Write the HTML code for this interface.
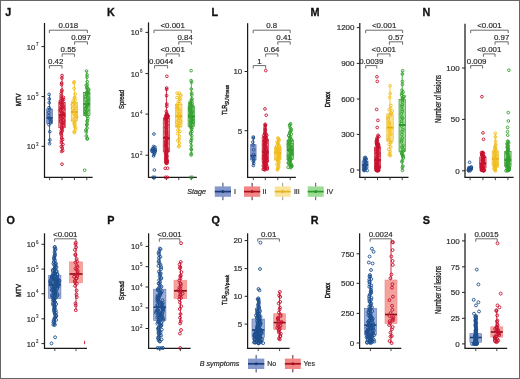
<!DOCTYPE html>
<html><head><meta charset="utf-8"><title>Figure</title>
<style>html,body{margin:0;padding:0;background:#fff;width:520px;height:379px;overflow:hidden}text{font-family:"Liberation Sans", sans-serif}</style>
</head><body><svg width="520" height="379" viewBox="0 0 520 379" style="display:block;font-family:'Liberation Sans', sans-serif"><defs><filter id="gs" x="0" y="0" width="1" height="1"><feColorMatrix type="saturate" values="1"/></filter></defs><g filter="url(#gs)"><rect x="0" y="0" width="520" height="379" fill="#fff"/>
<text x="5.30" y="15.90" font-size="10.8" text-anchor="start" font-weight="bold" fill="#111" stroke="#111" stroke-width="0.3" style="">J</text>
<text x="107.00" y="15.90" font-size="10.8" text-anchor="start" font-weight="bold" fill="#111" stroke="#111" stroke-width="0.3" style="">K</text>
<text x="211.60" y="15.90" font-size="10.8" text-anchor="start" font-weight="bold" fill="#111" stroke="#111" stroke-width="0.3" style="">L</text>
<text x="310.60" y="15.90" font-size="10.8" text-anchor="start" font-weight="bold" fill="#111" stroke="#111" stroke-width="0.3" style="">M</text>
<text x="422.60" y="15.90" font-size="10.8" text-anchor="start" font-weight="bold" fill="#111" stroke="#111" stroke-width="0.3" style="">N</text>
<text x="6.40" y="224.20" font-size="10.8" text-anchor="start" font-weight="bold" fill="#111" stroke="#111" stroke-width="0.3" style="">O</text>
<text x="107.20" y="224.20" font-size="10.8" text-anchor="start" font-weight="bold" fill="#111" stroke="#111" stroke-width="0.3" style="">P</text>
<text x="211.60" y="224.20" font-size="10.8" text-anchor="start" font-weight="bold" fill="#111" stroke="#111" stroke-width="0.3" style="">Q</text>
<text x="310.80" y="224.20" font-size="10.8" text-anchor="start" font-weight="bold" fill="#111" stroke="#111" stroke-width="0.3" style="">R</text>
<text x="422.80" y="224.20" font-size="10.8" text-anchor="start" font-weight="bold" fill="#111" stroke="#111" stroke-width="0.3" style="">S</text>
<line x1="44.50" y1="23.00" x2="44.50" y2="177.35" stroke="#1a1a1a" stroke-width="1.25" />
<line x1="41.50" y1="46.60" x2="44.50" y2="46.60" stroke="#222" stroke-width="1.0" />
<text x="35.30" y="49.50" font-size="7.6" text-anchor="end" font-weight="normal" fill="#2a2a2a" stroke="#2a2a2a" stroke-width="0.18" style="">10</text>
<text x="35.90" y="46.10" font-size="4.5" text-anchor="start" font-weight="normal" fill="#2a2a2a" stroke="#2a2a2a" stroke-width="0.1" style="">7</text>
<line x1="41.50" y1="96.60" x2="44.50" y2="96.60" stroke="#222" stroke-width="1.0" />
<text x="35.30" y="99.50" font-size="7.6" text-anchor="end" font-weight="normal" fill="#2a2a2a" stroke="#2a2a2a" stroke-width="0.18" style="">10</text>
<text x="35.90" y="96.10" font-size="4.5" text-anchor="start" font-weight="normal" fill="#2a2a2a" stroke="#2a2a2a" stroke-width="0.1" style="">5</text>
<line x1="41.50" y1="146.30" x2="44.50" y2="146.30" stroke="#222" stroke-width="1.0" />
<text x="35.30" y="149.20" font-size="7.6" text-anchor="end" font-weight="normal" fill="#2a2a2a" stroke="#2a2a2a" stroke-width="0.18" style="">10</text>
<text x="35.90" y="145.80" font-size="4.5" text-anchor="start" font-weight="normal" fill="#2a2a2a" stroke="#2a2a2a" stroke-width="0.1" style="">3</text>
<line x1="43.90" y1="177.35" x2="92.60" y2="177.35" stroke="#1a1a1a" stroke-width="1.15" />
<line x1="49.60" y1="177.35" x2="49.60" y2="180.15" stroke="#333" stroke-width="0.9" />
<line x1="62.00" y1="177.35" x2="62.00" y2="180.15" stroke="#333" stroke-width="0.9" />
<line x1="74.40" y1="177.35" x2="74.40" y2="180.15" stroke="#333" stroke-width="0.9" />
<line x1="86.80" y1="177.35" x2="86.80" y2="180.15" stroke="#333" stroke-width="0.9" />
<g transform="translate(18.30,99.70) rotate(-90) scale(0.73,1)"><text x="0" y="2.92" font-size="8.1" font-weight="normal" text-anchor="middle" fill="#222" stroke="#222" stroke-width="0.45">MTV</text></g>
<path d="M49.40,33.10V30.20H87.40V33.10" fill="none" stroke="#5a5a5a" stroke-width="0.9"/>
<text x="68.40" y="28.10" font-size="7.9" text-anchor="middle" font-weight="normal" fill="#2a2a2a" stroke="#2a2a2a" stroke-width="0.18" style="">0.018</text>
<path d="M74.60,44.70V41.80H87.40V44.70" fill="none" stroke="#5a5a5a" stroke-width="0.9"/>
<text x="81.00" y="39.70" font-size="7.9" text-anchor="middle" font-weight="normal" fill="#2a2a2a" stroke="#2a2a2a" stroke-width="0.18" style="">0.097</text>
<path d="M62.20,56.80V53.90H74.40V56.80" fill="none" stroke="#5a5a5a" stroke-width="0.9"/>
<text x="68.30" y="51.80" font-size="7.9" text-anchor="middle" font-weight="normal" fill="#2a2a2a" stroke="#2a2a2a" stroke-width="0.18" style="">0.55</text>
<path d="M49.40,68.50V65.60H62.00V68.50" fill="none" stroke="#5a5a5a" stroke-width="0.9"/>
<text x="55.70" y="63.50" font-size="7.9" text-anchor="middle" font-weight="normal" fill="#2a2a2a" stroke="#2a2a2a" stroke-width="0.18" style="">0.42</text>
<line x1="49.60" y1="94.40" x2="49.60" y2="143.70" stroke="#1d4f8f" stroke-width="0.9" />
<rect x="46.60" y="109.00" width="6.00" height="14.50" fill="#8598cc" stroke="#5a6fb0" stroke-width="0.6" />
<line x1="46.60" y1="118.00" x2="52.60" y2="118.00" stroke="#163f78" stroke-width="1.6" />
<circle cx="49.91" cy="139.90" r="1.35" fill="none" stroke="#1d4f8f" stroke-width="0.9"/>
<circle cx="49.79" cy="131.71" r="1.35" fill="none" stroke="#1d4f8f" stroke-width="0.9"/>
<circle cx="48.96" cy="124.68" r="1.35" fill="none" stroke="#1d4f8f" stroke-width="0.9"/>
<circle cx="50.56" cy="122.95" r="1.35" fill="none" stroke="#1d4f8f" stroke-width="0.9"/>
<circle cx="50.96" cy="121.04" r="1.35" fill="none" stroke="#1d4f8f" stroke-width="0.9"/>
<circle cx="50.06" cy="119.57" r="1.35" fill="none" stroke="#1d4f8f" stroke-width="0.9"/>
<circle cx="49.88" cy="118.55" r="1.35" fill="none" stroke="#1d4f8f" stroke-width="0.9"/>
<circle cx="48.95" cy="115.66" r="1.35" fill="none" stroke="#1d4f8f" stroke-width="0.9"/>
<circle cx="48.79" cy="112.63" r="1.35" fill="none" stroke="#1d4f8f" stroke-width="0.9"/>
<circle cx="49.64" cy="108.95" r="1.35" fill="none" stroke="#1d4f8f" stroke-width="0.9"/>
<circle cx="48.99" cy="107.63" r="1.35" fill="none" stroke="#1d4f8f" stroke-width="0.9"/>
<circle cx="49.23" cy="102.72" r="1.35" fill="none" stroke="#1d4f8f" stroke-width="0.9"/>
<circle cx="49.32" cy="98.88" r="1.35" fill="none" stroke="#1d4f8f" stroke-width="0.9"/>
<circle cx="49.13" cy="94.40" r="1.35" fill="none" stroke="#1d4f8f" stroke-width="0.9"/>
<circle cx="49.56" cy="143.70" r="1.35" fill="none" stroke="#1d4f8f" stroke-width="0.9"/>
<line x1="62.00" y1="75.50" x2="62.00" y2="151.50" stroke="#c8102e" stroke-width="0.9" />
<rect x="58.80" y="102.30" width="6.40" height="25.50" fill="#f08a8e" stroke="#b81830" stroke-width="0.6" />
<line x1="58.80" y1="115.00" x2="65.20" y2="115.00" stroke="#8a0a1c" stroke-width="1.6" />
<circle cx="62.67" cy="150.61" r="1.35" fill="none" stroke="#c8102e" stroke-width="0.9"/>
<circle cx="62.27" cy="147.93" r="1.35" fill="none" stroke="#c8102e" stroke-width="0.9"/>
<circle cx="61.22" cy="146.56" r="1.35" fill="none" stroke="#c8102e" stroke-width="0.9"/>
<circle cx="62.98" cy="144.47" r="1.35" fill="none" stroke="#c8102e" stroke-width="0.9"/>
<circle cx="61.42" cy="142.87" r="1.35" fill="none" stroke="#c8102e" stroke-width="0.9"/>
<circle cx="61.49" cy="140.82" r="1.35" fill="none" stroke="#c8102e" stroke-width="0.9"/>
<circle cx="62.58" cy="139.41" r="1.35" fill="none" stroke="#c8102e" stroke-width="0.9"/>
<circle cx="61.63" cy="138.00" r="1.35" fill="none" stroke="#c8102e" stroke-width="0.9"/>
<circle cx="61.53" cy="135.35" r="1.35" fill="none" stroke="#c8102e" stroke-width="0.9"/>
<circle cx="60.98" cy="133.83" r="1.35" fill="none" stroke="#c8102e" stroke-width="0.9"/>
<circle cx="60.99" cy="132.57" r="1.35" fill="none" stroke="#c8102e" stroke-width="0.9"/>
<circle cx="62.21" cy="131.34" r="1.35" fill="none" stroke="#c8102e" stroke-width="0.9"/>
<circle cx="61.32" cy="130.47" r="1.35" fill="none" stroke="#c8102e" stroke-width="0.9"/>
<circle cx="62.28" cy="129.29" r="1.35" fill="none" stroke="#c8102e" stroke-width="0.9"/>
<circle cx="61.63" cy="128.02" r="1.35" fill="none" stroke="#c8102e" stroke-width="0.9"/>
<circle cx="61.86" cy="127.11" r="1.35" fill="none" stroke="#c8102e" stroke-width="0.9"/>
<circle cx="63.50" cy="125.40" r="1.35" fill="none" stroke="#c8102e" stroke-width="0.9"/>
<circle cx="61.95" cy="124.74" r="1.35" fill="none" stroke="#c8102e" stroke-width="0.9"/>
<circle cx="62.26" cy="123.43" r="1.35" fill="none" stroke="#c8102e" stroke-width="0.9"/>
<circle cx="63.33" cy="122.91" r="1.35" fill="none" stroke="#c8102e" stroke-width="0.9"/>
<circle cx="60.80" cy="121.61" r="1.35" fill="none" stroke="#c8102e" stroke-width="0.9"/>
<circle cx="60.67" cy="120.86" r="1.35" fill="none" stroke="#c8102e" stroke-width="0.9"/>
<circle cx="63.58" cy="120.67" r="1.35" fill="none" stroke="#c8102e" stroke-width="0.9"/>
<circle cx="63.25" cy="119.71" r="1.35" fill="none" stroke="#c8102e" stroke-width="0.9"/>
<circle cx="61.02" cy="118.42" r="1.35" fill="none" stroke="#c8102e" stroke-width="0.9"/>
<circle cx="60.79" cy="117.94" r="1.35" fill="none" stroke="#c8102e" stroke-width="0.9"/>
<circle cx="62.92" cy="116.75" r="1.35" fill="none" stroke="#c8102e" stroke-width="0.9"/>
<circle cx="63.67" cy="116.36" r="1.35" fill="none" stroke="#c8102e" stroke-width="0.9"/>
<circle cx="60.87" cy="115.76" r="1.35" fill="none" stroke="#c8102e" stroke-width="0.9"/>
<circle cx="63.63" cy="114.46" r="1.35" fill="none" stroke="#c8102e" stroke-width="0.9"/>
<circle cx="63.39" cy="113.46" r="1.35" fill="none" stroke="#c8102e" stroke-width="0.9"/>
<circle cx="62.38" cy="112.98" r="1.35" fill="none" stroke="#c8102e" stroke-width="0.9"/>
<circle cx="61.72" cy="112.24" r="1.35" fill="none" stroke="#c8102e" stroke-width="0.9"/>
<circle cx="60.57" cy="111.16" r="1.35" fill="none" stroke="#c8102e" stroke-width="0.9"/>
<circle cx="60.33" cy="109.78" r="1.35" fill="none" stroke="#c8102e" stroke-width="0.9"/>
<circle cx="63.68" cy="109.06" r="1.35" fill="none" stroke="#c8102e" stroke-width="0.9"/>
<circle cx="61.05" cy="108.69" r="1.35" fill="none" stroke="#c8102e" stroke-width="0.9"/>
<circle cx="62.74" cy="107.71" r="1.35" fill="none" stroke="#c8102e" stroke-width="0.9"/>
<circle cx="61.11" cy="106.95" r="1.35" fill="none" stroke="#c8102e" stroke-width="0.9"/>
<circle cx="63.18" cy="106.10" r="1.35" fill="none" stroke="#c8102e" stroke-width="0.9"/>
<circle cx="62.35" cy="104.66" r="1.35" fill="none" stroke="#c8102e" stroke-width="0.9"/>
<circle cx="61.24" cy="104.27" r="1.35" fill="none" stroke="#c8102e" stroke-width="0.9"/>
<circle cx="60.80" cy="103.11" r="1.35" fill="none" stroke="#c8102e" stroke-width="0.9"/>
<circle cx="62.82" cy="102.34" r="1.35" fill="none" stroke="#c8102e" stroke-width="0.9"/>
<circle cx="60.26" cy="101.72" r="1.35" fill="none" stroke="#c8102e" stroke-width="0.9"/>
<circle cx="60.77" cy="100.66" r="1.35" fill="none" stroke="#c8102e" stroke-width="0.9"/>
<circle cx="62.27" cy="100.36" r="1.35" fill="none" stroke="#c8102e" stroke-width="0.9"/>
<circle cx="63.57" cy="99.39" r="1.35" fill="none" stroke="#c8102e" stroke-width="0.9"/>
<circle cx="62.49" cy="99.03" r="1.35" fill="none" stroke="#c8102e" stroke-width="0.9"/>
<circle cx="61.18" cy="98.04" r="1.35" fill="none" stroke="#c8102e" stroke-width="0.9"/>
<circle cx="63.40" cy="97.30" r="1.35" fill="none" stroke="#c8102e" stroke-width="0.9"/>
<circle cx="61.15" cy="96.17" r="1.35" fill="none" stroke="#c8102e" stroke-width="0.9"/>
<circle cx="61.12" cy="93.73" r="1.35" fill="none" stroke="#c8102e" stroke-width="0.9"/>
<circle cx="61.67" cy="91.67" r="1.35" fill="none" stroke="#c8102e" stroke-width="0.9"/>
<circle cx="61.93" cy="90.03" r="1.35" fill="none" stroke="#c8102e" stroke-width="0.9"/>
<circle cx="61.52" cy="84.59" r="1.35" fill="none" stroke="#c8102e" stroke-width="0.9"/>
<circle cx="61.66" cy="83.01" r="1.35" fill="none" stroke="#c8102e" stroke-width="0.9"/>
<circle cx="61.87" cy="78.09" r="1.35" fill="none" stroke="#c8102e" stroke-width="0.9"/>
<circle cx="62.07" cy="75.50" r="1.35" fill="none" stroke="#c8102e" stroke-width="0.9"/>
<circle cx="61.63" cy="151.50" r="1.35" fill="none" stroke="#c8102e" stroke-width="0.9"/>
<circle cx="62.00" cy="164.20" r="1.35" fill="none" stroke="#c8102e" stroke-width="0.9"/>
<line x1="74.40" y1="81.80" x2="74.40" y2="132.60" stroke="#f2bf1e" stroke-width="0.9" />
<rect x="71.20" y="102.50" width="6.40" height="18.50" fill="#fbe296" stroke="#e8b420" stroke-width="0.6" />
<line x1="71.20" y1="112.00" x2="77.60" y2="112.00" stroke="#d89c0a" stroke-width="1.6" />
<circle cx="74.12" cy="131.96" r="1.35" fill="none" stroke="#f2bd1a" stroke-width="0.9"/>
<circle cx="75.40" cy="129.49" r="1.35" fill="none" stroke="#f2bd1a" stroke-width="0.9"/>
<circle cx="75.69" cy="127.74" r="1.35" fill="none" stroke="#f2bd1a" stroke-width="0.9"/>
<circle cx="74.66" cy="126.62" r="1.35" fill="none" stroke="#f2bd1a" stroke-width="0.9"/>
<circle cx="74.86" cy="125.04" r="1.35" fill="none" stroke="#f2bd1a" stroke-width="0.9"/>
<circle cx="73.95" cy="123.70" r="1.35" fill="none" stroke="#f2bd1a" stroke-width="0.9"/>
<circle cx="74.72" cy="122.84" r="1.35" fill="none" stroke="#f2bd1a" stroke-width="0.9"/>
<circle cx="74.83" cy="121.57" r="1.35" fill="none" stroke="#f2bd1a" stroke-width="0.9"/>
<circle cx="72.66" cy="120.25" r="1.35" fill="none" stroke="#f2bd1a" stroke-width="0.9"/>
<circle cx="75.02" cy="118.01" r="1.35" fill="none" stroke="#f2bd1a" stroke-width="0.9"/>
<circle cx="76.64" cy="117.05" r="1.35" fill="none" stroke="#f2bd1a" stroke-width="0.9"/>
<circle cx="76.15" cy="115.62" r="1.35" fill="none" stroke="#f2bd1a" stroke-width="0.9"/>
<circle cx="75.45" cy="115.45" r="1.35" fill="none" stroke="#f2bd1a" stroke-width="0.9"/>
<circle cx="73.90" cy="113.65" r="1.35" fill="none" stroke="#f2bd1a" stroke-width="0.9"/>
<circle cx="75.44" cy="112.63" r="1.35" fill="none" stroke="#f2bd1a" stroke-width="0.9"/>
<circle cx="74.75" cy="111.13" r="1.35" fill="none" stroke="#f2bd1a" stroke-width="0.9"/>
<circle cx="74.14" cy="110.36" r="1.35" fill="none" stroke="#f2bd1a" stroke-width="0.9"/>
<circle cx="75.86" cy="108.36" r="1.35" fill="none" stroke="#f2bd1a" stroke-width="0.9"/>
<circle cx="72.60" cy="108.16" r="1.35" fill="none" stroke="#f2bd1a" stroke-width="0.9"/>
<circle cx="75.46" cy="106.37" r="1.35" fill="none" stroke="#f2bd1a" stroke-width="0.9"/>
<circle cx="72.44" cy="104.87" r="1.35" fill="none" stroke="#f2bd1a" stroke-width="0.9"/>
<circle cx="74.81" cy="103.36" r="1.35" fill="none" stroke="#f2bd1a" stroke-width="0.9"/>
<circle cx="74.32" cy="102.22" r="1.35" fill="none" stroke="#f2bd1a" stroke-width="0.9"/>
<circle cx="73.17" cy="101.04" r="1.35" fill="none" stroke="#f2bd1a" stroke-width="0.9"/>
<circle cx="75.25" cy="99.76" r="1.35" fill="none" stroke="#f2bd1a" stroke-width="0.9"/>
<circle cx="74.39" cy="98.18" r="1.35" fill="none" stroke="#f2bd1a" stroke-width="0.9"/>
<circle cx="74.75" cy="97.32" r="1.35" fill="none" stroke="#f2bd1a" stroke-width="0.9"/>
<circle cx="75.16" cy="93.98" r="1.35" fill="none" stroke="#f2bd1a" stroke-width="0.9"/>
<circle cx="74.08" cy="88.42" r="1.35" fill="none" stroke="#f2bd1a" stroke-width="0.9"/>
<circle cx="73.80" cy="82.80" r="1.35" fill="none" stroke="#f2bd1a" stroke-width="0.9"/>
<circle cx="74.20" cy="81.80" r="1.35" fill="none" stroke="#f2bd1a" stroke-width="0.9"/>
<circle cx="74.58" cy="132.60" r="1.35" fill="none" stroke="#f2bd1a" stroke-width="0.9"/>
<line x1="86.80" y1="71.00" x2="86.80" y2="139.00" stroke="#35a631" stroke-width="0.9" />
<rect x="83.60" y="92.50" width="6.40" height="22.80" fill="#9ddb96" stroke="#2a8a2a" stroke-width="0.6" />
<line x1="83.60" y1="104.00" x2="90.00" y2="104.00" stroke="#1f7a24" stroke-width="1.6" />
<circle cx="87.36" cy="138.40" r="1.35" fill="none" stroke="#32a02e" stroke-width="0.9"/>
<circle cx="86.34" cy="135.92" r="1.35" fill="none" stroke="#32a02e" stroke-width="0.9"/>
<circle cx="86.15" cy="131.83" r="1.35" fill="none" stroke="#32a02e" stroke-width="0.9"/>
<circle cx="85.96" cy="130.00" r="1.35" fill="none" stroke="#32a02e" stroke-width="0.9"/>
<circle cx="87.05" cy="128.16" r="1.35" fill="none" stroke="#32a02e" stroke-width="0.9"/>
<circle cx="86.69" cy="125.11" r="1.35" fill="none" stroke="#32a02e" stroke-width="0.9"/>
<circle cx="87.07" cy="124.09" r="1.35" fill="none" stroke="#32a02e" stroke-width="0.9"/>
<circle cx="87.14" cy="121.53" r="1.35" fill="none" stroke="#32a02e" stroke-width="0.9"/>
<circle cx="87.50" cy="120.46" r="1.35" fill="none" stroke="#32a02e" stroke-width="0.9"/>
<circle cx="87.93" cy="118.37" r="1.35" fill="none" stroke="#32a02e" stroke-width="0.9"/>
<circle cx="87.30" cy="116.31" r="1.35" fill="none" stroke="#32a02e" stroke-width="0.9"/>
<circle cx="85.90" cy="114.81" r="1.35" fill="none" stroke="#32a02e" stroke-width="0.9"/>
<circle cx="86.72" cy="113.62" r="1.35" fill="none" stroke="#32a02e" stroke-width="0.9"/>
<circle cx="85.73" cy="112.98" r="1.35" fill="none" stroke="#32a02e" stroke-width="0.9"/>
<circle cx="85.05" cy="111.71" r="1.35" fill="none" stroke="#32a02e" stroke-width="0.9"/>
<circle cx="86.70" cy="110.95" r="1.35" fill="none" stroke="#32a02e" stroke-width="0.9"/>
<circle cx="87.63" cy="110.15" r="1.35" fill="none" stroke="#32a02e" stroke-width="0.9"/>
<circle cx="85.51" cy="108.94" r="1.35" fill="none" stroke="#32a02e" stroke-width="0.9"/>
<circle cx="85.87" cy="107.80" r="1.35" fill="none" stroke="#32a02e" stroke-width="0.9"/>
<circle cx="86.17" cy="106.92" r="1.35" fill="none" stroke="#32a02e" stroke-width="0.9"/>
<circle cx="87.59" cy="106.15" r="1.35" fill="none" stroke="#32a02e" stroke-width="0.9"/>
<circle cx="86.88" cy="105.05" r="1.35" fill="none" stroke="#32a02e" stroke-width="0.9"/>
<circle cx="87.24" cy="104.68" r="1.35" fill="none" stroke="#32a02e" stroke-width="0.9"/>
<circle cx="87.74" cy="103.80" r="1.35" fill="none" stroke="#32a02e" stroke-width="0.9"/>
<circle cx="86.41" cy="102.55" r="1.35" fill="none" stroke="#32a02e" stroke-width="0.9"/>
<circle cx="87.86" cy="101.70" r="1.35" fill="none" stroke="#32a02e" stroke-width="0.9"/>
<circle cx="88.27" cy="100.75" r="1.35" fill="none" stroke="#32a02e" stroke-width="0.9"/>
<circle cx="85.31" cy="99.56" r="1.35" fill="none" stroke="#32a02e" stroke-width="0.9"/>
<circle cx="88.37" cy="98.35" r="1.35" fill="none" stroke="#32a02e" stroke-width="0.9"/>
<circle cx="87.61" cy="97.46" r="1.35" fill="none" stroke="#32a02e" stroke-width="0.9"/>
<circle cx="85.45" cy="96.62" r="1.35" fill="none" stroke="#32a02e" stroke-width="0.9"/>
<circle cx="86.63" cy="95.15" r="1.35" fill="none" stroke="#32a02e" stroke-width="0.9"/>
<circle cx="87.26" cy="94.03" r="1.35" fill="none" stroke="#32a02e" stroke-width="0.9"/>
<circle cx="88.32" cy="93.52" r="1.35" fill="none" stroke="#32a02e" stroke-width="0.9"/>
<circle cx="86.34" cy="92.87" r="1.35" fill="none" stroke="#32a02e" stroke-width="0.9"/>
<circle cx="87.08" cy="91.97" r="1.35" fill="none" stroke="#32a02e" stroke-width="0.9"/>
<circle cx="88.54" cy="90.57" r="1.35" fill="none" stroke="#32a02e" stroke-width="0.9"/>
<circle cx="88.16" cy="90.39" r="1.35" fill="none" stroke="#32a02e" stroke-width="0.9"/>
<circle cx="88.61" cy="89.11" r="1.35" fill="none" stroke="#32a02e" stroke-width="0.9"/>
<circle cx="86.67" cy="88.29" r="1.35" fill="none" stroke="#32a02e" stroke-width="0.9"/>
<circle cx="87.28" cy="87.45" r="1.35" fill="none" stroke="#32a02e" stroke-width="0.9"/>
<circle cx="86.16" cy="85.38" r="1.35" fill="none" stroke="#32a02e" stroke-width="0.9"/>
<circle cx="87.23" cy="84.75" r="1.35" fill="none" stroke="#32a02e" stroke-width="0.9"/>
<circle cx="87.27" cy="81.78" r="1.35" fill="none" stroke="#32a02e" stroke-width="0.9"/>
<circle cx="86.98" cy="77.25" r="1.35" fill="none" stroke="#32a02e" stroke-width="0.9"/>
<circle cx="87.06" cy="74.83" r="1.35" fill="none" stroke="#32a02e" stroke-width="0.9"/>
<circle cx="86.51" cy="71.00" r="1.35" fill="none" stroke="#32a02e" stroke-width="0.9"/>
<circle cx="87.20" cy="139.00" r="1.35" fill="none" stroke="#32a02e" stroke-width="0.9"/>
<circle cx="84.60" cy="170.20" r="1.35" fill="none" stroke="#32a02e" stroke-width="0.9"/>
<line x1="148.50" y1="22.40" x2="148.50" y2="177.35" stroke="#1a1a1a" stroke-width="1.25" />
<line x1="145.50" y1="32.40" x2="148.50" y2="32.40" stroke="#222" stroke-width="1.0" />
<text x="139.30" y="35.30" font-size="7.6" text-anchor="end" font-weight="normal" fill="#2a2a2a" stroke="#2a2a2a" stroke-width="0.18" style="">10</text>
<text x="139.90" y="31.90" font-size="4.5" text-anchor="start" font-weight="normal" fill="#2a2a2a" stroke="#2a2a2a" stroke-width="0.1" style="">8</text>
<line x1="145.50" y1="73.60" x2="148.50" y2="73.60" stroke="#222" stroke-width="1.0" />
<text x="139.30" y="76.50" font-size="7.6" text-anchor="end" font-weight="normal" fill="#2a2a2a" stroke="#2a2a2a" stroke-width="0.18" style="">10</text>
<text x="139.90" y="73.10" font-size="4.5" text-anchor="start" font-weight="normal" fill="#2a2a2a" stroke="#2a2a2a" stroke-width="0.1" style="">6</text>
<line x1="145.50" y1="114.10" x2="148.50" y2="114.10" stroke="#222" stroke-width="1.0" />
<text x="139.30" y="117.00" font-size="7.6" text-anchor="end" font-weight="normal" fill="#2a2a2a" stroke="#2a2a2a" stroke-width="0.18" style="">10</text>
<text x="139.90" y="113.60" font-size="4.5" text-anchor="start" font-weight="normal" fill="#2a2a2a" stroke="#2a2a2a" stroke-width="0.1" style="">4</text>
<line x1="145.50" y1="155.20" x2="148.50" y2="155.20" stroke="#222" stroke-width="1.0" />
<text x="139.30" y="158.10" font-size="7.6" text-anchor="end" font-weight="normal" fill="#2a2a2a" stroke="#2a2a2a" stroke-width="0.18" style="">10</text>
<text x="139.90" y="154.70" font-size="4.5" text-anchor="start" font-weight="normal" fill="#2a2a2a" stroke="#2a2a2a" stroke-width="0.1" style="">2</text>
<line x1="147.90" y1="177.35" x2="196.80" y2="177.35" stroke="#1a1a1a" stroke-width="1.15" />
<line x1="153.90" y1="177.35" x2="153.90" y2="180.15" stroke="#333" stroke-width="0.9" />
<line x1="166.40" y1="177.35" x2="166.40" y2="180.15" stroke="#333" stroke-width="0.9" />
<line x1="178.80" y1="177.35" x2="178.80" y2="180.15" stroke="#333" stroke-width="0.9" />
<line x1="191.30" y1="177.35" x2="191.30" y2="180.15" stroke="#333" stroke-width="0.9" />
<g transform="translate(121.40,99.50) rotate(-90) scale(0.73,1)"><text x="0" y="2.92" font-size="8.1" font-weight="normal" text-anchor="middle" fill="#222" stroke="#222" stroke-width="0.35">Spread</text></g>
<path d="M154.00,33.10V30.20H191.40V33.10" fill="none" stroke="#5a5a5a" stroke-width="0.9"/>
<text x="172.70" y="28.10" font-size="7.9" text-anchor="middle" font-weight="normal" fill="#2a2a2a" stroke="#2a2a2a" stroke-width="0.18" style="">&lt;0.001</text>
<path d="M178.80,44.70V41.80H191.40V44.70" fill="none" stroke="#5a5a5a" stroke-width="0.9"/>
<text x="185.10" y="39.70" font-size="7.9" text-anchor="middle" font-weight="normal" fill="#2a2a2a" stroke="#2a2a2a" stroke-width="0.18" style="">0.84</text>
<path d="M166.20,56.80V53.90H179.20V56.80" fill="none" stroke="#5a5a5a" stroke-width="0.9"/>
<text x="172.70" y="51.80" font-size="7.9" text-anchor="middle" font-weight="normal" fill="#2a2a2a" stroke="#2a2a2a" stroke-width="0.18" style="">&lt;0.001</text>
<path d="M154.60,68.50V65.60H167.60V68.50" fill="none" stroke="#5a5a5a" stroke-width="0.9"/>
<text x="161.10" y="63.50" font-size="7.9" text-anchor="middle" font-weight="normal" fill="#2a2a2a" stroke="#2a2a2a" stroke-width="0.18" style="">0.0044</text>
<line x1="153.90" y1="146.50" x2="153.90" y2="156.00" stroke="#1d4f8f" stroke-width="0.9" />
<rect x="151.50" y="148.80" width="4.80" height="3.70" fill="#8598cc" stroke="#5a6fb0" stroke-width="0.6" />
<line x1="151.50" y1="150.50" x2="156.30" y2="150.50" stroke="#163f78" stroke-width="1.6" />
<circle cx="154.02" cy="154.50" r="1.35" fill="none" stroke="#1d4f8f" stroke-width="0.9"/>
<circle cx="154.64" cy="153.14" r="1.35" fill="none" stroke="#1d4f8f" stroke-width="0.9"/>
<circle cx="153.86" cy="152.47" r="1.35" fill="none" stroke="#1d4f8f" stroke-width="0.9"/>
<circle cx="152.00" cy="151.40" r="1.35" fill="none" stroke="#1d4f8f" stroke-width="0.9"/>
<circle cx="155.20" cy="150.98" r="1.35" fill="none" stroke="#1d4f8f" stroke-width="0.9"/>
<circle cx="151.89" cy="149.91" r="1.35" fill="none" stroke="#1d4f8f" stroke-width="0.9"/>
<circle cx="155.23" cy="149.29" r="1.35" fill="none" stroke="#1d4f8f" stroke-width="0.9"/>
<circle cx="152.57" cy="148.90" r="1.35" fill="none" stroke="#1d4f8f" stroke-width="0.9"/>
<circle cx="153.30" cy="148.29" r="1.35" fill="none" stroke="#1d4f8f" stroke-width="0.9"/>
<circle cx="154.84" cy="147.06" r="1.35" fill="none" stroke="#1d4f8f" stroke-width="0.9"/>
<circle cx="153.54" cy="146.50" r="1.35" fill="none" stroke="#1d4f8f" stroke-width="0.9"/>
<circle cx="153.55" cy="156.00" r="1.35" fill="none" stroke="#1d4f8f" stroke-width="0.9"/>
<circle cx="153.93" cy="134.00" r="1.35" fill="none" stroke="#1d4f8f" stroke-width="0.9"/>
<circle cx="154.35" cy="170.00" r="1.35" fill="none" stroke="#1d4f8f" stroke-width="0.9"/>
<circle cx="153.00" cy="177.30" r="1.35" fill="none" stroke="#1d4f8f" stroke-width="0.9"/>
<circle cx="154.80" cy="177.30" r="1.35" fill="none" stroke="#1d4f8f" stroke-width="0.9"/>
<line x1="166.40" y1="88.00" x2="166.40" y2="163.50" stroke="#c8102e" stroke-width="0.9" />
<rect x="163.20" y="118.00" width="6.40" height="34.00" fill="#f08a8e" stroke="#b81830" stroke-width="0.6" />
<line x1="163.20" y1="138.00" x2="169.60" y2="138.00" stroke="#8a0a1c" stroke-width="1.6" />
<circle cx="167.11" cy="163.09" r="1.35" fill="none" stroke="#c8102e" stroke-width="0.9"/>
<circle cx="166.08" cy="162.66" r="1.35" fill="none" stroke="#c8102e" stroke-width="0.9"/>
<circle cx="166.08" cy="162.02" r="1.35" fill="none" stroke="#c8102e" stroke-width="0.9"/>
<circle cx="167.13" cy="161.71" r="1.35" fill="none" stroke="#c8102e" stroke-width="0.9"/>
<circle cx="165.92" cy="160.97" r="1.35" fill="none" stroke="#c8102e" stroke-width="0.9"/>
<circle cx="167.24" cy="160.85" r="1.35" fill="none" stroke="#c8102e" stroke-width="0.9"/>
<circle cx="167.05" cy="160.25" r="1.35" fill="none" stroke="#c8102e" stroke-width="0.9"/>
<circle cx="165.79" cy="159.56" r="1.35" fill="none" stroke="#c8102e" stroke-width="0.9"/>
<circle cx="165.97" cy="159.13" r="1.35" fill="none" stroke="#c8102e" stroke-width="0.9"/>
<circle cx="166.77" cy="158.35" r="1.35" fill="none" stroke="#c8102e" stroke-width="0.9"/>
<circle cx="166.01" cy="157.84" r="1.35" fill="none" stroke="#c8102e" stroke-width="0.9"/>
<circle cx="165.75" cy="157.33" r="1.35" fill="none" stroke="#c8102e" stroke-width="0.9"/>
<circle cx="166.93" cy="156.59" r="1.35" fill="none" stroke="#c8102e" stroke-width="0.9"/>
<circle cx="166.28" cy="156.16" r="1.35" fill="none" stroke="#c8102e" stroke-width="0.9"/>
<circle cx="166.85" cy="155.71" r="1.35" fill="none" stroke="#c8102e" stroke-width="0.9"/>
<circle cx="165.82" cy="155.08" r="1.35" fill="none" stroke="#c8102e" stroke-width="0.9"/>
<circle cx="166.25" cy="154.24" r="1.35" fill="none" stroke="#c8102e" stroke-width="0.9"/>
<circle cx="166.68" cy="153.61" r="1.35" fill="none" stroke="#c8102e" stroke-width="0.9"/>
<circle cx="165.66" cy="153.38" r="1.35" fill="none" stroke="#c8102e" stroke-width="0.9"/>
<circle cx="165.95" cy="152.42" r="1.35" fill="none" stroke="#c8102e" stroke-width="0.9"/>
<circle cx="166.67" cy="151.74" r="1.35" fill="none" stroke="#c8102e" stroke-width="0.9"/>
<circle cx="167.02" cy="151.37" r="1.35" fill="none" stroke="#c8102e" stroke-width="0.9"/>
<circle cx="167.10" cy="150.72" r="1.35" fill="none" stroke="#c8102e" stroke-width="0.9"/>
<circle cx="165.83" cy="150.31" r="1.35" fill="none" stroke="#c8102e" stroke-width="0.9"/>
<circle cx="166.41" cy="149.50" r="1.35" fill="none" stroke="#c8102e" stroke-width="0.9"/>
<circle cx="166.78" cy="148.89" r="1.35" fill="none" stroke="#c8102e" stroke-width="0.9"/>
<circle cx="166.40" cy="148.19" r="1.35" fill="none" stroke="#c8102e" stroke-width="0.9"/>
<circle cx="166.67" cy="147.89" r="1.35" fill="none" stroke="#c8102e" stroke-width="0.9"/>
<circle cx="165.95" cy="146.69" r="1.35" fill="none" stroke="#c8102e" stroke-width="0.9"/>
<circle cx="165.79" cy="146.30" r="1.35" fill="none" stroke="#c8102e" stroke-width="0.9"/>
<circle cx="165.84" cy="145.71" r="1.35" fill="none" stroke="#c8102e" stroke-width="0.9"/>
<circle cx="165.76" cy="144.79" r="1.35" fill="none" stroke="#c8102e" stroke-width="0.9"/>
<circle cx="166.47" cy="144.26" r="1.35" fill="none" stroke="#c8102e" stroke-width="0.9"/>
<circle cx="166.42" cy="143.61" r="1.35" fill="none" stroke="#c8102e" stroke-width="0.9"/>
<circle cx="166.49" cy="142.78" r="1.35" fill="none" stroke="#c8102e" stroke-width="0.9"/>
<circle cx="165.93" cy="142.46" r="1.35" fill="none" stroke="#c8102e" stroke-width="0.9"/>
<circle cx="165.99" cy="141.43" r="1.35" fill="none" stroke="#c8102e" stroke-width="0.9"/>
<circle cx="166.02" cy="140.77" r="1.35" fill="none" stroke="#c8102e" stroke-width="0.9"/>
<circle cx="166.83" cy="139.64" r="1.35" fill="none" stroke="#c8102e" stroke-width="0.9"/>
<circle cx="167.01" cy="138.89" r="1.35" fill="none" stroke="#c8102e" stroke-width="0.9"/>
<circle cx="166.93" cy="138.56" r="1.35" fill="none" stroke="#c8102e" stroke-width="0.9"/>
<circle cx="165.93" cy="137.61" r="1.35" fill="none" stroke="#c8102e" stroke-width="0.9"/>
<circle cx="165.91" cy="137.01" r="1.35" fill="none" stroke="#c8102e" stroke-width="0.9"/>
<circle cx="166.87" cy="135.80" r="1.35" fill="none" stroke="#c8102e" stroke-width="0.9"/>
<circle cx="166.36" cy="134.42" r="1.35" fill="none" stroke="#c8102e" stroke-width="0.9"/>
<circle cx="166.66" cy="133.25" r="1.35" fill="none" stroke="#c8102e" stroke-width="0.9"/>
<circle cx="166.23" cy="132.56" r="1.35" fill="none" stroke="#c8102e" stroke-width="0.9"/>
<circle cx="166.37" cy="131.58" r="1.35" fill="none" stroke="#c8102e" stroke-width="0.9"/>
<circle cx="166.42" cy="130.55" r="1.35" fill="none" stroke="#c8102e" stroke-width="0.9"/>
<circle cx="166.33" cy="128.92" r="1.35" fill="none" stroke="#c8102e" stroke-width="0.9"/>
<circle cx="166.50" cy="127.42" r="1.35" fill="none" stroke="#c8102e" stroke-width="0.9"/>
<circle cx="165.91" cy="127.09" r="1.35" fill="none" stroke="#c8102e" stroke-width="0.9"/>
<circle cx="166.60" cy="125.28" r="1.35" fill="none" stroke="#c8102e" stroke-width="0.9"/>
<circle cx="166.74" cy="124.93" r="1.35" fill="none" stroke="#c8102e" stroke-width="0.9"/>
<circle cx="166.08" cy="123.68" r="1.35" fill="none" stroke="#c8102e" stroke-width="0.9"/>
<circle cx="166.35" cy="122.62" r="1.35" fill="none" stroke="#c8102e" stroke-width="0.9"/>
<circle cx="166.67" cy="121.27" r="1.35" fill="none" stroke="#c8102e" stroke-width="0.9"/>
<circle cx="166.29" cy="120.68" r="1.35" fill="none" stroke="#c8102e" stroke-width="0.9"/>
<circle cx="166.01" cy="119.86" r="1.35" fill="none" stroke="#c8102e" stroke-width="0.9"/>
<circle cx="165.91" cy="118.99" r="1.35" fill="none" stroke="#c8102e" stroke-width="0.9"/>
<circle cx="166.42" cy="118.67" r="1.35" fill="none" stroke="#c8102e" stroke-width="0.9"/>
<circle cx="165.36" cy="117.92" r="1.35" fill="none" stroke="#c8102e" stroke-width="0.9"/>
<circle cx="167.31" cy="117.75" r="1.35" fill="none" stroke="#c8102e" stroke-width="0.9"/>
<circle cx="167.27" cy="117.32" r="1.35" fill="none" stroke="#c8102e" stroke-width="0.9"/>
<circle cx="167.07" cy="117.12" r="1.35" fill="none" stroke="#c8102e" stroke-width="0.9"/>
<circle cx="167.75" cy="116.92" r="1.35" fill="none" stroke="#c8102e" stroke-width="0.9"/>
<circle cx="166.96" cy="116.69" r="1.35" fill="none" stroke="#c8102e" stroke-width="0.9"/>
<circle cx="165.96" cy="116.54" r="1.35" fill="none" stroke="#c8102e" stroke-width="0.9"/>
<circle cx="166.86" cy="116.40" r="1.35" fill="none" stroke="#c8102e" stroke-width="0.9"/>
<circle cx="166.42" cy="116.24" r="1.35" fill="none" stroke="#c8102e" stroke-width="0.9"/>
<circle cx="168.23" cy="116.04" r="1.35" fill="none" stroke="#c8102e" stroke-width="0.9"/>
<circle cx="167.45" cy="115.90" r="1.35" fill="none" stroke="#c8102e" stroke-width="0.9"/>
<circle cx="165.69" cy="115.65" r="1.35" fill="none" stroke="#c8102e" stroke-width="0.9"/>
<circle cx="167.36" cy="115.23" r="1.35" fill="none" stroke="#c8102e" stroke-width="0.9"/>
<circle cx="166.89" cy="114.83" r="1.35" fill="none" stroke="#c8102e" stroke-width="0.9"/>
<circle cx="166.88" cy="114.40" r="1.35" fill="none" stroke="#c8102e" stroke-width="0.9"/>
<circle cx="166.71" cy="113.33" r="1.35" fill="none" stroke="#c8102e" stroke-width="0.9"/>
<circle cx="166.31" cy="111.32" r="1.35" fill="none" stroke="#c8102e" stroke-width="0.9"/>
<circle cx="166.80" cy="106.25" r="1.35" fill="none" stroke="#c8102e" stroke-width="0.9"/>
<circle cx="166.78" cy="104.00" r="1.35" fill="none" stroke="#c8102e" stroke-width="0.9"/>
<circle cx="166.59" cy="95.61" r="1.35" fill="none" stroke="#c8102e" stroke-width="0.9"/>
<circle cx="166.67" cy="89.27" r="1.35" fill="none" stroke="#c8102e" stroke-width="0.9"/>
<circle cx="166.67" cy="88.00" r="1.35" fill="none" stroke="#c8102e" stroke-width="0.9"/>
<circle cx="166.31" cy="163.50" r="1.35" fill="none" stroke="#c8102e" stroke-width="0.9"/>
<circle cx="166.85" cy="76.30" r="1.35" fill="none" stroke="#c8102e" stroke-width="0.9"/>
<circle cx="165.20" cy="168.30" r="1.35" fill="none" stroke="#c8102e" stroke-width="0.9"/>
<circle cx="167.60" cy="168.30" r="1.35" fill="none" stroke="#c8102e" stroke-width="0.9"/>
<circle cx="165.40" cy="177.30" r="1.35" fill="none" stroke="#c8102e" stroke-width="0.9"/>
<circle cx="167.40" cy="177.30" r="1.35" fill="none" stroke="#c8102e" stroke-width="0.9"/>
<line x1="178.80" y1="93.20" x2="178.80" y2="146.50" stroke="#f2bf1e" stroke-width="0.9" />
<rect x="175.60" y="104.50" width="6.40" height="22.50" fill="#fbe296" stroke="#e8b420" stroke-width="0.6" />
<line x1="175.60" y1="116.30" x2="182.00" y2="116.30" stroke="#d89c0a" stroke-width="1.6" />
<circle cx="179.12" cy="146.22" r="1.35" fill="none" stroke="#f2bd1a" stroke-width="0.9"/>
<circle cx="179.55" cy="143.17" r="1.35" fill="none" stroke="#f2bd1a" stroke-width="0.9"/>
<circle cx="177.75" cy="140.55" r="1.35" fill="none" stroke="#f2bd1a" stroke-width="0.9"/>
<circle cx="179.05" cy="139.20" r="1.35" fill="none" stroke="#f2bd1a" stroke-width="0.9"/>
<circle cx="179.46" cy="136.29" r="1.35" fill="none" stroke="#f2bd1a" stroke-width="0.9"/>
<circle cx="177.62" cy="133.51" r="1.35" fill="none" stroke="#f2bd1a" stroke-width="0.9"/>
<circle cx="179.96" cy="131.40" r="1.35" fill="none" stroke="#f2bd1a" stroke-width="0.9"/>
<circle cx="177.84" cy="130.08" r="1.35" fill="none" stroke="#f2bd1a" stroke-width="0.9"/>
<circle cx="178.70" cy="127.15" r="1.35" fill="none" stroke="#f2bd1a" stroke-width="0.9"/>
<circle cx="177.59" cy="126.04" r="1.35" fill="none" stroke="#f2bd1a" stroke-width="0.9"/>
<circle cx="178.78" cy="125.06" r="1.35" fill="none" stroke="#f2bd1a" stroke-width="0.9"/>
<circle cx="179.27" cy="123.43" r="1.35" fill="none" stroke="#f2bd1a" stroke-width="0.9"/>
<circle cx="176.86" cy="122.36" r="1.35" fill="none" stroke="#f2bd1a" stroke-width="0.9"/>
<circle cx="180.82" cy="121.29" r="1.35" fill="none" stroke="#f2bd1a" stroke-width="0.9"/>
<circle cx="178.44" cy="120.36" r="1.35" fill="none" stroke="#f2bd1a" stroke-width="0.9"/>
<circle cx="178.92" cy="118.68" r="1.35" fill="none" stroke="#f2bd1a" stroke-width="0.9"/>
<circle cx="179.23" cy="117.93" r="1.35" fill="none" stroke="#f2bd1a" stroke-width="0.9"/>
<circle cx="178.24" cy="116.69" r="1.35" fill="none" stroke="#f2bd1a" stroke-width="0.9"/>
<circle cx="177.94" cy="115.37" r="1.35" fill="none" stroke="#f2bd1a" stroke-width="0.9"/>
<circle cx="179.41" cy="113.83" r="1.35" fill="none" stroke="#f2bd1a" stroke-width="0.9"/>
<circle cx="179.04" cy="113.65" r="1.35" fill="none" stroke="#f2bd1a" stroke-width="0.9"/>
<circle cx="177.96" cy="111.63" r="1.35" fill="none" stroke="#f2bd1a" stroke-width="0.9"/>
<circle cx="179.64" cy="110.15" r="1.35" fill="none" stroke="#f2bd1a" stroke-width="0.9"/>
<circle cx="178.01" cy="109.40" r="1.35" fill="none" stroke="#f2bd1a" stroke-width="0.9"/>
<circle cx="176.92" cy="107.89" r="1.35" fill="none" stroke="#f2bd1a" stroke-width="0.9"/>
<circle cx="177.81" cy="106.98" r="1.35" fill="none" stroke="#f2bd1a" stroke-width="0.9"/>
<circle cx="177.00" cy="105.50" r="1.35" fill="none" stroke="#f2bd1a" stroke-width="0.9"/>
<circle cx="177.43" cy="104.00" r="1.35" fill="none" stroke="#f2bd1a" stroke-width="0.9"/>
<circle cx="179.82" cy="103.04" r="1.35" fill="none" stroke="#f2bd1a" stroke-width="0.9"/>
<circle cx="178.36" cy="101.60" r="1.35" fill="none" stroke="#f2bd1a" stroke-width="0.9"/>
<circle cx="180.41" cy="99.59" r="1.35" fill="none" stroke="#f2bd1a" stroke-width="0.9"/>
<circle cx="179.81" cy="98.73" r="1.35" fill="none" stroke="#f2bd1a" stroke-width="0.9"/>
<circle cx="176.97" cy="97.53" r="1.35" fill="none" stroke="#f2bd1a" stroke-width="0.9"/>
<circle cx="180.80" cy="95.77" r="1.35" fill="none" stroke="#f2bd1a" stroke-width="0.9"/>
<circle cx="180.62" cy="94.97" r="1.35" fill="none" stroke="#f2bd1a" stroke-width="0.9"/>
<circle cx="177.04" cy="93.27" r="1.35" fill="none" stroke="#f2bd1a" stroke-width="0.9"/>
<circle cx="179.21" cy="93.20" r="1.35" fill="none" stroke="#f2bd1a" stroke-width="0.9"/>
<circle cx="178.73" cy="146.50" r="1.35" fill="none" stroke="#f2bd1a" stroke-width="0.9"/>
<line x1="191.30" y1="80.60" x2="191.30" y2="155.00" stroke="#35a631" stroke-width="0.9" />
<rect x="188.10" y="106.00" width="6.40" height="20.50" fill="#9ddb96" stroke="#2a8a2a" stroke-width="0.6" />
<line x1="188.10" y1="116.30" x2="194.50" y2="116.30" stroke="#1f7a24" stroke-width="1.6" />
<circle cx="191.36" cy="153.69" r="1.35" fill="none" stroke="#32a02e" stroke-width="0.9"/>
<circle cx="191.47" cy="149.83" r="1.35" fill="none" stroke="#32a02e" stroke-width="0.9"/>
<circle cx="191.13" cy="148.94" r="1.35" fill="none" stroke="#32a02e" stroke-width="0.9"/>
<circle cx="191.27" cy="145.75" r="1.35" fill="none" stroke="#32a02e" stroke-width="0.9"/>
<circle cx="190.89" cy="142.41" r="1.35" fill="none" stroke="#32a02e" stroke-width="0.9"/>
<circle cx="191.07" cy="140.53" r="1.35" fill="none" stroke="#32a02e" stroke-width="0.9"/>
<circle cx="191.67" cy="138.80" r="1.35" fill="none" stroke="#32a02e" stroke-width="0.9"/>
<circle cx="191.85" cy="135.72" r="1.35" fill="none" stroke="#32a02e" stroke-width="0.9"/>
<circle cx="190.58" cy="134.04" r="1.35" fill="none" stroke="#32a02e" stroke-width="0.9"/>
<circle cx="190.62" cy="132.55" r="1.35" fill="none" stroke="#32a02e" stroke-width="0.9"/>
<circle cx="191.88" cy="131.57" r="1.35" fill="none" stroke="#32a02e" stroke-width="0.9"/>
<circle cx="191.56" cy="129.25" r="1.35" fill="none" stroke="#32a02e" stroke-width="0.9"/>
<circle cx="191.91" cy="128.06" r="1.35" fill="none" stroke="#32a02e" stroke-width="0.9"/>
<circle cx="190.59" cy="127.09" r="1.35" fill="none" stroke="#32a02e" stroke-width="0.9"/>
<circle cx="191.09" cy="126.13" r="1.35" fill="none" stroke="#32a02e" stroke-width="0.9"/>
<circle cx="190.57" cy="124.71" r="1.35" fill="none" stroke="#32a02e" stroke-width="0.9"/>
<circle cx="192.28" cy="124.14" r="1.35" fill="none" stroke="#32a02e" stroke-width="0.9"/>
<circle cx="190.85" cy="123.07" r="1.35" fill="none" stroke="#32a02e" stroke-width="0.9"/>
<circle cx="191.87" cy="122.16" r="1.35" fill="none" stroke="#32a02e" stroke-width="0.9"/>
<circle cx="193.18" cy="121.58" r="1.35" fill="none" stroke="#32a02e" stroke-width="0.9"/>
<circle cx="190.61" cy="121.03" r="1.35" fill="none" stroke="#32a02e" stroke-width="0.9"/>
<circle cx="191.50" cy="120.19" r="1.35" fill="none" stroke="#32a02e" stroke-width="0.9"/>
<circle cx="192.32" cy="119.66" r="1.35" fill="none" stroke="#32a02e" stroke-width="0.9"/>
<circle cx="193.04" cy="118.83" r="1.35" fill="none" stroke="#32a02e" stroke-width="0.9"/>
<circle cx="191.01" cy="118.33" r="1.35" fill="none" stroke="#32a02e" stroke-width="0.9"/>
<circle cx="190.79" cy="117.40" r="1.35" fill="none" stroke="#32a02e" stroke-width="0.9"/>
<circle cx="189.80" cy="116.73" r="1.35" fill="none" stroke="#32a02e" stroke-width="0.9"/>
<circle cx="192.65" cy="116.14" r="1.35" fill="none" stroke="#32a02e" stroke-width="0.9"/>
<circle cx="189.78" cy="115.73" r="1.35" fill="none" stroke="#32a02e" stroke-width="0.9"/>
<circle cx="189.80" cy="115.06" r="1.35" fill="none" stroke="#32a02e" stroke-width="0.9"/>
<circle cx="191.53" cy="113.79" r="1.35" fill="none" stroke="#32a02e" stroke-width="0.9"/>
<circle cx="191.25" cy="113.11" r="1.35" fill="none" stroke="#32a02e" stroke-width="0.9"/>
<circle cx="191.96" cy="112.46" r="1.35" fill="none" stroke="#32a02e" stroke-width="0.9"/>
<circle cx="190.58" cy="111.89" r="1.35" fill="none" stroke="#32a02e" stroke-width="0.9"/>
<circle cx="192.29" cy="111.20" r="1.35" fill="none" stroke="#32a02e" stroke-width="0.9"/>
<circle cx="189.78" cy="110.16" r="1.35" fill="none" stroke="#32a02e" stroke-width="0.9"/>
<circle cx="190.27" cy="109.49" r="1.35" fill="none" stroke="#32a02e" stroke-width="0.9"/>
<circle cx="191.88" cy="108.73" r="1.35" fill="none" stroke="#32a02e" stroke-width="0.9"/>
<circle cx="189.79" cy="107.95" r="1.35" fill="none" stroke="#32a02e" stroke-width="0.9"/>
<circle cx="190.59" cy="107.13" r="1.35" fill="none" stroke="#32a02e" stroke-width="0.9"/>
<circle cx="192.12" cy="106.76" r="1.35" fill="none" stroke="#32a02e" stroke-width="0.9"/>
<circle cx="192.01" cy="105.98" r="1.35" fill="none" stroke="#32a02e" stroke-width="0.9"/>
<circle cx="190.34" cy="104.91" r="1.35" fill="none" stroke="#32a02e" stroke-width="0.9"/>
<circle cx="189.66" cy="104.38" r="1.35" fill="none" stroke="#32a02e" stroke-width="0.9"/>
<circle cx="190.66" cy="103.85" r="1.35" fill="none" stroke="#32a02e" stroke-width="0.9"/>
<circle cx="192.30" cy="103.71" r="1.35" fill="none" stroke="#32a02e" stroke-width="0.9"/>
<circle cx="190.76" cy="103.09" r="1.35" fill="none" stroke="#32a02e" stroke-width="0.9"/>
<circle cx="190.00" cy="102.23" r="1.35" fill="none" stroke="#32a02e" stroke-width="0.9"/>
<circle cx="191.89" cy="101.21" r="1.35" fill="none" stroke="#32a02e" stroke-width="0.9"/>
<circle cx="191.45" cy="99.85" r="1.35" fill="none" stroke="#32a02e" stroke-width="0.9"/>
<circle cx="191.98" cy="98.94" r="1.35" fill="none" stroke="#32a02e" stroke-width="0.9"/>
<circle cx="191.78" cy="95.18" r="1.35" fill="none" stroke="#32a02e" stroke-width="0.9"/>
<circle cx="191.71" cy="93.14" r="1.35" fill="none" stroke="#32a02e" stroke-width="0.9"/>
<circle cx="191.24" cy="89.07" r="1.35" fill="none" stroke="#32a02e" stroke-width="0.9"/>
<circle cx="191.60" cy="82.19" r="1.35" fill="none" stroke="#32a02e" stroke-width="0.9"/>
<circle cx="191.10" cy="80.60" r="1.35" fill="none" stroke="#32a02e" stroke-width="0.9"/>
<circle cx="191.12" cy="155.00" r="1.35" fill="none" stroke="#32a02e" stroke-width="0.9"/>
<circle cx="191.10" cy="70.60" r="1.35" fill="none" stroke="#32a02e" stroke-width="0.9"/>
<circle cx="190.60" cy="177.30" r="1.35" fill="none" stroke="#32a02e" stroke-width="0.9"/>
<circle cx="192.20" cy="177.30" r="1.35" fill="none" stroke="#32a02e" stroke-width="0.9"/>
<line x1="247.60" y1="23.20" x2="247.60" y2="177.35" stroke="#1a1a1a" stroke-width="1.25" />
<line x1="244.60" y1="71.50" x2="247.60" y2="71.50" stroke="#222" stroke-width="1.0" />
<text x="242.30" y="74.30" font-size="8.0" text-anchor="end" font-weight="normal" fill="#2a2a2a" stroke="#2a2a2a" stroke-width="0.18" style="">10</text>
<line x1="244.60" y1="130.70" x2="247.60" y2="130.70" stroke="#222" stroke-width="1.0" />
<text x="242.30" y="133.50" font-size="8.0" text-anchor="end" font-weight="normal" fill="#2a2a2a" stroke="#2a2a2a" stroke-width="0.18" style="">5</text>
<line x1="247.00" y1="177.35" x2="295.90" y2="177.35" stroke="#1a1a1a" stroke-width="1.15" />
<line x1="253.30" y1="177.35" x2="253.30" y2="180.15" stroke="#333" stroke-width="0.9" />
<line x1="265.30" y1="177.35" x2="265.30" y2="180.15" stroke="#333" stroke-width="0.9" />
<line x1="277.80" y1="177.35" x2="277.80" y2="180.15" stroke="#333" stroke-width="0.9" />
<line x1="290.20" y1="177.35" x2="290.20" y2="180.15" stroke="#333" stroke-width="0.9" />
<g transform="translate(224.20,99.90) rotate(-90)"><text transform="scale(0.68,1)" x="-22.29" y="2.92" font-size="8.1" font-weight="normal" fill="#222" stroke="#222" stroke-width="0.45">TLR</text><text transform="scale(0.78,1)" x="-6.09" y="4.82" font-size="5.6" font-weight="normal" fill="#222" stroke="#222" stroke-width="0.32">SUVmean</text></g>
<path d="M253.20,33.10V30.20H290.20V33.10" fill="none" stroke="#5a5a5a" stroke-width="0.9"/>
<text x="271.70" y="28.10" font-size="7.9" text-anchor="middle" font-weight="normal" fill="#2a2a2a" stroke="#2a2a2a" stroke-width="0.18" style="">0.8</text>
<path d="M277.80,44.70V41.80H290.20V44.70" fill="none" stroke="#5a5a5a" stroke-width="0.9"/>
<text x="284.00" y="39.70" font-size="7.9" text-anchor="middle" font-weight="normal" fill="#2a2a2a" stroke="#2a2a2a" stroke-width="0.18" style="">0.41</text>
<path d="M265.70,56.80V53.90H277.80V56.80" fill="none" stroke="#5a5a5a" stroke-width="0.9"/>
<text x="271.75" y="51.80" font-size="7.9" text-anchor="middle" font-weight="normal" fill="#2a2a2a" stroke="#2a2a2a" stroke-width="0.18" style="">0.64</text>
<path d="M253.20,68.50V65.60H265.70V68.50" fill="none" stroke="#5a5a5a" stroke-width="0.9"/>
<text x="259.45" y="63.50" font-size="7.9" text-anchor="middle" font-weight="normal" fill="#2a2a2a" stroke="#2a2a2a" stroke-width="0.18" style="">1</text>
<line x1="253.30" y1="137.00" x2="253.30" y2="165.50" stroke="#1d4f8f" stroke-width="0.9" />
<rect x="250.50" y="144.70" width="5.60" height="15.20" fill="#8598cc" stroke="#5a6fb0" stroke-width="0.6" />
<line x1="250.50" y1="155.60" x2="256.10" y2="155.60" stroke="#163f78" stroke-width="1.6" />
<circle cx="253.71" cy="163.35" r="1.35" fill="none" stroke="#1d4f8f" stroke-width="0.9"/>
<circle cx="253.36" cy="161.21" r="1.35" fill="none" stroke="#1d4f8f" stroke-width="0.9"/>
<circle cx="253.82" cy="160.35" r="1.35" fill="none" stroke="#1d4f8f" stroke-width="0.9"/>
<circle cx="253.43" cy="158.46" r="1.35" fill="none" stroke="#1d4f8f" stroke-width="0.9"/>
<circle cx="252.75" cy="156.90" r="1.35" fill="none" stroke="#1d4f8f" stroke-width="0.9"/>
<circle cx="253.56" cy="154.43" r="1.35" fill="none" stroke="#1d4f8f" stroke-width="0.9"/>
<circle cx="253.68" cy="149.72" r="1.35" fill="none" stroke="#1d4f8f" stroke-width="0.9"/>
<circle cx="253.08" cy="145.08" r="1.35" fill="none" stroke="#1d4f8f" stroke-width="0.9"/>
<circle cx="252.81" cy="142.18" r="1.35" fill="none" stroke="#1d4f8f" stroke-width="0.9"/>
<circle cx="253.32" cy="138.14" r="1.35" fill="none" stroke="#1d4f8f" stroke-width="0.9"/>
<circle cx="253.34" cy="137.00" r="1.35" fill="none" stroke="#1d4f8f" stroke-width="0.9"/>
<circle cx="253.37" cy="165.50" r="1.35" fill="none" stroke="#1d4f8f" stroke-width="0.9"/>
<line x1="265.30" y1="124.30" x2="265.30" y2="169.80" stroke="#c8102e" stroke-width="0.9" />
<rect x="262.10" y="140.00" width="6.40" height="22.00" fill="#f08a8e" stroke="#b81830" stroke-width="0.6" />
<line x1="262.10" y1="152.00" x2="268.50" y2="152.00" stroke="#8a0a1c" stroke-width="1.6" />
<circle cx="264.02" cy="169.51" r="1.35" fill="none" stroke="#c8102e" stroke-width="0.9"/>
<circle cx="263.25" cy="169.28" r="1.35" fill="none" stroke="#c8102e" stroke-width="0.9"/>
<circle cx="267.31" cy="168.90" r="1.35" fill="none" stroke="#c8102e" stroke-width="0.9"/>
<circle cx="266.65" cy="168.79" r="1.35" fill="none" stroke="#c8102e" stroke-width="0.9"/>
<circle cx="264.79" cy="168.31" r="1.35" fill="none" stroke="#c8102e" stroke-width="0.9"/>
<circle cx="265.42" cy="167.90" r="1.35" fill="none" stroke="#c8102e" stroke-width="0.9"/>
<circle cx="265.37" cy="167.77" r="1.35" fill="none" stroke="#c8102e" stroke-width="0.9"/>
<circle cx="264.34" cy="167.42" r="1.35" fill="none" stroke="#c8102e" stroke-width="0.9"/>
<circle cx="267.35" cy="166.85" r="1.35" fill="none" stroke="#c8102e" stroke-width="0.9"/>
<circle cx="265.95" cy="166.44" r="1.35" fill="none" stroke="#c8102e" stroke-width="0.9"/>
<circle cx="264.22" cy="166.34" r="1.35" fill="none" stroke="#c8102e" stroke-width="0.9"/>
<circle cx="263.31" cy="165.79" r="1.35" fill="none" stroke="#c8102e" stroke-width="0.9"/>
<circle cx="265.19" cy="165.58" r="1.35" fill="none" stroke="#c8102e" stroke-width="0.9"/>
<circle cx="264.79" cy="165.00" r="1.35" fill="none" stroke="#c8102e" stroke-width="0.9"/>
<circle cx="266.48" cy="164.64" r="1.35" fill="none" stroke="#c8102e" stroke-width="0.9"/>
<circle cx="266.14" cy="164.40" r="1.35" fill="none" stroke="#c8102e" stroke-width="0.9"/>
<circle cx="265.71" cy="164.02" r="1.35" fill="none" stroke="#c8102e" stroke-width="0.9"/>
<circle cx="263.98" cy="163.42" r="1.35" fill="none" stroke="#c8102e" stroke-width="0.9"/>
<circle cx="263.98" cy="163.11" r="1.35" fill="none" stroke="#c8102e" stroke-width="0.9"/>
<circle cx="264.62" cy="162.62" r="1.35" fill="none" stroke="#c8102e" stroke-width="0.9"/>
<circle cx="264.39" cy="162.35" r="1.35" fill="none" stroke="#c8102e" stroke-width="0.9"/>
<circle cx="266.69" cy="161.96" r="1.35" fill="none" stroke="#c8102e" stroke-width="0.9"/>
<circle cx="265.36" cy="161.30" r="1.35" fill="none" stroke="#c8102e" stroke-width="0.9"/>
<circle cx="265.80" cy="160.99" r="1.35" fill="none" stroke="#c8102e" stroke-width="0.9"/>
<circle cx="267.08" cy="160.63" r="1.35" fill="none" stroke="#c8102e" stroke-width="0.9"/>
<circle cx="264.47" cy="160.17" r="1.35" fill="none" stroke="#c8102e" stroke-width="0.9"/>
<circle cx="265.42" cy="159.66" r="1.35" fill="none" stroke="#c8102e" stroke-width="0.9"/>
<circle cx="264.08" cy="159.21" r="1.35" fill="none" stroke="#c8102e" stroke-width="0.9"/>
<circle cx="266.23" cy="158.67" r="1.35" fill="none" stroke="#c8102e" stroke-width="0.9"/>
<circle cx="263.59" cy="158.42" r="1.35" fill="none" stroke="#c8102e" stroke-width="0.9"/>
<circle cx="266.39" cy="157.78" r="1.35" fill="none" stroke="#c8102e" stroke-width="0.9"/>
<circle cx="266.47" cy="157.37" r="1.35" fill="none" stroke="#c8102e" stroke-width="0.9"/>
<circle cx="266.37" cy="156.82" r="1.35" fill="none" stroke="#c8102e" stroke-width="0.9"/>
<circle cx="263.92" cy="156.36" r="1.35" fill="none" stroke="#c8102e" stroke-width="0.9"/>
<circle cx="264.54" cy="155.86" r="1.35" fill="none" stroke="#c8102e" stroke-width="0.9"/>
<circle cx="266.01" cy="155.35" r="1.35" fill="none" stroke="#c8102e" stroke-width="0.9"/>
<circle cx="263.99" cy="154.82" r="1.35" fill="none" stroke="#c8102e" stroke-width="0.9"/>
<circle cx="265.24" cy="154.47" r="1.35" fill="none" stroke="#c8102e" stroke-width="0.9"/>
<circle cx="265.20" cy="154.02" r="1.35" fill="none" stroke="#c8102e" stroke-width="0.9"/>
<circle cx="266.75" cy="153.43" r="1.35" fill="none" stroke="#c8102e" stroke-width="0.9"/>
<circle cx="265.58" cy="152.88" r="1.35" fill="none" stroke="#c8102e" stroke-width="0.9"/>
<circle cx="266.43" cy="152.55" r="1.35" fill="none" stroke="#c8102e" stroke-width="0.9"/>
<circle cx="264.68" cy="152.04" r="1.35" fill="none" stroke="#c8102e" stroke-width="0.9"/>
<circle cx="266.20" cy="151.65" r="1.35" fill="none" stroke="#c8102e" stroke-width="0.9"/>
<circle cx="265.05" cy="150.83" r="1.35" fill="none" stroke="#c8102e" stroke-width="0.9"/>
<circle cx="266.53" cy="150.15" r="1.35" fill="none" stroke="#c8102e" stroke-width="0.9"/>
<circle cx="264.10" cy="149.91" r="1.35" fill="none" stroke="#c8102e" stroke-width="0.9"/>
<circle cx="266.25" cy="149.45" r="1.35" fill="none" stroke="#c8102e" stroke-width="0.9"/>
<circle cx="264.46" cy="148.86" r="1.35" fill="none" stroke="#c8102e" stroke-width="0.9"/>
<circle cx="265.42" cy="148.16" r="1.35" fill="none" stroke="#c8102e" stroke-width="0.9"/>
<circle cx="265.37" cy="147.65" r="1.35" fill="none" stroke="#c8102e" stroke-width="0.9"/>
<circle cx="264.33" cy="146.70" r="1.35" fill="none" stroke="#c8102e" stroke-width="0.9"/>
<circle cx="266.24" cy="146.59" r="1.35" fill="none" stroke="#c8102e" stroke-width="0.9"/>
<circle cx="264.77" cy="145.87" r="1.35" fill="none" stroke="#c8102e" stroke-width="0.9"/>
<circle cx="264.77" cy="145.38" r="1.35" fill="none" stroke="#c8102e" stroke-width="0.9"/>
<circle cx="264.10" cy="144.51" r="1.35" fill="none" stroke="#c8102e" stroke-width="0.9"/>
<circle cx="264.75" cy="143.86" r="1.35" fill="none" stroke="#c8102e" stroke-width="0.9"/>
<circle cx="265.21" cy="143.59" r="1.35" fill="none" stroke="#c8102e" stroke-width="0.9"/>
<circle cx="265.92" cy="143.08" r="1.35" fill="none" stroke="#c8102e" stroke-width="0.9"/>
<circle cx="264.89" cy="142.31" r="1.35" fill="none" stroke="#c8102e" stroke-width="0.9"/>
<circle cx="265.86" cy="141.69" r="1.35" fill="none" stroke="#c8102e" stroke-width="0.9"/>
<circle cx="264.10" cy="140.98" r="1.35" fill="none" stroke="#c8102e" stroke-width="0.9"/>
<circle cx="264.98" cy="140.87" r="1.35" fill="none" stroke="#c8102e" stroke-width="0.9"/>
<circle cx="265.18" cy="140.31" r="1.35" fill="none" stroke="#c8102e" stroke-width="0.9"/>
<circle cx="266.83" cy="139.77" r="1.35" fill="none" stroke="#c8102e" stroke-width="0.9"/>
<circle cx="266.45" cy="139.28" r="1.35" fill="none" stroke="#c8102e" stroke-width="0.9"/>
<circle cx="265.87" cy="138.84" r="1.35" fill="none" stroke="#c8102e" stroke-width="0.9"/>
<circle cx="263.43" cy="138.25" r="1.35" fill="none" stroke="#c8102e" stroke-width="0.9"/>
<circle cx="264.82" cy="137.90" r="1.35" fill="none" stroke="#c8102e" stroke-width="0.9"/>
<circle cx="266.11" cy="137.63" r="1.35" fill="none" stroke="#c8102e" stroke-width="0.9"/>
<circle cx="264.31" cy="137.24" r="1.35" fill="none" stroke="#c8102e" stroke-width="0.9"/>
<circle cx="265.53" cy="136.79" r="1.35" fill="none" stroke="#c8102e" stroke-width="0.9"/>
<circle cx="265.15" cy="136.39" r="1.35" fill="none" stroke="#c8102e" stroke-width="0.9"/>
<circle cx="263.77" cy="135.65" r="1.35" fill="none" stroke="#c8102e" stroke-width="0.9"/>
<circle cx="266.77" cy="135.33" r="1.35" fill="none" stroke="#c8102e" stroke-width="0.9"/>
<circle cx="266.11" cy="134.62" r="1.35" fill="none" stroke="#c8102e" stroke-width="0.9"/>
<circle cx="264.60" cy="133.80" r="1.35" fill="none" stroke="#c8102e" stroke-width="0.9"/>
<circle cx="265.55" cy="133.26" r="1.35" fill="none" stroke="#c8102e" stroke-width="0.9"/>
<circle cx="264.89" cy="132.55" r="1.35" fill="none" stroke="#c8102e" stroke-width="0.9"/>
<circle cx="265.09" cy="130.95" r="1.35" fill="none" stroke="#c8102e" stroke-width="0.9"/>
<circle cx="265.36" cy="129.77" r="1.35" fill="none" stroke="#c8102e" stroke-width="0.9"/>
<circle cx="264.99" cy="129.18" r="1.35" fill="none" stroke="#c8102e" stroke-width="0.9"/>
<circle cx="265.06" cy="127.67" r="1.35" fill="none" stroke="#c8102e" stroke-width="0.9"/>
<circle cx="265.15" cy="125.82" r="1.35" fill="none" stroke="#c8102e" stroke-width="0.9"/>
<circle cx="265.54" cy="125.02" r="1.35" fill="none" stroke="#c8102e" stroke-width="0.9"/>
<circle cx="265.06" cy="124.30" r="1.35" fill="none" stroke="#c8102e" stroke-width="0.9"/>
<circle cx="265.00" cy="169.80" r="1.35" fill="none" stroke="#c8102e" stroke-width="0.9"/>
<circle cx="265.76" cy="70.60" r="1.35" fill="none" stroke="#c8102e" stroke-width="0.9"/>
<circle cx="264.96" cy="108.90" r="1.35" fill="none" stroke="#c8102e" stroke-width="0.9"/>
<circle cx="266.19" cy="115.20" r="1.35" fill="none" stroke="#c8102e" stroke-width="0.9"/>
<line x1="277.80" y1="138.00" x2="277.80" y2="169.80" stroke="#f2bf1e" stroke-width="0.9" />
<rect x="274.60" y="147.50" width="6.40" height="12.50" fill="#fbe296" stroke="#e8b420" stroke-width="0.6" />
<line x1="274.60" y1="153.00" x2="281.00" y2="153.00" stroke="#d89c0a" stroke-width="1.6" />
<circle cx="277.50" cy="169.18" r="1.35" fill="none" stroke="#f2bd1a" stroke-width="0.9"/>
<circle cx="277.82" cy="167.93" r="1.35" fill="none" stroke="#f2bd1a" stroke-width="0.9"/>
<circle cx="278.52" cy="167.24" r="1.35" fill="none" stroke="#f2bd1a" stroke-width="0.9"/>
<circle cx="278.64" cy="165.73" r="1.35" fill="none" stroke="#f2bd1a" stroke-width="0.9"/>
<circle cx="278.09" cy="165.39" r="1.35" fill="none" stroke="#f2bd1a" stroke-width="0.9"/>
<circle cx="276.89" cy="164.35" r="1.35" fill="none" stroke="#f2bd1a" stroke-width="0.9"/>
<circle cx="278.53" cy="163.42" r="1.35" fill="none" stroke="#f2bd1a" stroke-width="0.9"/>
<circle cx="278.95" cy="162.01" r="1.35" fill="none" stroke="#f2bd1a" stroke-width="0.9"/>
<circle cx="277.94" cy="161.10" r="1.35" fill="none" stroke="#f2bd1a" stroke-width="0.9"/>
<circle cx="277.36" cy="160.66" r="1.35" fill="none" stroke="#f2bd1a" stroke-width="0.9"/>
<circle cx="277.80" cy="159.67" r="1.35" fill="none" stroke="#f2bd1a" stroke-width="0.9"/>
<circle cx="276.64" cy="158.57" r="1.35" fill="none" stroke="#f2bd1a" stroke-width="0.9"/>
<circle cx="278.51" cy="157.98" r="1.35" fill="none" stroke="#f2bd1a" stroke-width="0.9"/>
<circle cx="279.44" cy="157.58" r="1.35" fill="none" stroke="#f2bd1a" stroke-width="0.9"/>
<circle cx="277.86" cy="156.77" r="1.35" fill="none" stroke="#f2bd1a" stroke-width="0.9"/>
<circle cx="278.56" cy="156.12" r="1.35" fill="none" stroke="#f2bd1a" stroke-width="0.9"/>
<circle cx="279.01" cy="155.46" r="1.35" fill="none" stroke="#f2bd1a" stroke-width="0.9"/>
<circle cx="276.68" cy="154.63" r="1.35" fill="none" stroke="#f2bd1a" stroke-width="0.9"/>
<circle cx="279.47" cy="154.18" r="1.35" fill="none" stroke="#f2bd1a" stroke-width="0.9"/>
<circle cx="278.29" cy="153.07" r="1.35" fill="none" stroke="#f2bd1a" stroke-width="0.9"/>
<circle cx="276.60" cy="152.74" r="1.35" fill="none" stroke="#f2bd1a" stroke-width="0.9"/>
<circle cx="276.03" cy="152.13" r="1.35" fill="none" stroke="#f2bd1a" stroke-width="0.9"/>
<circle cx="276.66" cy="151.53" r="1.35" fill="none" stroke="#f2bd1a" stroke-width="0.9"/>
<circle cx="278.15" cy="150.97" r="1.35" fill="none" stroke="#f2bd1a" stroke-width="0.9"/>
<circle cx="278.71" cy="150.46" r="1.35" fill="none" stroke="#f2bd1a" stroke-width="0.9"/>
<circle cx="277.02" cy="150.15" r="1.35" fill="none" stroke="#f2bd1a" stroke-width="0.9"/>
<circle cx="279.70" cy="149.67" r="1.35" fill="none" stroke="#f2bd1a" stroke-width="0.9"/>
<circle cx="277.22" cy="149.09" r="1.35" fill="none" stroke="#f2bd1a" stroke-width="0.9"/>
<circle cx="277.65" cy="148.73" r="1.35" fill="none" stroke="#f2bd1a" stroke-width="0.9"/>
<circle cx="276.42" cy="147.90" r="1.35" fill="none" stroke="#f2bd1a" stroke-width="0.9"/>
<circle cx="279.38" cy="147.01" r="1.35" fill="none" stroke="#f2bd1a" stroke-width="0.9"/>
<circle cx="276.67" cy="146.04" r="1.35" fill="none" stroke="#f2bd1a" stroke-width="0.9"/>
<circle cx="279.00" cy="145.35" r="1.35" fill="none" stroke="#f2bd1a" stroke-width="0.9"/>
<circle cx="277.92" cy="144.58" r="1.35" fill="none" stroke="#f2bd1a" stroke-width="0.9"/>
<circle cx="277.97" cy="143.70" r="1.35" fill="none" stroke="#f2bd1a" stroke-width="0.9"/>
<circle cx="277.96" cy="143.25" r="1.35" fill="none" stroke="#f2bd1a" stroke-width="0.9"/>
<circle cx="277.19" cy="141.98" r="1.35" fill="none" stroke="#f2bd1a" stroke-width="0.9"/>
<circle cx="278.82" cy="140.93" r="1.35" fill="none" stroke="#f2bd1a" stroke-width="0.9"/>
<circle cx="278.99" cy="139.54" r="1.35" fill="none" stroke="#f2bd1a" stroke-width="0.9"/>
<circle cx="278.56" cy="138.97" r="1.35" fill="none" stroke="#f2bd1a" stroke-width="0.9"/>
<circle cx="277.90" cy="138.00" r="1.35" fill="none" stroke="#f2bd1a" stroke-width="0.9"/>
<circle cx="277.42" cy="169.80" r="1.35" fill="none" stroke="#f2bd1a" stroke-width="0.9"/>
<line x1="290.20" y1="123.70" x2="290.20" y2="167.70" stroke="#35a631" stroke-width="0.9" />
<rect x="287.00" y="140.00" width="6.40" height="19.50" fill="#9ddb96" stroke="#2a8a2a" stroke-width="0.6" />
<line x1="287.00" y1="150.00" x2="293.40" y2="150.00" stroke="#1f7a24" stroke-width="1.6" />
<circle cx="288.15" cy="167.27" r="1.35" fill="none" stroke="#32a02e" stroke-width="0.9"/>
<circle cx="291.23" cy="166.99" r="1.35" fill="none" stroke="#32a02e" stroke-width="0.9"/>
<circle cx="292.00" cy="166.13" r="1.35" fill="none" stroke="#32a02e" stroke-width="0.9"/>
<circle cx="291.24" cy="165.90" r="1.35" fill="none" stroke="#32a02e" stroke-width="0.9"/>
<circle cx="290.63" cy="165.16" r="1.35" fill="none" stroke="#32a02e" stroke-width="0.9"/>
<circle cx="291.30" cy="164.46" r="1.35" fill="none" stroke="#32a02e" stroke-width="0.9"/>
<circle cx="289.35" cy="164.21" r="1.35" fill="none" stroke="#32a02e" stroke-width="0.9"/>
<circle cx="290.60" cy="163.44" r="1.35" fill="none" stroke="#32a02e" stroke-width="0.9"/>
<circle cx="288.35" cy="163.10" r="1.35" fill="none" stroke="#32a02e" stroke-width="0.9"/>
<circle cx="288.60" cy="162.52" r="1.35" fill="none" stroke="#32a02e" stroke-width="0.9"/>
<circle cx="289.98" cy="161.84" r="1.35" fill="none" stroke="#32a02e" stroke-width="0.9"/>
<circle cx="290.21" cy="160.78" r="1.35" fill="none" stroke="#32a02e" stroke-width="0.9"/>
<circle cx="289.77" cy="160.19" r="1.35" fill="none" stroke="#32a02e" stroke-width="0.9"/>
<circle cx="288.36" cy="159.72" r="1.35" fill="none" stroke="#32a02e" stroke-width="0.9"/>
<circle cx="291.00" cy="159.29" r="1.35" fill="none" stroke="#32a02e" stroke-width="0.9"/>
<circle cx="290.31" cy="158.44" r="1.35" fill="none" stroke="#32a02e" stroke-width="0.9"/>
<circle cx="289.17" cy="157.75" r="1.35" fill="none" stroke="#32a02e" stroke-width="0.9"/>
<circle cx="289.44" cy="157.31" r="1.35" fill="none" stroke="#32a02e" stroke-width="0.9"/>
<circle cx="289.79" cy="156.51" r="1.35" fill="none" stroke="#32a02e" stroke-width="0.9"/>
<circle cx="289.18" cy="155.71" r="1.35" fill="none" stroke="#32a02e" stroke-width="0.9"/>
<circle cx="288.54" cy="155.51" r="1.35" fill="none" stroke="#32a02e" stroke-width="0.9"/>
<circle cx="291.77" cy="154.71" r="1.35" fill="none" stroke="#32a02e" stroke-width="0.9"/>
<circle cx="291.97" cy="153.85" r="1.35" fill="none" stroke="#32a02e" stroke-width="0.9"/>
<circle cx="290.83" cy="153.36" r="1.35" fill="none" stroke="#32a02e" stroke-width="0.9"/>
<circle cx="291.58" cy="152.51" r="1.35" fill="none" stroke="#32a02e" stroke-width="0.9"/>
<circle cx="289.90" cy="151.70" r="1.35" fill="none" stroke="#32a02e" stroke-width="0.9"/>
<circle cx="291.35" cy="151.25" r="1.35" fill="none" stroke="#32a02e" stroke-width="0.9"/>
<circle cx="289.15" cy="150.34" r="1.35" fill="none" stroke="#32a02e" stroke-width="0.9"/>
<circle cx="291.14" cy="149.80" r="1.35" fill="none" stroke="#32a02e" stroke-width="0.9"/>
<circle cx="290.46" cy="148.92" r="1.35" fill="none" stroke="#32a02e" stroke-width="0.9"/>
<circle cx="291.76" cy="148.39" r="1.35" fill="none" stroke="#32a02e" stroke-width="0.9"/>
<circle cx="288.65" cy="147.52" r="1.35" fill="none" stroke="#32a02e" stroke-width="0.9"/>
<circle cx="291.33" cy="147.21" r="1.35" fill="none" stroke="#32a02e" stroke-width="0.9"/>
<circle cx="288.75" cy="146.15" r="1.35" fill="none" stroke="#32a02e" stroke-width="0.9"/>
<circle cx="290.34" cy="145.79" r="1.35" fill="none" stroke="#32a02e" stroke-width="0.9"/>
<circle cx="291.90" cy="144.59" r="1.35" fill="none" stroke="#32a02e" stroke-width="0.9"/>
<circle cx="288.34" cy="144.12" r="1.35" fill="none" stroke="#32a02e" stroke-width="0.9"/>
<circle cx="289.26" cy="143.48" r="1.35" fill="none" stroke="#32a02e" stroke-width="0.9"/>
<circle cx="289.48" cy="142.79" r="1.35" fill="none" stroke="#32a02e" stroke-width="0.9"/>
<circle cx="289.59" cy="141.90" r="1.35" fill="none" stroke="#32a02e" stroke-width="0.9"/>
<circle cx="288.70" cy="141.07" r="1.35" fill="none" stroke="#32a02e" stroke-width="0.9"/>
<circle cx="291.51" cy="140.22" r="1.35" fill="none" stroke="#32a02e" stroke-width="0.9"/>
<circle cx="291.23" cy="139.40" r="1.35" fill="none" stroke="#32a02e" stroke-width="0.9"/>
<circle cx="289.87" cy="138.76" r="1.35" fill="none" stroke="#32a02e" stroke-width="0.9"/>
<circle cx="289.75" cy="137.50" r="1.35" fill="none" stroke="#32a02e" stroke-width="0.9"/>
<circle cx="290.46" cy="136.73" r="1.35" fill="none" stroke="#32a02e" stroke-width="0.9"/>
<circle cx="288.87" cy="135.78" r="1.35" fill="none" stroke="#32a02e" stroke-width="0.9"/>
<circle cx="288.86" cy="135.20" r="1.35" fill="none" stroke="#32a02e" stroke-width="0.9"/>
<circle cx="291.29" cy="134.17" r="1.35" fill="none" stroke="#32a02e" stroke-width="0.9"/>
<circle cx="289.70" cy="132.96" r="1.35" fill="none" stroke="#32a02e" stroke-width="0.9"/>
<circle cx="290.20" cy="131.44" r="1.35" fill="none" stroke="#32a02e" stroke-width="0.9"/>
<circle cx="291.18" cy="130.59" r="1.35" fill="none" stroke="#32a02e" stroke-width="0.9"/>
<circle cx="291.21" cy="129.21" r="1.35" fill="none" stroke="#32a02e" stroke-width="0.9"/>
<circle cx="290.14" cy="127.85" r="1.35" fill="none" stroke="#32a02e" stroke-width="0.9"/>
<circle cx="289.64" cy="125.59" r="1.35" fill="none" stroke="#32a02e" stroke-width="0.9"/>
<circle cx="289.81" cy="124.81" r="1.35" fill="none" stroke="#32a02e" stroke-width="0.9"/>
<circle cx="290.62" cy="123.70" r="1.35" fill="none" stroke="#32a02e" stroke-width="0.9"/>
<circle cx="290.60" cy="167.70" r="1.35" fill="none" stroke="#32a02e" stroke-width="0.9"/>
<line x1="359.80" y1="22.90" x2="359.80" y2="177.35" stroke="#1a1a1a" stroke-width="1.25" />
<line x1="356.80" y1="27.60" x2="359.80" y2="27.60" stroke="#222" stroke-width="1.0" />
<text x="354.50" y="30.40" font-size="8.0" text-anchor="end" font-weight="normal" fill="#2a2a2a" stroke="#2a2a2a" stroke-width="0.18" style="">1200</text>
<line x1="356.80" y1="63.40" x2="359.80" y2="63.40" stroke="#222" stroke-width="1.0" />
<text x="354.50" y="66.20" font-size="8.0" text-anchor="end" font-weight="normal" fill="#2a2a2a" stroke="#2a2a2a" stroke-width="0.18" style="">900</text>
<line x1="356.80" y1="99.00" x2="359.80" y2="99.00" stroke="#222" stroke-width="1.0" />
<text x="354.50" y="101.80" font-size="8.0" text-anchor="end" font-weight="normal" fill="#2a2a2a" stroke="#2a2a2a" stroke-width="0.18" style="">600</text>
<line x1="356.80" y1="134.40" x2="359.80" y2="134.40" stroke="#222" stroke-width="1.0" />
<text x="354.50" y="137.20" font-size="8.0" text-anchor="end" font-weight="normal" fill="#2a2a2a" stroke="#2a2a2a" stroke-width="0.18" style="">300</text>
<line x1="356.80" y1="170.00" x2="359.80" y2="170.00" stroke="#222" stroke-width="1.0" />
<text x="354.50" y="172.80" font-size="8.0" text-anchor="end" font-weight="normal" fill="#2a2a2a" stroke="#2a2a2a" stroke-width="0.18" style="">0</text>
<line x1="359.20" y1="177.35" x2="408.50" y2="177.35" stroke="#1a1a1a" stroke-width="1.15" />
<line x1="365.10" y1="177.35" x2="365.10" y2="180.15" stroke="#333" stroke-width="0.9" />
<line x1="377.50" y1="177.35" x2="377.50" y2="180.15" stroke="#333" stroke-width="0.9" />
<line x1="390.00" y1="177.35" x2="390.00" y2="180.15" stroke="#333" stroke-width="0.9" />
<line x1="402.20" y1="177.35" x2="402.20" y2="180.15" stroke="#333" stroke-width="0.9" />
<g transform="translate(327.00,99.60) rotate(-90) scale(0.73,1)"><text x="0" y="2.92" font-size="8.1" font-weight="normal" text-anchor="middle" fill="#222" stroke="#222" stroke-width="0.45">Dmax</text></g>
<path d="M365.70,33.10V30.20H402.60V33.10" fill="none" stroke="#5a5a5a" stroke-width="0.9"/>
<text x="384.15" y="28.10" font-size="7.9" text-anchor="middle" font-weight="normal" fill="#2a2a2a" stroke="#2a2a2a" stroke-width="0.18" style="">&lt;0.001</text>
<path d="M389.40,44.70V41.80H402.60V44.70" fill="none" stroke="#5a5a5a" stroke-width="0.9"/>
<text x="396.00" y="39.70" font-size="7.9" text-anchor="middle" font-weight="normal" fill="#2a2a2a" stroke="#2a2a2a" stroke-width="0.18" style="">0.57</text>
<path d="M377.60,56.80V53.90H390.00V56.80" fill="none" stroke="#5a5a5a" stroke-width="0.9"/>
<text x="383.80" y="51.80" font-size="7.9" text-anchor="middle" font-weight="normal" fill="#2a2a2a" stroke="#2a2a2a" stroke-width="0.18" style="">&lt;0.001</text>
<path d="M365.70,68.50V65.60H376.80V68.50" fill="none" stroke="#5a5a5a" stroke-width="0.9"/>
<text x="371.25" y="63.50" font-size="7.9" text-anchor="middle" font-weight="normal" fill="#2a2a2a" stroke="#2a2a2a" stroke-width="0.18" style="">0.0039</text>
<line x1="365.10" y1="157.50" x2="365.10" y2="170.60" stroke="#1d4f8f" stroke-width="0.9" />
<rect x="362.10" y="161.00" width="6.00" height="7.50" fill="#8598cc" stroke="#5a6fb0" stroke-width="0.6" />
<line x1="362.10" y1="165.00" x2="368.10" y2="165.00" stroke="#163f78" stroke-width="1.6" />
<circle cx="367.20" cy="170.53" r="1.35" fill="none" stroke="#1d4f8f" stroke-width="0.9"/>
<circle cx="364.89" cy="169.99" r="1.35" fill="none" stroke="#1d4f8f" stroke-width="0.9"/>
<circle cx="363.58" cy="169.76" r="1.35" fill="none" stroke="#1d4f8f" stroke-width="0.9"/>
<circle cx="364.19" cy="169.26" r="1.35" fill="none" stroke="#1d4f8f" stroke-width="0.9"/>
<circle cx="364.49" cy="168.91" r="1.35" fill="none" stroke="#1d4f8f" stroke-width="0.9"/>
<circle cx="365.66" cy="168.02" r="1.35" fill="none" stroke="#1d4f8f" stroke-width="0.9"/>
<circle cx="364.37" cy="167.29" r="1.35" fill="none" stroke="#1d4f8f" stroke-width="0.9"/>
<circle cx="364.33" cy="167.08" r="1.35" fill="none" stroke="#1d4f8f" stroke-width="0.9"/>
<circle cx="364.47" cy="166.05" r="1.35" fill="none" stroke="#1d4f8f" stroke-width="0.9"/>
<circle cx="365.50" cy="165.59" r="1.35" fill="none" stroke="#1d4f8f" stroke-width="0.9"/>
<circle cx="365.80" cy="164.35" r="1.35" fill="none" stroke="#1d4f8f" stroke-width="0.9"/>
<circle cx="364.79" cy="164.15" r="1.35" fill="none" stroke="#1d4f8f" stroke-width="0.9"/>
<circle cx="365.49" cy="163.29" r="1.35" fill="none" stroke="#1d4f8f" stroke-width="0.9"/>
<circle cx="366.02" cy="162.01" r="1.35" fill="none" stroke="#1d4f8f" stroke-width="0.9"/>
<circle cx="365.32" cy="161.51" r="1.35" fill="none" stroke="#1d4f8f" stroke-width="0.9"/>
<circle cx="364.45" cy="160.36" r="1.35" fill="none" stroke="#1d4f8f" stroke-width="0.9"/>
<circle cx="364.62" cy="159.66" r="1.35" fill="none" stroke="#1d4f8f" stroke-width="0.9"/>
<circle cx="366.13" cy="159.06" r="1.35" fill="none" stroke="#1d4f8f" stroke-width="0.9"/>
<circle cx="365.51" cy="158.72" r="1.35" fill="none" stroke="#1d4f8f" stroke-width="0.9"/>
<circle cx="364.53" cy="157.71" r="1.35" fill="none" stroke="#1d4f8f" stroke-width="0.9"/>
<circle cx="365.44" cy="157.50" r="1.35" fill="none" stroke="#1d4f8f" stroke-width="0.9"/>
<circle cx="364.12" cy="170.60" r="1.35" fill="none" stroke="#1d4f8f" stroke-width="0.9"/>
<line x1="377.50" y1="135.30" x2="377.50" y2="170.60" stroke="#c8102e" stroke-width="0.9" />
<rect x="374.30" y="147.00" width="6.40" height="21.00" fill="#f08a8e" stroke="#b81830" stroke-width="0.6" />
<line x1="374.30" y1="160.00" x2="380.70" y2="160.00" stroke="#8a0a1c" stroke-width="1.6" />
<circle cx="376.65" cy="170.59" r="1.35" fill="none" stroke="#c8102e" stroke-width="0.9"/>
<circle cx="377.90" cy="170.58" r="1.35" fill="none" stroke="#c8102e" stroke-width="0.9"/>
<circle cx="377.58" cy="170.53" r="1.35" fill="none" stroke="#c8102e" stroke-width="0.9"/>
<circle cx="376.79" cy="170.46" r="1.35" fill="none" stroke="#c8102e" stroke-width="0.9"/>
<circle cx="377.77" cy="170.41" r="1.35" fill="none" stroke="#c8102e" stroke-width="0.9"/>
<circle cx="376.27" cy="170.26" r="1.35" fill="none" stroke="#c8102e" stroke-width="0.9"/>
<circle cx="378.46" cy="170.18" r="1.35" fill="none" stroke="#c8102e" stroke-width="0.9"/>
<circle cx="376.51" cy="170.05" r="1.35" fill="none" stroke="#c8102e" stroke-width="0.9"/>
<circle cx="376.76" cy="169.83" r="1.35" fill="none" stroke="#c8102e" stroke-width="0.9"/>
<circle cx="376.48" cy="169.77" r="1.35" fill="none" stroke="#c8102e" stroke-width="0.9"/>
<circle cx="378.07" cy="169.57" r="1.35" fill="none" stroke="#c8102e" stroke-width="0.9"/>
<circle cx="378.49" cy="169.31" r="1.35" fill="none" stroke="#c8102e" stroke-width="0.9"/>
<circle cx="378.36" cy="169.20" r="1.35" fill="none" stroke="#c8102e" stroke-width="0.9"/>
<circle cx="376.18" cy="169.00" r="1.35" fill="none" stroke="#c8102e" stroke-width="0.9"/>
<circle cx="377.23" cy="168.74" r="1.35" fill="none" stroke="#c8102e" stroke-width="0.9"/>
<circle cx="377.09" cy="168.60" r="1.35" fill="none" stroke="#c8102e" stroke-width="0.9"/>
<circle cx="376.65" cy="168.25" r="1.35" fill="none" stroke="#c8102e" stroke-width="0.9"/>
<circle cx="378.91" cy="168.01" r="1.35" fill="none" stroke="#c8102e" stroke-width="0.9"/>
<circle cx="376.13" cy="167.98" r="1.35" fill="none" stroke="#c8102e" stroke-width="0.9"/>
<circle cx="377.47" cy="167.64" r="1.35" fill="none" stroke="#c8102e" stroke-width="0.9"/>
<circle cx="378.28" cy="167.27" r="1.35" fill="none" stroke="#c8102e" stroke-width="0.9"/>
<circle cx="378.96" cy="167.05" r="1.35" fill="none" stroke="#c8102e" stroke-width="0.9"/>
<circle cx="376.43" cy="166.52" r="1.35" fill="none" stroke="#c8102e" stroke-width="0.9"/>
<circle cx="377.37" cy="166.28" r="1.35" fill="none" stroke="#c8102e" stroke-width="0.9"/>
<circle cx="378.23" cy="165.99" r="1.35" fill="none" stroke="#c8102e" stroke-width="0.9"/>
<circle cx="376.12" cy="165.41" r="1.35" fill="none" stroke="#c8102e" stroke-width="0.9"/>
<circle cx="376.72" cy="164.92" r="1.35" fill="none" stroke="#c8102e" stroke-width="0.9"/>
<circle cx="378.67" cy="164.57" r="1.35" fill="none" stroke="#c8102e" stroke-width="0.9"/>
<circle cx="376.42" cy="163.94" r="1.35" fill="none" stroke="#c8102e" stroke-width="0.9"/>
<circle cx="377.18" cy="163.38" r="1.35" fill="none" stroke="#c8102e" stroke-width="0.9"/>
<circle cx="376.89" cy="162.98" r="1.35" fill="none" stroke="#c8102e" stroke-width="0.9"/>
<circle cx="377.27" cy="162.46" r="1.35" fill="none" stroke="#c8102e" stroke-width="0.9"/>
<circle cx="376.23" cy="161.75" r="1.35" fill="none" stroke="#c8102e" stroke-width="0.9"/>
<circle cx="376.10" cy="161.28" r="1.35" fill="none" stroke="#c8102e" stroke-width="0.9"/>
<circle cx="378.99" cy="160.82" r="1.35" fill="none" stroke="#c8102e" stroke-width="0.9"/>
<circle cx="378.29" cy="160.05" r="1.35" fill="none" stroke="#c8102e" stroke-width="0.9"/>
<circle cx="378.20" cy="159.89" r="1.35" fill="none" stroke="#c8102e" stroke-width="0.9"/>
<circle cx="376.69" cy="158.96" r="1.35" fill="none" stroke="#c8102e" stroke-width="0.9"/>
<circle cx="376.76" cy="158.66" r="1.35" fill="none" stroke="#c8102e" stroke-width="0.9"/>
<circle cx="377.66" cy="157.70" r="1.35" fill="none" stroke="#c8102e" stroke-width="0.9"/>
<circle cx="376.73" cy="157.22" r="1.35" fill="none" stroke="#c8102e" stroke-width="0.9"/>
<circle cx="377.38" cy="156.33" r="1.35" fill="none" stroke="#c8102e" stroke-width="0.9"/>
<circle cx="378.80" cy="155.32" r="1.35" fill="none" stroke="#c8102e" stroke-width="0.9"/>
<circle cx="377.09" cy="154.52" r="1.35" fill="none" stroke="#c8102e" stroke-width="0.9"/>
<circle cx="377.01" cy="153.71" r="1.35" fill="none" stroke="#c8102e" stroke-width="0.9"/>
<circle cx="378.94" cy="153.31" r="1.35" fill="none" stroke="#c8102e" stroke-width="0.9"/>
<circle cx="377.83" cy="152.32" r="1.35" fill="none" stroke="#c8102e" stroke-width="0.9"/>
<circle cx="376.12" cy="151.71" r="1.35" fill="none" stroke="#c8102e" stroke-width="0.9"/>
<circle cx="377.21" cy="150.68" r="1.35" fill="none" stroke="#c8102e" stroke-width="0.9"/>
<circle cx="377.95" cy="149.98" r="1.35" fill="none" stroke="#c8102e" stroke-width="0.9"/>
<circle cx="376.18" cy="149.55" r="1.35" fill="none" stroke="#c8102e" stroke-width="0.9"/>
<circle cx="377.03" cy="148.49" r="1.35" fill="none" stroke="#c8102e" stroke-width="0.9"/>
<circle cx="378.08" cy="147.77" r="1.35" fill="none" stroke="#c8102e" stroke-width="0.9"/>
<circle cx="378.59" cy="147.25" r="1.35" fill="none" stroke="#c8102e" stroke-width="0.9"/>
<circle cx="377.77" cy="146.56" r="1.35" fill="none" stroke="#c8102e" stroke-width="0.9"/>
<circle cx="378.66" cy="146.37" r="1.35" fill="none" stroke="#c8102e" stroke-width="0.9"/>
<circle cx="377.39" cy="145.92" r="1.35" fill="none" stroke="#c8102e" stroke-width="0.9"/>
<circle cx="377.18" cy="145.54" r="1.35" fill="none" stroke="#c8102e" stroke-width="0.9"/>
<circle cx="378.53" cy="144.98" r="1.35" fill="none" stroke="#c8102e" stroke-width="0.9"/>
<circle cx="377.14" cy="144.62" r="1.35" fill="none" stroke="#c8102e" stroke-width="0.9"/>
<circle cx="378.34" cy="144.24" r="1.35" fill="none" stroke="#c8102e" stroke-width="0.9"/>
<circle cx="376.65" cy="143.92" r="1.35" fill="none" stroke="#c8102e" stroke-width="0.9"/>
<circle cx="377.04" cy="143.31" r="1.35" fill="none" stroke="#c8102e" stroke-width="0.9"/>
<circle cx="376.55" cy="143.15" r="1.35" fill="none" stroke="#c8102e" stroke-width="0.9"/>
<circle cx="377.65" cy="142.29" r="1.35" fill="none" stroke="#c8102e" stroke-width="0.9"/>
<circle cx="376.49" cy="141.90" r="1.35" fill="none" stroke="#c8102e" stroke-width="0.9"/>
<circle cx="376.61" cy="141.29" r="1.35" fill="none" stroke="#c8102e" stroke-width="0.9"/>
<circle cx="376.64" cy="140.36" r="1.35" fill="none" stroke="#c8102e" stroke-width="0.9"/>
<circle cx="377.40" cy="139.88" r="1.35" fill="none" stroke="#c8102e" stroke-width="0.9"/>
<circle cx="376.93" cy="138.89" r="1.35" fill="none" stroke="#c8102e" stroke-width="0.9"/>
<circle cx="377.34" cy="137.49" r="1.35" fill="none" stroke="#c8102e" stroke-width="0.9"/>
<circle cx="378.98" cy="136.50" r="1.35" fill="none" stroke="#c8102e" stroke-width="0.9"/>
<circle cx="378.04" cy="135.30" r="1.35" fill="none" stroke="#c8102e" stroke-width="0.9"/>
<circle cx="378.59" cy="170.60" r="1.35" fill="none" stroke="#c8102e" stroke-width="0.9"/>
<circle cx="376.91" cy="76.80" r="1.35" fill="none" stroke="#c8102e" stroke-width="0.9"/>
<circle cx="377.27" cy="81.40" r="1.35" fill="none" stroke="#c8102e" stroke-width="0.9"/>
<circle cx="376.65" cy="109.40" r="1.35" fill="none" stroke="#c8102e" stroke-width="0.9"/>
<circle cx="377.88" cy="120.40" r="1.35" fill="none" stroke="#c8102e" stroke-width="0.9"/>
<circle cx="377.23" cy="127.50" r="1.35" fill="none" stroke="#c8102e" stroke-width="0.9"/>
<line x1="390.00" y1="85.70" x2="390.00" y2="155.60" stroke="#f2bf1e" stroke-width="0.9" />
<rect x="386.80" y="113.90" width="6.40" height="27.40" fill="#fbe296" stroke="#e8b420" stroke-width="0.6" />
<line x1="386.80" y1="127.60" x2="393.20" y2="127.60" stroke="#d89c0a" stroke-width="1.6" />
<circle cx="389.34" cy="155.02" r="1.35" fill="none" stroke="#f2bd1a" stroke-width="0.9"/>
<circle cx="389.73" cy="153.53" r="1.35" fill="none" stroke="#f2bd1a" stroke-width="0.9"/>
<circle cx="390.16" cy="151.32" r="1.35" fill="none" stroke="#f2bd1a" stroke-width="0.9"/>
<circle cx="388.70" cy="149.26" r="1.35" fill="none" stroke="#f2bd1a" stroke-width="0.9"/>
<circle cx="390.74" cy="147.13" r="1.35" fill="none" stroke="#f2bd1a" stroke-width="0.9"/>
<circle cx="389.13" cy="144.33" r="1.35" fill="none" stroke="#f2bd1a" stroke-width="0.9"/>
<circle cx="390.82" cy="142.81" r="1.35" fill="none" stroke="#f2bd1a" stroke-width="0.9"/>
<circle cx="390.61" cy="141.69" r="1.35" fill="none" stroke="#f2bd1a" stroke-width="0.9"/>
<circle cx="388.70" cy="139.67" r="1.35" fill="none" stroke="#f2bd1a" stroke-width="0.9"/>
<circle cx="388.91" cy="138.18" r="1.35" fill="none" stroke="#f2bd1a" stroke-width="0.9"/>
<circle cx="389.18" cy="135.06" r="1.35" fill="none" stroke="#f2bd1a" stroke-width="0.9"/>
<circle cx="390.79" cy="134.19" r="1.35" fill="none" stroke="#f2bd1a" stroke-width="0.9"/>
<circle cx="389.65" cy="131.71" r="1.35" fill="none" stroke="#f2bd1a" stroke-width="0.9"/>
<circle cx="389.58" cy="129.97" r="1.35" fill="none" stroke="#f2bd1a" stroke-width="0.9"/>
<circle cx="391.36" cy="127.84" r="1.35" fill="none" stroke="#f2bd1a" stroke-width="0.9"/>
<circle cx="388.98" cy="127.48" r="1.35" fill="none" stroke="#f2bd1a" stroke-width="0.9"/>
<circle cx="389.23" cy="125.14" r="1.35" fill="none" stroke="#f2bd1a" stroke-width="0.9"/>
<circle cx="389.43" cy="123.20" r="1.35" fill="none" stroke="#f2bd1a" stroke-width="0.9"/>
<circle cx="388.95" cy="121.86" r="1.35" fill="none" stroke="#f2bd1a" stroke-width="0.9"/>
<circle cx="388.30" cy="118.71" r="1.35" fill="none" stroke="#f2bd1a" stroke-width="0.9"/>
<circle cx="388.23" cy="117.80" r="1.35" fill="none" stroke="#f2bd1a" stroke-width="0.9"/>
<circle cx="390.49" cy="115.26" r="1.35" fill="none" stroke="#f2bd1a" stroke-width="0.9"/>
<circle cx="390.25" cy="113.87" r="1.35" fill="none" stroke="#f2bd1a" stroke-width="0.9"/>
<circle cx="391.32" cy="112.91" r="1.35" fill="none" stroke="#f2bd1a" stroke-width="0.9"/>
<circle cx="392.19" cy="111.07" r="1.35" fill="none" stroke="#f2bd1a" stroke-width="0.9"/>
<circle cx="389.18" cy="109.78" r="1.35" fill="none" stroke="#f2bd1a" stroke-width="0.9"/>
<circle cx="390.57" cy="108.26" r="1.35" fill="none" stroke="#f2bd1a" stroke-width="0.9"/>
<circle cx="390.91" cy="105.40" r="1.35" fill="none" stroke="#f2bd1a" stroke-width="0.9"/>
<circle cx="389.66" cy="97.42" r="1.35" fill="none" stroke="#f2bd1a" stroke-width="0.9"/>
<circle cx="390.21" cy="93.58" r="1.35" fill="none" stroke="#f2bd1a" stroke-width="0.9"/>
<circle cx="390.17" cy="85.70" r="1.35" fill="none" stroke="#f2bd1a" stroke-width="0.9"/>
<circle cx="390.46" cy="155.60" r="1.35" fill="none" stroke="#f2bd1a" stroke-width="0.9"/>
<line x1="402.20" y1="70.70" x2="402.20" y2="170.40" stroke="#35a631" stroke-width="0.9" />
<rect x="399.00" y="99.60" width="6.40" height="51.90" fill="#9ddb96" stroke="#2a8a2a" stroke-width="0.6" />
<line x1="399.00" y1="125.00" x2="405.40" y2="125.00" stroke="#1f7a24" stroke-width="1.6" />
<circle cx="402.36" cy="167.49" r="1.35" fill="none" stroke="#32a02e" stroke-width="0.9"/>
<circle cx="402.85" cy="166.04" r="1.35" fill="none" stroke="#32a02e" stroke-width="0.9"/>
<circle cx="401.97" cy="161.88" r="1.35" fill="none" stroke="#32a02e" stroke-width="0.9"/>
<circle cx="402.34" cy="160.54" r="1.35" fill="none" stroke="#32a02e" stroke-width="0.9"/>
<circle cx="403.40" cy="157.95" r="1.35" fill="none" stroke="#32a02e" stroke-width="0.9"/>
<circle cx="403.11" cy="156.68" r="1.35" fill="none" stroke="#32a02e" stroke-width="0.9"/>
<circle cx="402.69" cy="155.95" r="1.35" fill="none" stroke="#32a02e" stroke-width="0.9"/>
<circle cx="402.75" cy="154.85" r="1.35" fill="none" stroke="#32a02e" stroke-width="0.9"/>
<circle cx="401.79" cy="154.13" r="1.35" fill="none" stroke="#32a02e" stroke-width="0.9"/>
<circle cx="401.86" cy="153.17" r="1.35" fill="none" stroke="#32a02e" stroke-width="0.9"/>
<circle cx="401.43" cy="152.36" r="1.35" fill="none" stroke="#32a02e" stroke-width="0.9"/>
<circle cx="403.13" cy="151.23" r="1.35" fill="none" stroke="#32a02e" stroke-width="0.9"/>
<circle cx="403.07" cy="149.23" r="1.35" fill="none" stroke="#32a02e" stroke-width="0.9"/>
<circle cx="401.96" cy="147.08" r="1.35" fill="none" stroke="#32a02e" stroke-width="0.9"/>
<circle cx="402.98" cy="145.46" r="1.35" fill="none" stroke="#32a02e" stroke-width="0.9"/>
<circle cx="401.39" cy="141.88" r="1.35" fill="none" stroke="#32a02e" stroke-width="0.9"/>
<circle cx="401.58" cy="140.26" r="1.35" fill="none" stroke="#32a02e" stroke-width="0.9"/>
<circle cx="402.21" cy="137.92" r="1.35" fill="none" stroke="#32a02e" stroke-width="0.9"/>
<circle cx="401.88" cy="134.55" r="1.35" fill="none" stroke="#32a02e" stroke-width="0.9"/>
<circle cx="401.97" cy="131.60" r="1.35" fill="none" stroke="#32a02e" stroke-width="0.9"/>
<circle cx="403.02" cy="129.57" r="1.35" fill="none" stroke="#32a02e" stroke-width="0.9"/>
<circle cx="401.56" cy="126.02" r="1.35" fill="none" stroke="#32a02e" stroke-width="0.9"/>
<circle cx="401.64" cy="123.37" r="1.35" fill="none" stroke="#32a02e" stroke-width="0.9"/>
<circle cx="401.71" cy="121.22" r="1.35" fill="none" stroke="#32a02e" stroke-width="0.9"/>
<circle cx="402.52" cy="118.33" r="1.35" fill="none" stroke="#32a02e" stroke-width="0.9"/>
<circle cx="401.73" cy="117.33" r="1.35" fill="none" stroke="#32a02e" stroke-width="0.9"/>
<circle cx="401.32" cy="113.90" r="1.35" fill="none" stroke="#32a02e" stroke-width="0.9"/>
<circle cx="402.28" cy="111.42" r="1.35" fill="none" stroke="#32a02e" stroke-width="0.9"/>
<circle cx="402.01" cy="109.61" r="1.35" fill="none" stroke="#32a02e" stroke-width="0.9"/>
<circle cx="401.70" cy="106.52" r="1.35" fill="none" stroke="#32a02e" stroke-width="0.9"/>
<circle cx="402.19" cy="104.99" r="1.35" fill="none" stroke="#32a02e" stroke-width="0.9"/>
<circle cx="402.54" cy="102.15" r="1.35" fill="none" stroke="#32a02e" stroke-width="0.9"/>
<circle cx="402.32" cy="100.26" r="1.35" fill="none" stroke="#32a02e" stroke-width="0.9"/>
<circle cx="402.58" cy="98.94" r="1.35" fill="none" stroke="#32a02e" stroke-width="0.9"/>
<circle cx="402.42" cy="97.93" r="1.35" fill="none" stroke="#32a02e" stroke-width="0.9"/>
<circle cx="403.57" cy="97.05" r="1.35" fill="none" stroke="#32a02e" stroke-width="0.9"/>
<circle cx="404.18" cy="96.36" r="1.35" fill="none" stroke="#32a02e" stroke-width="0.9"/>
<circle cx="401.59" cy="95.18" r="1.35" fill="none" stroke="#32a02e" stroke-width="0.9"/>
<circle cx="401.80" cy="93.30" r="1.35" fill="none" stroke="#32a02e" stroke-width="0.9"/>
<circle cx="403.06" cy="92.08" r="1.35" fill="none" stroke="#32a02e" stroke-width="0.9"/>
<circle cx="401.92" cy="90.23" r="1.35" fill="none" stroke="#32a02e" stroke-width="0.9"/>
<circle cx="402.42" cy="84.52" r="1.35" fill="none" stroke="#32a02e" stroke-width="0.9"/>
<circle cx="402.40" cy="81.51" r="1.35" fill="none" stroke="#32a02e" stroke-width="0.9"/>
<circle cx="402.39" cy="74.02" r="1.35" fill="none" stroke="#32a02e" stroke-width="0.9"/>
<circle cx="402.66" cy="70.70" r="1.35" fill="none" stroke="#32a02e" stroke-width="0.9"/>
<circle cx="402.52" cy="170.40" r="1.35" fill="none" stroke="#32a02e" stroke-width="0.9"/>
<line x1="465.00" y1="23.70" x2="465.00" y2="177.35" stroke="#1a1a1a" stroke-width="1.25" />
<line x1="462.00" y1="68.00" x2="465.00" y2="68.00" stroke="#222" stroke-width="1.0" />
<text x="459.70" y="70.80" font-size="8.0" text-anchor="end" font-weight="normal" fill="#2a2a2a" stroke="#2a2a2a" stroke-width="0.18" style="">100</text>
<line x1="462.00" y1="119.40" x2="465.00" y2="119.40" stroke="#222" stroke-width="1.0" />
<text x="459.70" y="122.20" font-size="8.0" text-anchor="end" font-weight="normal" fill="#2a2a2a" stroke="#2a2a2a" stroke-width="0.18" style="">50</text>
<line x1="462.00" y1="170.80" x2="465.00" y2="170.80" stroke="#222" stroke-width="1.0" />
<text x="459.70" y="173.60" font-size="8.0" text-anchor="end" font-weight="normal" fill="#2a2a2a" stroke="#2a2a2a" stroke-width="0.18" style="">0</text>
<line x1="464.40" y1="177.35" x2="513.60" y2="177.35" stroke="#1a1a1a" stroke-width="1.15" />
<line x1="470.10" y1="177.35" x2="470.10" y2="180.15" stroke="#333" stroke-width="0.9" />
<line x1="482.90" y1="177.35" x2="482.90" y2="180.15" stroke="#333" stroke-width="0.9" />
<line x1="495.30" y1="177.35" x2="495.30" y2="180.15" stroke="#333" stroke-width="0.9" />
<line x1="507.90" y1="177.35" x2="507.90" y2="180.15" stroke="#333" stroke-width="0.9" />
<g transform="translate(437.60,99.00) rotate(-90) scale(0.7,1)"><text x="0" y="3.06" font-size="8.5" font-weight="normal" text-anchor="middle" fill="#222" stroke="#222" stroke-width="0.28">Number of lesions</text></g>
<path d="M470.70,33.10V30.20H508.20V33.10" fill="none" stroke="#5a5a5a" stroke-width="0.9"/>
<text x="489.45" y="28.10" font-size="7.9" text-anchor="middle" font-weight="normal" fill="#2a2a2a" stroke="#2a2a2a" stroke-width="0.18" style="">&lt;0.001</text>
<path d="M495.00,44.70V41.80H508.20V44.70" fill="none" stroke="#5a5a5a" stroke-width="0.9"/>
<text x="501.60" y="39.70" font-size="7.9" text-anchor="middle" font-weight="normal" fill="#2a2a2a" stroke="#2a2a2a" stroke-width="0.18" style="">0.97</text>
<path d="M483.40,56.80V53.90H495.00V56.80" fill="none" stroke="#5a5a5a" stroke-width="0.9"/>
<text x="489.20" y="51.80" font-size="7.9" text-anchor="middle" font-weight="normal" fill="#2a2a2a" stroke="#2a2a2a" stroke-width="0.18" style="">&lt;0.001</text>
<path d="M470.70,68.50V65.60H482.60V68.50" fill="none" stroke="#5a5a5a" stroke-width="0.9"/>
<text x="476.65" y="63.50" font-size="7.9" text-anchor="middle" font-weight="normal" fill="#2a2a2a" stroke="#2a2a2a" stroke-width="0.18" style="">0.009</text>
<line x1="470.10" y1="167.00" x2="470.10" y2="170.80" stroke="#1d4f8f" stroke-width="0.9" />
<rect x="467.50" y="168.00" width="5.20" height="2.00" fill="#8598cc" stroke="#5a6fb0" stroke-width="0.6" />
<line x1="467.50" y1="169.00" x2="472.70" y2="169.00" stroke="#163f78" stroke-width="1.6" />
<circle cx="470.16" cy="170.75" r="1.35" fill="none" stroke="#1d4f8f" stroke-width="0.9"/>
<circle cx="468.61" cy="170.39" r="1.35" fill="none" stroke="#1d4f8f" stroke-width="0.9"/>
<circle cx="468.45" cy="170.15" r="1.35" fill="none" stroke="#1d4f8f" stroke-width="0.9"/>
<circle cx="468.60" cy="169.83" r="1.35" fill="none" stroke="#1d4f8f" stroke-width="0.9"/>
<circle cx="468.79" cy="169.55" r="1.35" fill="none" stroke="#1d4f8f" stroke-width="0.9"/>
<circle cx="470.77" cy="169.24" r="1.35" fill="none" stroke="#1d4f8f" stroke-width="0.9"/>
<circle cx="468.80" cy="168.76" r="1.35" fill="none" stroke="#1d4f8f" stroke-width="0.9"/>
<circle cx="469.94" cy="168.49" r="1.35" fill="none" stroke="#1d4f8f" stroke-width="0.9"/>
<circle cx="471.01" cy="168.25" r="1.35" fill="none" stroke="#1d4f8f" stroke-width="0.9"/>
<circle cx="470.04" cy="167.91" r="1.35" fill="none" stroke="#1d4f8f" stroke-width="0.9"/>
<circle cx="468.97" cy="167.55" r="1.35" fill="none" stroke="#1d4f8f" stroke-width="0.9"/>
<circle cx="471.33" cy="167.26" r="1.35" fill="none" stroke="#1d4f8f" stroke-width="0.9"/>
<circle cx="471.21" cy="167.00" r="1.35" fill="none" stroke="#1d4f8f" stroke-width="0.9"/>
<circle cx="468.76" cy="170.80" r="1.35" fill="none" stroke="#1d4f8f" stroke-width="0.9"/>
<circle cx="469.61" cy="162.30" r="1.35" fill="none" stroke="#1d4f8f" stroke-width="0.9"/>
<line x1="482.90" y1="152.40" x2="482.90" y2="170.80" stroke="#c8102e" stroke-width="0.9" />
<rect x="479.70" y="157.00" width="6.40" height="11.00" fill="#f08a8e" stroke="#b81830" stroke-width="0.6" />
<line x1="479.70" y1="163.50" x2="486.10" y2="163.50" stroke="#8a0a1c" stroke-width="1.6" />
<circle cx="483.79" cy="170.73" r="1.35" fill="none" stroke="#c8102e" stroke-width="0.9"/>
<circle cx="483.10" cy="170.53" r="1.35" fill="none" stroke="#c8102e" stroke-width="0.9"/>
<circle cx="484.15" cy="170.43" r="1.35" fill="none" stroke="#c8102e" stroke-width="0.9"/>
<circle cx="481.51" cy="170.20" r="1.35" fill="none" stroke="#c8102e" stroke-width="0.9"/>
<circle cx="481.65" cy="170.10" r="1.35" fill="none" stroke="#c8102e" stroke-width="0.9"/>
<circle cx="481.47" cy="169.83" r="1.35" fill="none" stroke="#c8102e" stroke-width="0.9"/>
<circle cx="484.44" cy="169.70" r="1.35" fill="none" stroke="#c8102e" stroke-width="0.9"/>
<circle cx="482.04" cy="169.49" r="1.35" fill="none" stroke="#c8102e" stroke-width="0.9"/>
<circle cx="482.86" cy="169.19" r="1.35" fill="none" stroke="#c8102e" stroke-width="0.9"/>
<circle cx="481.67" cy="168.95" r="1.35" fill="none" stroke="#c8102e" stroke-width="0.9"/>
<circle cx="482.34" cy="168.72" r="1.35" fill="none" stroke="#c8102e" stroke-width="0.9"/>
<circle cx="481.40" cy="168.54" r="1.35" fill="none" stroke="#c8102e" stroke-width="0.9"/>
<circle cx="483.10" cy="168.33" r="1.35" fill="none" stroke="#c8102e" stroke-width="0.9"/>
<circle cx="481.83" cy="168.02" r="1.35" fill="none" stroke="#c8102e" stroke-width="0.9"/>
<circle cx="483.26" cy="167.78" r="1.35" fill="none" stroke="#c8102e" stroke-width="0.9"/>
<circle cx="482.27" cy="167.46" r="1.35" fill="none" stroke="#c8102e" stroke-width="0.9"/>
<circle cx="482.17" cy="167.18" r="1.35" fill="none" stroke="#c8102e" stroke-width="0.9"/>
<circle cx="482.85" cy="167.07" r="1.35" fill="none" stroke="#c8102e" stroke-width="0.9"/>
<circle cx="482.56" cy="166.70" r="1.35" fill="none" stroke="#c8102e" stroke-width="0.9"/>
<circle cx="482.31" cy="166.30" r="1.35" fill="none" stroke="#c8102e" stroke-width="0.9"/>
<circle cx="481.81" cy="166.10" r="1.35" fill="none" stroke="#c8102e" stroke-width="0.9"/>
<circle cx="481.87" cy="165.79" r="1.35" fill="none" stroke="#c8102e" stroke-width="0.9"/>
<circle cx="483.81" cy="165.50" r="1.35" fill="none" stroke="#c8102e" stroke-width="0.9"/>
<circle cx="482.47" cy="164.96" r="1.35" fill="none" stroke="#c8102e" stroke-width="0.9"/>
<circle cx="481.97" cy="164.48" r="1.35" fill="none" stroke="#c8102e" stroke-width="0.9"/>
<circle cx="482.21" cy="164.10" r="1.35" fill="none" stroke="#c8102e" stroke-width="0.9"/>
<circle cx="482.86" cy="164.01" r="1.35" fill="none" stroke="#c8102e" stroke-width="0.9"/>
<circle cx="483.94" cy="163.43" r="1.35" fill="none" stroke="#c8102e" stroke-width="0.9"/>
<circle cx="482.31" cy="163.13" r="1.35" fill="none" stroke="#c8102e" stroke-width="0.9"/>
<circle cx="483.59" cy="162.61" r="1.35" fill="none" stroke="#c8102e" stroke-width="0.9"/>
<circle cx="482.87" cy="162.24" r="1.35" fill="none" stroke="#c8102e" stroke-width="0.9"/>
<circle cx="482.75" cy="161.52" r="1.35" fill="none" stroke="#c8102e" stroke-width="0.9"/>
<circle cx="483.42" cy="160.99" r="1.35" fill="none" stroke="#c8102e" stroke-width="0.9"/>
<circle cx="482.72" cy="160.92" r="1.35" fill="none" stroke="#c8102e" stroke-width="0.9"/>
<circle cx="482.15" cy="160.10" r="1.35" fill="none" stroke="#c8102e" stroke-width="0.9"/>
<circle cx="482.99" cy="159.86" r="1.35" fill="none" stroke="#c8102e" stroke-width="0.9"/>
<circle cx="483.17" cy="159.38" r="1.35" fill="none" stroke="#c8102e" stroke-width="0.9"/>
<circle cx="483.12" cy="158.77" r="1.35" fill="none" stroke="#c8102e" stroke-width="0.9"/>
<circle cx="482.49" cy="158.10" r="1.35" fill="none" stroke="#c8102e" stroke-width="0.9"/>
<circle cx="483.75" cy="157.54" r="1.35" fill="none" stroke="#c8102e" stroke-width="0.9"/>
<circle cx="483.61" cy="157.45" r="1.35" fill="none" stroke="#c8102e" stroke-width="0.9"/>
<circle cx="483.94" cy="156.96" r="1.35" fill="none" stroke="#c8102e" stroke-width="0.9"/>
<circle cx="482.78" cy="156.68" r="1.35" fill="none" stroke="#c8102e" stroke-width="0.9"/>
<circle cx="483.63" cy="156.12" r="1.35" fill="none" stroke="#c8102e" stroke-width="0.9"/>
<circle cx="483.40" cy="155.77" r="1.35" fill="none" stroke="#c8102e" stroke-width="0.9"/>
<circle cx="482.17" cy="155.44" r="1.35" fill="none" stroke="#c8102e" stroke-width="0.9"/>
<circle cx="481.82" cy="155.10" r="1.35" fill="none" stroke="#c8102e" stroke-width="0.9"/>
<circle cx="482.12" cy="154.60" r="1.35" fill="none" stroke="#c8102e" stroke-width="0.9"/>
<circle cx="481.98" cy="154.26" r="1.35" fill="none" stroke="#c8102e" stroke-width="0.9"/>
<circle cx="481.86" cy="154.09" r="1.35" fill="none" stroke="#c8102e" stroke-width="0.9"/>
<circle cx="482.55" cy="153.74" r="1.35" fill="none" stroke="#c8102e" stroke-width="0.9"/>
<circle cx="483.55" cy="153.37" r="1.35" fill="none" stroke="#c8102e" stroke-width="0.9"/>
<circle cx="482.39" cy="153.03" r="1.35" fill="none" stroke="#c8102e" stroke-width="0.9"/>
<circle cx="482.94" cy="152.69" r="1.35" fill="none" stroke="#c8102e" stroke-width="0.9"/>
<circle cx="481.52" cy="152.56" r="1.35" fill="none" stroke="#c8102e" stroke-width="0.9"/>
<circle cx="482.61" cy="152.40" r="1.35" fill="none" stroke="#c8102e" stroke-width="0.9"/>
<circle cx="483.36" cy="170.80" r="1.35" fill="none" stroke="#c8102e" stroke-width="0.9"/>
<circle cx="481.92" cy="96.70" r="1.35" fill="none" stroke="#c8102e" stroke-width="0.9"/>
<circle cx="482.95" cy="132.90" r="1.35" fill="none" stroke="#c8102e" stroke-width="0.9"/>
<circle cx="483.52" cy="139.30" r="1.35" fill="none" stroke="#c8102e" stroke-width="0.9"/>
<line x1="495.30" y1="133.30" x2="495.30" y2="170.80" stroke="#f2bf1e" stroke-width="0.9" />
<rect x="492.10" y="151.00" width="6.40" height="14.50" fill="#fbe296" stroke="#e8b420" stroke-width="0.6" />
<line x1="492.10" y1="159.00" x2="498.50" y2="159.00" stroke="#d89c0a" stroke-width="1.6" />
<circle cx="494.96" cy="170.05" r="1.35" fill="none" stroke="#f2bd1a" stroke-width="0.9"/>
<circle cx="495.13" cy="169.18" r="1.35" fill="none" stroke="#f2bd1a" stroke-width="0.9"/>
<circle cx="493.92" cy="168.62" r="1.35" fill="none" stroke="#f2bd1a" stroke-width="0.9"/>
<circle cx="495.31" cy="167.79" r="1.35" fill="none" stroke="#f2bd1a" stroke-width="0.9"/>
<circle cx="494.89" cy="167.31" r="1.35" fill="none" stroke="#f2bd1a" stroke-width="0.9"/>
<circle cx="494.48" cy="166.92" r="1.35" fill="none" stroke="#f2bd1a" stroke-width="0.9"/>
<circle cx="495.47" cy="166.45" r="1.35" fill="none" stroke="#f2bd1a" stroke-width="0.9"/>
<circle cx="497.33" cy="166.37" r="1.35" fill="none" stroke="#f2bd1a" stroke-width="0.9"/>
<circle cx="494.24" cy="165.55" r="1.35" fill="none" stroke="#f2bd1a" stroke-width="0.9"/>
<circle cx="496.60" cy="165.27" r="1.35" fill="none" stroke="#f2bd1a" stroke-width="0.9"/>
<circle cx="494.74" cy="164.49" r="1.35" fill="none" stroke="#f2bd1a" stroke-width="0.9"/>
<circle cx="496.07" cy="164.10" r="1.35" fill="none" stroke="#f2bd1a" stroke-width="0.9"/>
<circle cx="494.19" cy="162.99" r="1.35" fill="none" stroke="#f2bd1a" stroke-width="0.9"/>
<circle cx="496.67" cy="162.84" r="1.35" fill="none" stroke="#f2bd1a" stroke-width="0.9"/>
<circle cx="495.11" cy="161.71" r="1.35" fill="none" stroke="#f2bd1a" stroke-width="0.9"/>
<circle cx="496.53" cy="161.18" r="1.35" fill="none" stroke="#f2bd1a" stroke-width="0.9"/>
<circle cx="494.56" cy="160.28" r="1.35" fill="none" stroke="#f2bd1a" stroke-width="0.9"/>
<circle cx="495.06" cy="159.49" r="1.35" fill="none" stroke="#f2bd1a" stroke-width="0.9"/>
<circle cx="495.83" cy="158.48" r="1.35" fill="none" stroke="#f2bd1a" stroke-width="0.9"/>
<circle cx="494.50" cy="157.53" r="1.35" fill="none" stroke="#f2bd1a" stroke-width="0.9"/>
<circle cx="494.74" cy="157.01" r="1.35" fill="none" stroke="#f2bd1a" stroke-width="0.9"/>
<circle cx="495.72" cy="155.91" r="1.35" fill="none" stroke="#f2bd1a" stroke-width="0.9"/>
<circle cx="496.36" cy="155.24" r="1.35" fill="none" stroke="#f2bd1a" stroke-width="0.9"/>
<circle cx="494.88" cy="154.40" r="1.35" fill="none" stroke="#f2bd1a" stroke-width="0.9"/>
<circle cx="494.56" cy="152.96" r="1.35" fill="none" stroke="#f2bd1a" stroke-width="0.9"/>
<circle cx="494.97" cy="152.52" r="1.35" fill="none" stroke="#f2bd1a" stroke-width="0.9"/>
<circle cx="496.45" cy="151.79" r="1.35" fill="none" stroke="#f2bd1a" stroke-width="0.9"/>
<circle cx="494.42" cy="150.69" r="1.35" fill="none" stroke="#f2bd1a" stroke-width="0.9"/>
<circle cx="495.68" cy="149.65" r="1.35" fill="none" stroke="#f2bd1a" stroke-width="0.9"/>
<circle cx="494.96" cy="149.27" r="1.35" fill="none" stroke="#f2bd1a" stroke-width="0.9"/>
<circle cx="495.63" cy="148.04" r="1.35" fill="none" stroke="#f2bd1a" stroke-width="0.9"/>
<circle cx="494.75" cy="147.16" r="1.35" fill="none" stroke="#f2bd1a" stroke-width="0.9"/>
<circle cx="495.45" cy="145.54" r="1.35" fill="none" stroke="#f2bd1a" stroke-width="0.9"/>
<circle cx="495.69" cy="144.26" r="1.35" fill="none" stroke="#f2bd1a" stroke-width="0.9"/>
<circle cx="495.66" cy="141.22" r="1.35" fill="none" stroke="#f2bd1a" stroke-width="0.9"/>
<circle cx="495.43" cy="137.00" r="1.35" fill="none" stroke="#f2bd1a" stroke-width="0.9"/>
<circle cx="495.30" cy="133.30" r="1.35" fill="none" stroke="#f2bd1a" stroke-width="0.9"/>
<circle cx="495.37" cy="170.80" r="1.35" fill="none" stroke="#f2bd1a" stroke-width="0.9"/>
<line x1="507.90" y1="141.20" x2="507.90" y2="170.80" stroke="#35a631" stroke-width="0.9" />
<rect x="504.70" y="151.50" width="6.40" height="15.00" fill="#9ddb96" stroke="#2a8a2a" stroke-width="0.6" />
<line x1="504.70" y1="160.00" x2="511.10" y2="160.00" stroke="#1f7a24" stroke-width="1.6" />
<circle cx="505.94" cy="170.76" r="1.35" fill="none" stroke="#32a02e" stroke-width="0.9"/>
<circle cx="508.13" cy="170.29" r="1.35" fill="none" stroke="#32a02e" stroke-width="0.9"/>
<circle cx="509.07" cy="170.02" r="1.35" fill="none" stroke="#32a02e" stroke-width="0.9"/>
<circle cx="507.86" cy="169.77" r="1.35" fill="none" stroke="#32a02e" stroke-width="0.9"/>
<circle cx="506.92" cy="169.37" r="1.35" fill="none" stroke="#32a02e" stroke-width="0.9"/>
<circle cx="509.01" cy="169.10" r="1.35" fill="none" stroke="#32a02e" stroke-width="0.9"/>
<circle cx="509.17" cy="168.75" r="1.35" fill="none" stroke="#32a02e" stroke-width="0.9"/>
<circle cx="508.85" cy="168.43" r="1.35" fill="none" stroke="#32a02e" stroke-width="0.9"/>
<circle cx="508.07" cy="167.91" r="1.35" fill="none" stroke="#32a02e" stroke-width="0.9"/>
<circle cx="509.24" cy="167.52" r="1.35" fill="none" stroke="#32a02e" stroke-width="0.9"/>
<circle cx="508.86" cy="167.13" r="1.35" fill="none" stroke="#32a02e" stroke-width="0.9"/>
<circle cx="506.78" cy="166.89" r="1.35" fill="none" stroke="#32a02e" stroke-width="0.9"/>
<circle cx="507.49" cy="166.23" r="1.35" fill="none" stroke="#32a02e" stroke-width="0.9"/>
<circle cx="506.71" cy="165.85" r="1.35" fill="none" stroke="#32a02e" stroke-width="0.9"/>
<circle cx="506.58" cy="165.31" r="1.35" fill="none" stroke="#32a02e" stroke-width="0.9"/>
<circle cx="507.47" cy="164.81" r="1.35" fill="none" stroke="#32a02e" stroke-width="0.9"/>
<circle cx="508.87" cy="164.13" r="1.35" fill="none" stroke="#32a02e" stroke-width="0.9"/>
<circle cx="508.78" cy="163.97" r="1.35" fill="none" stroke="#32a02e" stroke-width="0.9"/>
<circle cx="506.92" cy="163.26" r="1.35" fill="none" stroke="#32a02e" stroke-width="0.9"/>
<circle cx="507.10" cy="162.43" r="1.35" fill="none" stroke="#32a02e" stroke-width="0.9"/>
<circle cx="507.63" cy="161.98" r="1.35" fill="none" stroke="#32a02e" stroke-width="0.9"/>
<circle cx="508.75" cy="161.61" r="1.35" fill="none" stroke="#32a02e" stroke-width="0.9"/>
<circle cx="508.18" cy="160.78" r="1.35" fill="none" stroke="#32a02e" stroke-width="0.9"/>
<circle cx="508.86" cy="160.04" r="1.35" fill="none" stroke="#32a02e" stroke-width="0.9"/>
<circle cx="506.89" cy="159.75" r="1.35" fill="none" stroke="#32a02e" stroke-width="0.9"/>
<circle cx="509.01" cy="158.84" r="1.35" fill="none" stroke="#32a02e" stroke-width="0.9"/>
<circle cx="507.24" cy="158.63" r="1.35" fill="none" stroke="#32a02e" stroke-width="0.9"/>
<circle cx="508.18" cy="157.44" r="1.35" fill="none" stroke="#32a02e" stroke-width="0.9"/>
<circle cx="508.71" cy="157.06" r="1.35" fill="none" stroke="#32a02e" stroke-width="0.9"/>
<circle cx="508.39" cy="156.52" r="1.35" fill="none" stroke="#32a02e" stroke-width="0.9"/>
<circle cx="507.27" cy="155.41" r="1.35" fill="none" stroke="#32a02e" stroke-width="0.9"/>
<circle cx="508.25" cy="154.81" r="1.35" fill="none" stroke="#32a02e" stroke-width="0.9"/>
<circle cx="507.76" cy="153.87" r="1.35" fill="none" stroke="#32a02e" stroke-width="0.9"/>
<circle cx="506.93" cy="153.19" r="1.35" fill="none" stroke="#32a02e" stroke-width="0.9"/>
<circle cx="507.58" cy="152.45" r="1.35" fill="none" stroke="#32a02e" stroke-width="0.9"/>
<circle cx="507.53" cy="151.88" r="1.35" fill="none" stroke="#32a02e" stroke-width="0.9"/>
<circle cx="508.15" cy="150.76" r="1.35" fill="none" stroke="#32a02e" stroke-width="0.9"/>
<circle cx="507.47" cy="150.63" r="1.35" fill="none" stroke="#32a02e" stroke-width="0.9"/>
<circle cx="508.10" cy="149.24" r="1.35" fill="none" stroke="#32a02e" stroke-width="0.9"/>
<circle cx="508.26" cy="148.54" r="1.35" fill="none" stroke="#32a02e" stroke-width="0.9"/>
<circle cx="507.31" cy="148.05" r="1.35" fill="none" stroke="#32a02e" stroke-width="0.9"/>
<circle cx="507.22" cy="146.78" r="1.35" fill="none" stroke="#32a02e" stroke-width="0.9"/>
<circle cx="508.25" cy="146.19" r="1.35" fill="none" stroke="#32a02e" stroke-width="0.9"/>
<circle cx="507.84" cy="145.25" r="1.35" fill="none" stroke="#32a02e" stroke-width="0.9"/>
<circle cx="507.25" cy="144.10" r="1.35" fill="none" stroke="#32a02e" stroke-width="0.9"/>
<circle cx="507.23" cy="143.74" r="1.35" fill="none" stroke="#32a02e" stroke-width="0.9"/>
<circle cx="508.66" cy="142.77" r="1.35" fill="none" stroke="#32a02e" stroke-width="0.9"/>
<circle cx="508.09" cy="141.55" r="1.35" fill="none" stroke="#32a02e" stroke-width="0.9"/>
<circle cx="507.76" cy="141.20" r="1.35" fill="none" stroke="#32a02e" stroke-width="0.9"/>
<circle cx="507.60" cy="170.80" r="1.35" fill="none" stroke="#32a02e" stroke-width="0.9"/>
<circle cx="508.89" cy="70.20" r="1.35" fill="none" stroke="#32a02e" stroke-width="0.9"/>
<circle cx="508.28" cy="112.60" r="1.35" fill="none" stroke="#32a02e" stroke-width="0.9"/>
<circle cx="508.37" cy="121.00" r="1.35" fill="none" stroke="#32a02e" stroke-width="0.9"/>
<circle cx="507.62" cy="127.40" r="1.35" fill="none" stroke="#32a02e" stroke-width="0.9"/>
<circle cx="507.52" cy="131.70" r="1.35" fill="none" stroke="#32a02e" stroke-width="0.9"/>
<circle cx="507.72" cy="135.20" r="1.35" fill="none" stroke="#32a02e" stroke-width="0.9"/>
<line x1="44.50" y1="233.30" x2="44.50" y2="348.30" stroke="#1a1a1a" stroke-width="1.25" />
<line x1="41.50" y1="244.30" x2="44.50" y2="244.30" stroke="#222" stroke-width="1.0" />
<text x="35.30" y="247.20" font-size="7.6" text-anchor="end" font-weight="normal" fill="#2a2a2a" stroke="#2a2a2a" stroke-width="0.18" style="">10</text>
<text x="35.90" y="243.80" font-size="4.5" text-anchor="start" font-weight="normal" fill="#2a2a2a" stroke="#2a2a2a" stroke-width="0.1" style="">6</text>
<line x1="41.50" y1="269.10" x2="44.50" y2="269.10" stroke="#222" stroke-width="1.0" />
<text x="35.30" y="272.00" font-size="7.6" text-anchor="end" font-weight="normal" fill="#2a2a2a" stroke="#2a2a2a" stroke-width="0.18" style="">10</text>
<text x="35.90" y="268.60" font-size="4.5" text-anchor="start" font-weight="normal" fill="#2a2a2a" stroke="#2a2a2a" stroke-width="0.1" style="">5</text>
<line x1="41.50" y1="293.80" x2="44.50" y2="293.80" stroke="#222" stroke-width="1.0" />
<text x="35.30" y="296.70" font-size="7.6" text-anchor="end" font-weight="normal" fill="#2a2a2a" stroke="#2a2a2a" stroke-width="0.18" style="">10</text>
<text x="35.90" y="293.30" font-size="4.5" text-anchor="start" font-weight="normal" fill="#2a2a2a" stroke="#2a2a2a" stroke-width="0.1" style="">4</text>
<line x1="41.50" y1="318.80" x2="44.50" y2="318.80" stroke="#222" stroke-width="1.0" />
<text x="35.30" y="321.70" font-size="7.6" text-anchor="end" font-weight="normal" fill="#2a2a2a" stroke="#2a2a2a" stroke-width="0.18" style="">10</text>
<text x="35.90" y="318.30" font-size="4.5" text-anchor="start" font-weight="normal" fill="#2a2a2a" stroke="#2a2a2a" stroke-width="0.1" style="">3</text>
<line x1="41.50" y1="343.60" x2="44.50" y2="343.60" stroke="#222" stroke-width="1.0" />
<text x="35.30" y="346.50" font-size="7.6" text-anchor="end" font-weight="normal" fill="#2a2a2a" stroke="#2a2a2a" stroke-width="0.18" style="">10</text>
<text x="35.90" y="343.10" font-size="4.5" text-anchor="start" font-weight="normal" fill="#2a2a2a" stroke="#2a2a2a" stroke-width="0.1" style="">2</text>
<line x1="43.90" y1="348.30" x2="87.00" y2="348.30" stroke="#1a1a1a" stroke-width="1.15" />
<line x1="54.80" y1="348.30" x2="54.80" y2="351.10" stroke="#333" stroke-width="0.9" />
<line x1="76.00" y1="348.30" x2="76.00" y2="351.10" stroke="#333" stroke-width="0.9" />
<g transform="translate(18.50,290.40) rotate(-90) scale(0.73,1)"><text x="0" y="2.92" font-size="8.1" font-weight="normal" text-anchor="middle" fill="#222" stroke="#222" stroke-width="0.45">MTV</text></g>
<path d="M54.60,241.70V238.80H76.00V241.70" fill="none" stroke="#5a5a5a" stroke-width="0.9"/>
<text x="65.30" y="236.70" font-size="7.9" text-anchor="middle" font-weight="normal" fill="#2a2a2a" stroke="#2a2a2a" stroke-width="0.18" style="">&lt;0.001</text>
<line x1="54.80" y1="247.00" x2="54.80" y2="325.00" stroke="#1d4f8f" stroke-width="0.9" />
<rect x="48.70" y="275.60" width="12.20" height="22.70" fill="#9aaed8" stroke="#5a6fb0" stroke-width="0.6" />
<line x1="48.70" y1="285.00" x2="60.90" y2="285.00" stroke="#163f78" stroke-width="1.6" />
<circle cx="53.41" cy="324.83" r="1.45" fill="none" stroke="#1d4f8f" stroke-width="0.9"/>
<circle cx="54.54" cy="323.47" r="1.45" fill="none" stroke="#1d4f8f" stroke-width="0.9"/>
<circle cx="53.49" cy="322.70" r="1.45" fill="none" stroke="#1d4f8f" stroke-width="0.9"/>
<circle cx="54.05" cy="321.44" r="1.45" fill="none" stroke="#1d4f8f" stroke-width="0.9"/>
<circle cx="53.57" cy="320.86" r="1.45" fill="none" stroke="#1d4f8f" stroke-width="0.9"/>
<circle cx="56.14" cy="319.91" r="1.45" fill="none" stroke="#1d4f8f" stroke-width="0.9"/>
<circle cx="54.25" cy="318.96" r="1.45" fill="none" stroke="#1d4f8f" stroke-width="0.9"/>
<circle cx="54.76" cy="317.72" r="1.45" fill="none" stroke="#1d4f8f" stroke-width="0.9"/>
<circle cx="55.30" cy="317.31" r="1.45" fill="none" stroke="#1d4f8f" stroke-width="0.9"/>
<circle cx="56.08" cy="316.15" r="1.45" fill="none" stroke="#1d4f8f" stroke-width="0.9"/>
<circle cx="56.28" cy="315.65" r="1.45" fill="none" stroke="#1d4f8f" stroke-width="0.9"/>
<circle cx="55.03" cy="314.53" r="1.45" fill="none" stroke="#1d4f8f" stroke-width="0.9"/>
<circle cx="54.80" cy="313.90" r="1.45" fill="none" stroke="#1d4f8f" stroke-width="0.9"/>
<circle cx="56.19" cy="312.63" r="1.45" fill="none" stroke="#1d4f8f" stroke-width="0.9"/>
<circle cx="54.43" cy="312.24" r="1.45" fill="none" stroke="#1d4f8f" stroke-width="0.9"/>
<circle cx="54.09" cy="311.02" r="1.45" fill="none" stroke="#1d4f8f" stroke-width="0.9"/>
<circle cx="55.65" cy="310.35" r="1.45" fill="none" stroke="#1d4f8f" stroke-width="0.9"/>
<circle cx="53.93" cy="309.73" r="1.45" fill="none" stroke="#1d4f8f" stroke-width="0.9"/>
<circle cx="54.31" cy="308.62" r="1.45" fill="none" stroke="#1d4f8f" stroke-width="0.9"/>
<circle cx="54.54" cy="308.24" r="1.45" fill="none" stroke="#1d4f8f" stroke-width="0.9"/>
<circle cx="54.71" cy="307.26" r="1.45" fill="none" stroke="#1d4f8f" stroke-width="0.9"/>
<circle cx="54.26" cy="306.62" r="1.45" fill="none" stroke="#1d4f8f" stroke-width="0.9"/>
<circle cx="54.53" cy="306.00" r="1.45" fill="none" stroke="#1d4f8f" stroke-width="0.9"/>
<circle cx="54.61" cy="305.54" r="1.45" fill="none" stroke="#1d4f8f" stroke-width="0.9"/>
<circle cx="52.99" cy="304.62" r="1.45" fill="none" stroke="#1d4f8f" stroke-width="0.9"/>
<circle cx="56.17" cy="304.03" r="1.45" fill="none" stroke="#1d4f8f" stroke-width="0.9"/>
<circle cx="52.98" cy="303.27" r="1.45" fill="none" stroke="#1d4f8f" stroke-width="0.9"/>
<circle cx="54.92" cy="302.34" r="1.45" fill="none" stroke="#1d4f8f" stroke-width="0.9"/>
<circle cx="55.01" cy="302.08" r="1.45" fill="none" stroke="#1d4f8f" stroke-width="0.9"/>
<circle cx="54.35" cy="301.25" r="1.45" fill="none" stroke="#1d4f8f" stroke-width="0.9"/>
<circle cx="53.54" cy="300.67" r="1.45" fill="none" stroke="#1d4f8f" stroke-width="0.9"/>
<circle cx="52.95" cy="300.32" r="1.45" fill="none" stroke="#1d4f8f" stroke-width="0.9"/>
<circle cx="54.19" cy="299.67" r="1.45" fill="none" stroke="#1d4f8f" stroke-width="0.9"/>
<circle cx="53.90" cy="299.26" r="1.45" fill="none" stroke="#1d4f8f" stroke-width="0.9"/>
<circle cx="54.72" cy="298.37" r="1.45" fill="none" stroke="#1d4f8f" stroke-width="0.9"/>
<circle cx="53.42" cy="298.16" r="1.45" fill="none" stroke="#1d4f8f" stroke-width="0.9"/>
<circle cx="56.10" cy="297.59" r="1.45" fill="none" stroke="#1d4f8f" stroke-width="0.9"/>
<circle cx="54.73" cy="297.13" r="1.45" fill="none" stroke="#1d4f8f" stroke-width="0.9"/>
<circle cx="52.14" cy="296.45" r="1.45" fill="none" stroke="#1d4f8f" stroke-width="0.9"/>
<circle cx="54.28" cy="295.98" r="1.45" fill="none" stroke="#1d4f8f" stroke-width="0.9"/>
<circle cx="57.40" cy="295.63" r="1.45" fill="none" stroke="#1d4f8f" stroke-width="0.9"/>
<circle cx="52.00" cy="295.20" r="1.45" fill="none" stroke="#1d4f8f" stroke-width="0.9"/>
<circle cx="55.33" cy="294.94" r="1.45" fill="none" stroke="#1d4f8f" stroke-width="0.9"/>
<circle cx="57.51" cy="294.20" r="1.45" fill="none" stroke="#1d4f8f" stroke-width="0.9"/>
<circle cx="54.01" cy="294.08" r="1.45" fill="none" stroke="#1d4f8f" stroke-width="0.9"/>
<circle cx="55.39" cy="293.56" r="1.45" fill="none" stroke="#1d4f8f" stroke-width="0.9"/>
<circle cx="54.00" cy="293.15" r="1.45" fill="none" stroke="#1d4f8f" stroke-width="0.9"/>
<circle cx="53.56" cy="292.63" r="1.45" fill="none" stroke="#1d4f8f" stroke-width="0.9"/>
<circle cx="55.49" cy="292.25" r="1.45" fill="none" stroke="#1d4f8f" stroke-width="0.9"/>
<circle cx="55.37" cy="291.98" r="1.45" fill="none" stroke="#1d4f8f" stroke-width="0.9"/>
<circle cx="53.60" cy="291.41" r="1.45" fill="none" stroke="#1d4f8f" stroke-width="0.9"/>
<circle cx="54.78" cy="291.03" r="1.45" fill="none" stroke="#1d4f8f" stroke-width="0.9"/>
<circle cx="54.91" cy="290.96" r="1.45" fill="none" stroke="#1d4f8f" stroke-width="0.9"/>
<circle cx="56.50" cy="290.40" r="1.45" fill="none" stroke="#1d4f8f" stroke-width="0.9"/>
<circle cx="51.77" cy="290.10" r="1.45" fill="none" stroke="#1d4f8f" stroke-width="0.9"/>
<circle cx="52.01" cy="289.78" r="1.45" fill="none" stroke="#1d4f8f" stroke-width="0.9"/>
<circle cx="53.08" cy="289.40" r="1.45" fill="none" stroke="#1d4f8f" stroke-width="0.9"/>
<circle cx="53.19" cy="289.10" r="1.45" fill="none" stroke="#1d4f8f" stroke-width="0.9"/>
<circle cx="56.89" cy="288.66" r="1.45" fill="none" stroke="#1d4f8f" stroke-width="0.9"/>
<circle cx="54.27" cy="288.34" r="1.45" fill="none" stroke="#1d4f8f" stroke-width="0.9"/>
<circle cx="57.39" cy="287.90" r="1.45" fill="none" stroke="#1d4f8f" stroke-width="0.9"/>
<circle cx="54.09" cy="287.57" r="1.45" fill="none" stroke="#1d4f8f" stroke-width="0.9"/>
<circle cx="53.24" cy="287.24" r="1.45" fill="none" stroke="#1d4f8f" stroke-width="0.9"/>
<circle cx="56.11" cy="287.09" r="1.45" fill="none" stroke="#1d4f8f" stroke-width="0.9"/>
<circle cx="51.75" cy="286.65" r="1.45" fill="none" stroke="#1d4f8f" stroke-width="0.9"/>
<circle cx="58.38" cy="286.38" r="1.45" fill="none" stroke="#1d4f8f" stroke-width="0.9"/>
<circle cx="57.26" cy="286.05" r="1.45" fill="none" stroke="#1d4f8f" stroke-width="0.9"/>
<circle cx="53.52" cy="285.65" r="1.45" fill="none" stroke="#1d4f8f" stroke-width="0.9"/>
<circle cx="53.44" cy="285.60" r="1.45" fill="none" stroke="#1d4f8f" stroke-width="0.9"/>
<circle cx="57.18" cy="285.17" r="1.45" fill="none" stroke="#1d4f8f" stroke-width="0.9"/>
<circle cx="56.97" cy="284.87" r="1.45" fill="none" stroke="#1d4f8f" stroke-width="0.9"/>
<circle cx="55.91" cy="284.50" r="1.45" fill="none" stroke="#1d4f8f" stroke-width="0.9"/>
<circle cx="51.29" cy="284.32" r="1.45" fill="none" stroke="#1d4f8f" stroke-width="0.9"/>
<circle cx="56.98" cy="283.84" r="1.45" fill="none" stroke="#1d4f8f" stroke-width="0.9"/>
<circle cx="51.03" cy="283.76" r="1.45" fill="none" stroke="#1d4f8f" stroke-width="0.9"/>
<circle cx="55.87" cy="283.45" r="1.45" fill="none" stroke="#1d4f8f" stroke-width="0.9"/>
<circle cx="55.25" cy="283.24" r="1.45" fill="none" stroke="#1d4f8f" stroke-width="0.9"/>
<circle cx="58.61" cy="282.93" r="1.45" fill="none" stroke="#1d4f8f" stroke-width="0.9"/>
<circle cx="56.06" cy="282.60" r="1.45" fill="none" stroke="#1d4f8f" stroke-width="0.9"/>
<circle cx="50.42" cy="282.50" r="1.45" fill="none" stroke="#1d4f8f" stroke-width="0.9"/>
<circle cx="58.84" cy="282.24" r="1.45" fill="none" stroke="#1d4f8f" stroke-width="0.9"/>
<circle cx="57.19" cy="281.90" r="1.45" fill="none" stroke="#1d4f8f" stroke-width="0.9"/>
<circle cx="55.56" cy="281.68" r="1.45" fill="none" stroke="#1d4f8f" stroke-width="0.9"/>
<circle cx="50.07" cy="281.42" r="1.45" fill="none" stroke="#1d4f8f" stroke-width="0.9"/>
<circle cx="57.07" cy="281.29" r="1.45" fill="none" stroke="#1d4f8f" stroke-width="0.9"/>
<circle cx="54.02" cy="280.95" r="1.45" fill="none" stroke="#1d4f8f" stroke-width="0.9"/>
<circle cx="56.52" cy="280.73" r="1.45" fill="none" stroke="#1d4f8f" stroke-width="0.9"/>
<circle cx="59.41" cy="280.49" r="1.45" fill="none" stroke="#1d4f8f" stroke-width="0.9"/>
<circle cx="58.76" cy="280.40" r="1.45" fill="none" stroke="#1d4f8f" stroke-width="0.9"/>
<circle cx="50.81" cy="280.09" r="1.45" fill="none" stroke="#1d4f8f" stroke-width="0.9"/>
<circle cx="57.43" cy="279.95" r="1.45" fill="none" stroke="#1d4f8f" stroke-width="0.9"/>
<circle cx="54.26" cy="279.53" r="1.45" fill="none" stroke="#1d4f8f" stroke-width="0.9"/>
<circle cx="57.05" cy="279.26" r="1.45" fill="none" stroke="#1d4f8f" stroke-width="0.9"/>
<circle cx="53.73" cy="279.02" r="1.45" fill="none" stroke="#1d4f8f" stroke-width="0.9"/>
<circle cx="54.34" cy="278.96" r="1.45" fill="none" stroke="#1d4f8f" stroke-width="0.9"/>
<circle cx="54.26" cy="278.62" r="1.45" fill="none" stroke="#1d4f8f" stroke-width="0.9"/>
<circle cx="51.64" cy="278.31" r="1.45" fill="none" stroke="#1d4f8f" stroke-width="0.9"/>
<circle cx="53.34" cy="278.03" r="1.45" fill="none" stroke="#1d4f8f" stroke-width="0.9"/>
<circle cx="56.67" cy="277.85" r="1.45" fill="none" stroke="#1d4f8f" stroke-width="0.9"/>
<circle cx="51.54" cy="277.37" r="1.45" fill="none" stroke="#1d4f8f" stroke-width="0.9"/>
<circle cx="51.92" cy="277.20" r="1.45" fill="none" stroke="#1d4f8f" stroke-width="0.9"/>
<circle cx="57.22" cy="276.82" r="1.45" fill="none" stroke="#1d4f8f" stroke-width="0.9"/>
<circle cx="55.98" cy="276.60" r="1.45" fill="none" stroke="#1d4f8f" stroke-width="0.9"/>
<circle cx="55.13" cy="276.12" r="1.45" fill="none" stroke="#1d4f8f" stroke-width="0.9"/>
<circle cx="52.21" cy="275.91" r="1.45" fill="none" stroke="#1d4f8f" stroke-width="0.9"/>
<circle cx="52.32" cy="275.55" r="1.45" fill="none" stroke="#1d4f8f" stroke-width="0.9"/>
<circle cx="53.61" cy="275.02" r="1.45" fill="none" stroke="#1d4f8f" stroke-width="0.9"/>
<circle cx="57.57" cy="274.70" r="1.45" fill="none" stroke="#1d4f8f" stroke-width="0.9"/>
<circle cx="55.15" cy="274.11" r="1.45" fill="none" stroke="#1d4f8f" stroke-width="0.9"/>
<circle cx="57.24" cy="273.89" r="1.45" fill="none" stroke="#1d4f8f" stroke-width="0.9"/>
<circle cx="53.18" cy="273.38" r="1.45" fill="none" stroke="#1d4f8f" stroke-width="0.9"/>
<circle cx="54.33" cy="273.07" r="1.45" fill="none" stroke="#1d4f8f" stroke-width="0.9"/>
<circle cx="54.99" cy="272.53" r="1.45" fill="none" stroke="#1d4f8f" stroke-width="0.9"/>
<circle cx="56.54" cy="271.93" r="1.45" fill="none" stroke="#1d4f8f" stroke-width="0.9"/>
<circle cx="52.93" cy="271.37" r="1.45" fill="none" stroke="#1d4f8f" stroke-width="0.9"/>
<circle cx="56.61" cy="270.89" r="1.45" fill="none" stroke="#1d4f8f" stroke-width="0.9"/>
<circle cx="54.67" cy="270.14" r="1.45" fill="none" stroke="#1d4f8f" stroke-width="0.9"/>
<circle cx="52.64" cy="269.95" r="1.45" fill="none" stroke="#1d4f8f" stroke-width="0.9"/>
<circle cx="54.50" cy="268.96" r="1.45" fill="none" stroke="#1d4f8f" stroke-width="0.9"/>
<circle cx="54.27" cy="268.74" r="1.45" fill="none" stroke="#1d4f8f" stroke-width="0.9"/>
<circle cx="55.52" cy="267.63" r="1.45" fill="none" stroke="#1d4f8f" stroke-width="0.9"/>
<circle cx="56.55" cy="267.24" r="1.45" fill="none" stroke="#1d4f8f" stroke-width="0.9"/>
<circle cx="54.77" cy="266.63" r="1.45" fill="none" stroke="#1d4f8f" stroke-width="0.9"/>
<circle cx="55.53" cy="265.80" r="1.45" fill="none" stroke="#1d4f8f" stroke-width="0.9"/>
<circle cx="54.38" cy="264.90" r="1.45" fill="none" stroke="#1d4f8f" stroke-width="0.9"/>
<circle cx="55.81" cy="264.06" r="1.45" fill="none" stroke="#1d4f8f" stroke-width="0.9"/>
<circle cx="53.43" cy="263.66" r="1.45" fill="none" stroke="#1d4f8f" stroke-width="0.9"/>
<circle cx="55.60" cy="263.13" r="1.45" fill="none" stroke="#1d4f8f" stroke-width="0.9"/>
<circle cx="53.78" cy="262.10" r="1.45" fill="none" stroke="#1d4f8f" stroke-width="0.9"/>
<circle cx="55.04" cy="260.48" r="1.45" fill="none" stroke="#1d4f8f" stroke-width="0.9"/>
<circle cx="54.00" cy="259.46" r="1.45" fill="none" stroke="#1d4f8f" stroke-width="0.9"/>
<circle cx="54.40" cy="258.33" r="1.45" fill="none" stroke="#1d4f8f" stroke-width="0.9"/>
<circle cx="53.95" cy="257.73" r="1.45" fill="none" stroke="#1d4f8f" stroke-width="0.9"/>
<circle cx="54.44" cy="256.05" r="1.45" fill="none" stroke="#1d4f8f" stroke-width="0.9"/>
<circle cx="55.02" cy="255.35" r="1.45" fill="none" stroke="#1d4f8f" stroke-width="0.9"/>
<circle cx="54.85" cy="253.92" r="1.45" fill="none" stroke="#1d4f8f" stroke-width="0.9"/>
<circle cx="54.55" cy="252.31" r="1.45" fill="none" stroke="#1d4f8f" stroke-width="0.9"/>
<circle cx="54.96" cy="250.04" r="1.45" fill="none" stroke="#1d4f8f" stroke-width="0.9"/>
<circle cx="55.55" cy="249.01" r="1.45" fill="none" stroke="#1d4f8f" stroke-width="0.9"/>
<circle cx="54.49" cy="247.28" r="1.45" fill="none" stroke="#1d4f8f" stroke-width="0.9"/>
<circle cx="54.88" cy="247.00" r="1.45" fill="none" stroke="#1d4f8f" stroke-width="0.9"/>
<circle cx="54.78" cy="325.00" r="1.45" fill="none" stroke="#1d4f8f" stroke-width="0.9"/>
<circle cx="55.10" cy="337.30" r="1.45" fill="none" stroke="#1d4f8f" stroke-width="0.9"/>
<circle cx="51.50" cy="343.40" r="1.45" fill="none" stroke="#1d4f8f" stroke-width="0.9"/>
<line x1="76.00" y1="242.70" x2="76.00" y2="310.20" stroke="#c8102e" stroke-width="0.9" />
<rect x="69.50" y="261.90" width="13.00" height="20.90" fill="#f3a29c" stroke="#eb8a88" stroke-width="0.6" />
<line x1="69.50" y1="274.00" x2="82.50" y2="274.00" stroke="#8a0a1c" stroke-width="1.6" />
<circle cx="75.75" cy="305.40" r="1.45" fill="none" stroke="#c8102e" stroke-width="0.9"/>
<circle cx="75.48" cy="303.35" r="1.45" fill="none" stroke="#c8102e" stroke-width="0.9"/>
<circle cx="76.73" cy="297.09" r="1.45" fill="none" stroke="#c8102e" stroke-width="0.9"/>
<circle cx="76.45" cy="294.57" r="1.45" fill="none" stroke="#c8102e" stroke-width="0.9"/>
<circle cx="76.58" cy="290.52" r="1.45" fill="none" stroke="#c8102e" stroke-width="0.9"/>
<circle cx="75.06" cy="285.87" r="1.45" fill="none" stroke="#c8102e" stroke-width="0.9"/>
<circle cx="76.81" cy="283.69" r="1.45" fill="none" stroke="#c8102e" stroke-width="0.9"/>
<circle cx="75.05" cy="282.28" r="1.45" fill="none" stroke="#c8102e" stroke-width="0.9"/>
<circle cx="74.83" cy="280.93" r="1.45" fill="none" stroke="#c8102e" stroke-width="0.9"/>
<circle cx="76.17" cy="278.77" r="1.45" fill="none" stroke="#c8102e" stroke-width="0.9"/>
<circle cx="76.57" cy="278.12" r="1.45" fill="none" stroke="#c8102e" stroke-width="0.9"/>
<circle cx="74.03" cy="276.77" r="1.45" fill="none" stroke="#c8102e" stroke-width="0.9"/>
<circle cx="77.30" cy="275.97" r="1.45" fill="none" stroke="#c8102e" stroke-width="0.9"/>
<circle cx="76.35" cy="274.55" r="1.45" fill="none" stroke="#c8102e" stroke-width="0.9"/>
<circle cx="77.57" cy="273.19" r="1.45" fill="none" stroke="#c8102e" stroke-width="0.9"/>
<circle cx="77.59" cy="271.09" r="1.45" fill="none" stroke="#c8102e" stroke-width="0.9"/>
<circle cx="76.68" cy="269.59" r="1.45" fill="none" stroke="#c8102e" stroke-width="0.9"/>
<circle cx="75.52" cy="268.60" r="1.45" fill="none" stroke="#c8102e" stroke-width="0.9"/>
<circle cx="77.52" cy="266.80" r="1.45" fill="none" stroke="#c8102e" stroke-width="0.9"/>
<circle cx="76.71" cy="265.39" r="1.45" fill="none" stroke="#c8102e" stroke-width="0.9"/>
<circle cx="75.37" cy="262.47" r="1.45" fill="none" stroke="#c8102e" stroke-width="0.9"/>
<circle cx="77.04" cy="261.60" r="1.45" fill="none" stroke="#c8102e" stroke-width="0.9"/>
<circle cx="76.61" cy="258.91" r="1.45" fill="none" stroke="#c8102e" stroke-width="0.9"/>
<circle cx="75.42" cy="255.15" r="1.45" fill="none" stroke="#c8102e" stroke-width="0.9"/>
<circle cx="75.39" cy="254.43" r="1.45" fill="none" stroke="#c8102e" stroke-width="0.9"/>
<circle cx="74.91" cy="249.91" r="1.45" fill="none" stroke="#c8102e" stroke-width="0.9"/>
<circle cx="76.08" cy="247.25" r="1.45" fill="none" stroke="#c8102e" stroke-width="0.9"/>
<circle cx="75.48" cy="244.16" r="1.45" fill="none" stroke="#c8102e" stroke-width="0.9"/>
<circle cx="75.79" cy="242.70" r="1.45" fill="none" stroke="#c8102e" stroke-width="0.9"/>
<circle cx="75.75" cy="310.20" r="1.45" fill="none" stroke="#c8102e" stroke-width="0.9"/>
<line x1="84.6" y1="340.8" x2="84.6" y2="344.2" stroke="#c8102e" stroke-width="0.9"/>
<line x1="148.60" y1="233.30" x2="148.60" y2="348.30" stroke="#1a1a1a" stroke-width="1.25" />
<line x1="145.60" y1="246.40" x2="148.60" y2="246.40" stroke="#222" stroke-width="1.0" />
<text x="139.40" y="249.30" font-size="7.6" text-anchor="end" font-weight="normal" fill="#2a2a2a" stroke="#2a2a2a" stroke-width="0.18" style="">10</text>
<text x="140.00" y="245.90" font-size="4.5" text-anchor="start" font-weight="normal" fill="#2a2a2a" stroke="#2a2a2a" stroke-width="0.1" style="">6</text>
<line x1="145.60" y1="266.70" x2="148.60" y2="266.70" stroke="#222" stroke-width="1.0" />
<text x="139.40" y="269.60" font-size="7.6" text-anchor="end" font-weight="normal" fill="#2a2a2a" stroke="#2a2a2a" stroke-width="0.18" style="">10</text>
<text x="140.00" y="266.20" font-size="4.5" text-anchor="start" font-weight="normal" fill="#2a2a2a" stroke="#2a2a2a" stroke-width="0.1" style="">5</text>
<line x1="145.60" y1="287.00" x2="148.60" y2="287.00" stroke="#222" stroke-width="1.0" />
<text x="139.40" y="289.90" font-size="7.6" text-anchor="end" font-weight="normal" fill="#2a2a2a" stroke="#2a2a2a" stroke-width="0.18" style="">10</text>
<text x="140.00" y="286.50" font-size="4.5" text-anchor="start" font-weight="normal" fill="#2a2a2a" stroke="#2a2a2a" stroke-width="0.1" style="">4</text>
<line x1="145.60" y1="307.90" x2="148.60" y2="307.90" stroke="#222" stroke-width="1.0" />
<text x="139.40" y="310.80" font-size="7.6" text-anchor="end" font-weight="normal" fill="#2a2a2a" stroke="#2a2a2a" stroke-width="0.18" style="">10</text>
<text x="140.00" y="307.40" font-size="4.5" text-anchor="start" font-weight="normal" fill="#2a2a2a" stroke="#2a2a2a" stroke-width="0.1" style="">3</text>
<line x1="145.60" y1="328.50" x2="148.60" y2="328.50" stroke="#222" stroke-width="1.0" />
<text x="139.40" y="331.40" font-size="7.6" text-anchor="end" font-weight="normal" fill="#2a2a2a" stroke="#2a2a2a" stroke-width="0.18" style="">10</text>
<text x="140.00" y="328.00" font-size="4.5" text-anchor="start" font-weight="normal" fill="#2a2a2a" stroke="#2a2a2a" stroke-width="0.1" style="">2</text>
<line x1="148.00" y1="348.30" x2="190.60" y2="348.30" stroke="#1a1a1a" stroke-width="1.15" />
<line x1="159.80" y1="348.30" x2="159.80" y2="351.10" stroke="#333" stroke-width="0.9" />
<line x1="180.40" y1="348.30" x2="180.40" y2="351.10" stroke="#333" stroke-width="0.9" />
<g transform="translate(121.50,290.80) rotate(-90) scale(0.73,1)"><text x="0" y="2.92" font-size="8.1" font-weight="normal" text-anchor="middle" fill="#222" stroke="#222" stroke-width="0.35">Spread</text></g>
<path d="M159.30,241.70V238.80H179.80V241.70" fill="none" stroke="#5a5a5a" stroke-width="0.9"/>
<text x="169.55" y="236.70" font-size="7.9" text-anchor="middle" font-weight="normal" fill="#2a2a2a" stroke="#2a2a2a" stroke-width="0.18" style="">&lt;0.001</text>
<line x1="159.80" y1="248.50" x2="159.80" y2="341.40" stroke="#1d4f8f" stroke-width="0.9" />
<rect x="153.70" y="289.20" width="12.20" height="31.30" fill="#9aaed8" stroke="#5a6fb0" stroke-width="0.6" />
<line x1="153.70" y1="307.10" x2="165.90" y2="307.10" stroke="#163f78" stroke-width="1.6" />
<circle cx="159.59" cy="341.26" r="1.45" fill="none" stroke="#1d4f8f" stroke-width="0.9"/>
<circle cx="158.58" cy="340.13" r="1.45" fill="none" stroke="#1d4f8f" stroke-width="0.9"/>
<circle cx="161.57" cy="339.45" r="1.45" fill="none" stroke="#1d4f8f" stroke-width="0.9"/>
<circle cx="158.29" cy="338.61" r="1.45" fill="none" stroke="#1d4f8f" stroke-width="0.9"/>
<circle cx="158.16" cy="337.78" r="1.45" fill="none" stroke="#1d4f8f" stroke-width="0.9"/>
<circle cx="158.63" cy="336.79" r="1.45" fill="none" stroke="#1d4f8f" stroke-width="0.9"/>
<circle cx="159.70" cy="335.72" r="1.45" fill="none" stroke="#1d4f8f" stroke-width="0.9"/>
<circle cx="161.16" cy="335.43" r="1.45" fill="none" stroke="#1d4f8f" stroke-width="0.9"/>
<circle cx="158.99" cy="334.13" r="1.45" fill="none" stroke="#1d4f8f" stroke-width="0.9"/>
<circle cx="158.51" cy="333.36" r="1.45" fill="none" stroke="#1d4f8f" stroke-width="0.9"/>
<circle cx="160.56" cy="332.75" r="1.45" fill="none" stroke="#1d4f8f" stroke-width="0.9"/>
<circle cx="158.60" cy="332.03" r="1.45" fill="none" stroke="#1d4f8f" stroke-width="0.9"/>
<circle cx="159.92" cy="331.15" r="1.45" fill="none" stroke="#1d4f8f" stroke-width="0.9"/>
<circle cx="158.55" cy="330.53" r="1.45" fill="none" stroke="#1d4f8f" stroke-width="0.9"/>
<circle cx="161.75" cy="329.71" r="1.45" fill="none" stroke="#1d4f8f" stroke-width="0.9"/>
<circle cx="158.15" cy="328.82" r="1.45" fill="none" stroke="#1d4f8f" stroke-width="0.9"/>
<circle cx="158.38" cy="328.20" r="1.45" fill="none" stroke="#1d4f8f" stroke-width="0.9"/>
<circle cx="158.74" cy="327.82" r="1.45" fill="none" stroke="#1d4f8f" stroke-width="0.9"/>
<circle cx="158.88" cy="327.25" r="1.45" fill="none" stroke="#1d4f8f" stroke-width="0.9"/>
<circle cx="161.05" cy="326.02" r="1.45" fill="none" stroke="#1d4f8f" stroke-width="0.9"/>
<circle cx="160.77" cy="325.69" r="1.45" fill="none" stroke="#1d4f8f" stroke-width="0.9"/>
<circle cx="161.44" cy="324.78" r="1.45" fill="none" stroke="#1d4f8f" stroke-width="0.9"/>
<circle cx="160.03" cy="324.45" r="1.45" fill="none" stroke="#1d4f8f" stroke-width="0.9"/>
<circle cx="157.36" cy="323.68" r="1.45" fill="none" stroke="#1d4f8f" stroke-width="0.9"/>
<circle cx="161.35" cy="323.10" r="1.45" fill="none" stroke="#1d4f8f" stroke-width="0.9"/>
<circle cx="158.27" cy="322.29" r="1.45" fill="none" stroke="#1d4f8f" stroke-width="0.9"/>
<circle cx="158.07" cy="321.57" r="1.45" fill="none" stroke="#1d4f8f" stroke-width="0.9"/>
<circle cx="159.27" cy="321.22" r="1.45" fill="none" stroke="#1d4f8f" stroke-width="0.9"/>
<circle cx="162.89" cy="320.61" r="1.45" fill="none" stroke="#1d4f8f" stroke-width="0.9"/>
<circle cx="158.97" cy="320.15" r="1.45" fill="none" stroke="#1d4f8f" stroke-width="0.9"/>
<circle cx="158.86" cy="319.66" r="1.45" fill="none" stroke="#1d4f8f" stroke-width="0.9"/>
<circle cx="162.61" cy="318.80" r="1.45" fill="none" stroke="#1d4f8f" stroke-width="0.9"/>
<circle cx="163.18" cy="318.67" r="1.45" fill="none" stroke="#1d4f8f" stroke-width="0.9"/>
<circle cx="158.99" cy="317.80" r="1.45" fill="none" stroke="#1d4f8f" stroke-width="0.9"/>
<circle cx="157.16" cy="317.44" r="1.45" fill="none" stroke="#1d4f8f" stroke-width="0.9"/>
<circle cx="161.92" cy="317.21" r="1.45" fill="none" stroke="#1d4f8f" stroke-width="0.9"/>
<circle cx="161.93" cy="316.40" r="1.45" fill="none" stroke="#1d4f8f" stroke-width="0.9"/>
<circle cx="158.57" cy="316.28" r="1.45" fill="none" stroke="#1d4f8f" stroke-width="0.9"/>
<circle cx="162.04" cy="315.64" r="1.45" fill="none" stroke="#1d4f8f" stroke-width="0.9"/>
<circle cx="158.86" cy="315.38" r="1.45" fill="none" stroke="#1d4f8f" stroke-width="0.9"/>
<circle cx="158.12" cy="314.61" r="1.45" fill="none" stroke="#1d4f8f" stroke-width="0.9"/>
<circle cx="160.54" cy="314.44" r="1.45" fill="none" stroke="#1d4f8f" stroke-width="0.9"/>
<circle cx="161.73" cy="313.80" r="1.45" fill="none" stroke="#1d4f8f" stroke-width="0.9"/>
<circle cx="159.61" cy="313.68" r="1.45" fill="none" stroke="#1d4f8f" stroke-width="0.9"/>
<circle cx="162.35" cy="313.03" r="1.45" fill="none" stroke="#1d4f8f" stroke-width="0.9"/>
<circle cx="155.91" cy="312.83" r="1.45" fill="none" stroke="#1d4f8f" stroke-width="0.9"/>
<circle cx="159.79" cy="312.42" r="1.45" fill="none" stroke="#1d4f8f" stroke-width="0.9"/>
<circle cx="158.86" cy="311.79" r="1.45" fill="none" stroke="#1d4f8f" stroke-width="0.9"/>
<circle cx="156.41" cy="311.19" r="1.45" fill="none" stroke="#1d4f8f" stroke-width="0.9"/>
<circle cx="163.00" cy="310.87" r="1.45" fill="none" stroke="#1d4f8f" stroke-width="0.9"/>
<circle cx="157.09" cy="310.36" r="1.45" fill="none" stroke="#1d4f8f" stroke-width="0.9"/>
<circle cx="157.59" cy="309.93" r="1.45" fill="none" stroke="#1d4f8f" stroke-width="0.9"/>
<circle cx="162.60" cy="309.58" r="1.45" fill="none" stroke="#1d4f8f" stroke-width="0.9"/>
<circle cx="163.17" cy="309.29" r="1.45" fill="none" stroke="#1d4f8f" stroke-width="0.9"/>
<circle cx="162.87" cy="308.62" r="1.45" fill="none" stroke="#1d4f8f" stroke-width="0.9"/>
<circle cx="158.69" cy="308.28" r="1.45" fill="none" stroke="#1d4f8f" stroke-width="0.9"/>
<circle cx="162.73" cy="307.61" r="1.45" fill="none" stroke="#1d4f8f" stroke-width="0.9"/>
<circle cx="157.41" cy="307.17" r="1.45" fill="none" stroke="#1d4f8f" stroke-width="0.9"/>
<circle cx="161.24" cy="306.57" r="1.45" fill="none" stroke="#1d4f8f" stroke-width="0.9"/>
<circle cx="162.79" cy="306.18" r="1.45" fill="none" stroke="#1d4f8f" stroke-width="0.9"/>
<circle cx="157.73" cy="305.42" r="1.45" fill="none" stroke="#1d4f8f" stroke-width="0.9"/>
<circle cx="157.34" cy="305.03" r="1.45" fill="none" stroke="#1d4f8f" stroke-width="0.9"/>
<circle cx="161.00" cy="304.47" r="1.45" fill="none" stroke="#1d4f8f" stroke-width="0.9"/>
<circle cx="162.37" cy="304.14" r="1.45" fill="none" stroke="#1d4f8f" stroke-width="0.9"/>
<circle cx="161.32" cy="303.42" r="1.45" fill="none" stroke="#1d4f8f" stroke-width="0.9"/>
<circle cx="162.79" cy="302.85" r="1.45" fill="none" stroke="#1d4f8f" stroke-width="0.9"/>
<circle cx="159.50" cy="302.12" r="1.45" fill="none" stroke="#1d4f8f" stroke-width="0.9"/>
<circle cx="158.97" cy="301.77" r="1.45" fill="none" stroke="#1d4f8f" stroke-width="0.9"/>
<circle cx="157.33" cy="301.44" r="1.45" fill="none" stroke="#1d4f8f" stroke-width="0.9"/>
<circle cx="158.34" cy="300.80" r="1.45" fill="none" stroke="#1d4f8f" stroke-width="0.9"/>
<circle cx="162.58" cy="300.22" r="1.45" fill="none" stroke="#1d4f8f" stroke-width="0.9"/>
<circle cx="157.14" cy="299.45" r="1.45" fill="none" stroke="#1d4f8f" stroke-width="0.9"/>
<circle cx="157.88" cy="298.74" r="1.45" fill="none" stroke="#1d4f8f" stroke-width="0.9"/>
<circle cx="158.89" cy="298.12" r="1.45" fill="none" stroke="#1d4f8f" stroke-width="0.9"/>
<circle cx="157.16" cy="297.51" r="1.45" fill="none" stroke="#1d4f8f" stroke-width="0.9"/>
<circle cx="158.69" cy="296.90" r="1.45" fill="none" stroke="#1d4f8f" stroke-width="0.9"/>
<circle cx="158.01" cy="296.29" r="1.45" fill="none" stroke="#1d4f8f" stroke-width="0.9"/>
<circle cx="157.72" cy="295.58" r="1.45" fill="none" stroke="#1d4f8f" stroke-width="0.9"/>
<circle cx="159.95" cy="295.46" r="1.45" fill="none" stroke="#1d4f8f" stroke-width="0.9"/>
<circle cx="160.01" cy="294.48" r="1.45" fill="none" stroke="#1d4f8f" stroke-width="0.9"/>
<circle cx="160.15" cy="293.69" r="1.45" fill="none" stroke="#1d4f8f" stroke-width="0.9"/>
<circle cx="161.13" cy="292.89" r="1.45" fill="none" stroke="#1d4f8f" stroke-width="0.9"/>
<circle cx="159.93" cy="292.18" r="1.45" fill="none" stroke="#1d4f8f" stroke-width="0.9"/>
<circle cx="161.96" cy="291.40" r="1.45" fill="none" stroke="#1d4f8f" stroke-width="0.9"/>
<circle cx="157.84" cy="290.35" r="1.45" fill="none" stroke="#1d4f8f" stroke-width="0.9"/>
<circle cx="158.51" cy="290.15" r="1.45" fill="none" stroke="#1d4f8f" stroke-width="0.9"/>
<circle cx="157.91" cy="288.97" r="1.45" fill="none" stroke="#1d4f8f" stroke-width="0.9"/>
<circle cx="159.00" cy="287.69" r="1.45" fill="none" stroke="#1d4f8f" stroke-width="0.9"/>
<circle cx="160.89" cy="287.54" r="1.45" fill="none" stroke="#1d4f8f" stroke-width="0.9"/>
<circle cx="161.50" cy="286.49" r="1.45" fill="none" stroke="#1d4f8f" stroke-width="0.9"/>
<circle cx="159.81" cy="284.74" r="1.45" fill="none" stroke="#1d4f8f" stroke-width="0.9"/>
<circle cx="158.56" cy="283.55" r="1.45" fill="none" stroke="#1d4f8f" stroke-width="0.9"/>
<circle cx="159.18" cy="283.37" r="1.45" fill="none" stroke="#1d4f8f" stroke-width="0.9"/>
<circle cx="160.04" cy="282.21" r="1.45" fill="none" stroke="#1d4f8f" stroke-width="0.9"/>
<circle cx="159.11" cy="280.13" r="1.45" fill="none" stroke="#1d4f8f" stroke-width="0.9"/>
<circle cx="160.77" cy="279.03" r="1.45" fill="none" stroke="#1d4f8f" stroke-width="0.9"/>
<circle cx="161.33" cy="277.94" r="1.45" fill="none" stroke="#1d4f8f" stroke-width="0.9"/>
<circle cx="159.67" cy="276.54" r="1.45" fill="none" stroke="#1d4f8f" stroke-width="0.9"/>
<circle cx="160.12" cy="274.95" r="1.45" fill="none" stroke="#1d4f8f" stroke-width="0.9"/>
<circle cx="160.85" cy="273.48" r="1.45" fill="none" stroke="#1d4f8f" stroke-width="0.9"/>
<circle cx="159.69" cy="273.08" r="1.45" fill="none" stroke="#1d4f8f" stroke-width="0.9"/>
<circle cx="158.89" cy="271.54" r="1.45" fill="none" stroke="#1d4f8f" stroke-width="0.9"/>
<circle cx="161.08" cy="269.07" r="1.45" fill="none" stroke="#1d4f8f" stroke-width="0.9"/>
<circle cx="161.15" cy="267.28" r="1.45" fill="none" stroke="#1d4f8f" stroke-width="0.9"/>
<circle cx="158.47" cy="265.91" r="1.45" fill="none" stroke="#1d4f8f" stroke-width="0.9"/>
<circle cx="160.53" cy="264.93" r="1.45" fill="none" stroke="#1d4f8f" stroke-width="0.9"/>
<circle cx="159.53" cy="263.42" r="1.45" fill="none" stroke="#1d4f8f" stroke-width="0.9"/>
<circle cx="158.59" cy="261.77" r="1.45" fill="none" stroke="#1d4f8f" stroke-width="0.9"/>
<circle cx="158.90" cy="260.60" r="1.45" fill="none" stroke="#1d4f8f" stroke-width="0.9"/>
<circle cx="158.94" cy="257.77" r="1.45" fill="none" stroke="#1d4f8f" stroke-width="0.9"/>
<circle cx="160.42" cy="256.84" r="1.45" fill="none" stroke="#1d4f8f" stroke-width="0.9"/>
<circle cx="159.06" cy="254.60" r="1.45" fill="none" stroke="#1d4f8f" stroke-width="0.9"/>
<circle cx="158.57" cy="252.93" r="1.45" fill="none" stroke="#1d4f8f" stroke-width="0.9"/>
<circle cx="159.09" cy="251.46" r="1.45" fill="none" stroke="#1d4f8f" stroke-width="0.9"/>
<circle cx="160.55" cy="249.12" r="1.45" fill="none" stroke="#1d4f8f" stroke-width="0.9"/>
<circle cx="159.80" cy="248.50" r="1.45" fill="none" stroke="#1d4f8f" stroke-width="0.9"/>
<circle cx="159.95" cy="341.40" r="1.45" fill="none" stroke="#1d4f8f" stroke-width="0.9"/>
<circle cx="157.50" cy="348.00" r="1.45" fill="none" stroke="#1d4f8f" stroke-width="0.9"/>
<circle cx="159.50" cy="348.00" r="1.45" fill="none" stroke="#1d4f8f" stroke-width="0.9"/>
<circle cx="161.50" cy="348.00" r="1.45" fill="none" stroke="#1d4f8f" stroke-width="0.9"/>
<circle cx="163.00" cy="348.00" r="1.45" fill="none" stroke="#1d4f8f" stroke-width="0.9"/>
<line x1="180.40" y1="262.00" x2="180.40" y2="323.40" stroke="#c8102e" stroke-width="0.9" />
<rect x="174.00" y="280.20" width="12.80" height="18.40" fill="#f3a29c" stroke="#eb8a88" stroke-width="0.6" />
<line x1="174.00" y1="290.80" x2="186.80" y2="290.80" stroke="#8a0a1c" stroke-width="1.6" />
<circle cx="180.71" cy="321.19" r="1.45" fill="none" stroke="#c8102e" stroke-width="0.9"/>
<circle cx="180.02" cy="317.77" r="1.45" fill="none" stroke="#c8102e" stroke-width="0.9"/>
<circle cx="180.53" cy="314.05" r="1.45" fill="none" stroke="#c8102e" stroke-width="0.9"/>
<circle cx="179.83" cy="308.98" r="1.45" fill="none" stroke="#c8102e" stroke-width="0.9"/>
<circle cx="181.20" cy="306.22" r="1.45" fill="none" stroke="#c8102e" stroke-width="0.9"/>
<circle cx="179.94" cy="302.49" r="1.45" fill="none" stroke="#c8102e" stroke-width="0.9"/>
<circle cx="179.27" cy="299.32" r="1.45" fill="none" stroke="#c8102e" stroke-width="0.9"/>
<circle cx="181.03" cy="297.98" r="1.45" fill="none" stroke="#c8102e" stroke-width="0.9"/>
<circle cx="179.78" cy="296.46" r="1.45" fill="none" stroke="#c8102e" stroke-width="0.9"/>
<circle cx="180.68" cy="295.20" r="1.45" fill="none" stroke="#c8102e" stroke-width="0.9"/>
<circle cx="180.39" cy="294.49" r="1.45" fill="none" stroke="#c8102e" stroke-width="0.9"/>
<circle cx="182.60" cy="293.55" r="1.45" fill="none" stroke="#c8102e" stroke-width="0.9"/>
<circle cx="180.47" cy="292.13" r="1.45" fill="none" stroke="#c8102e" stroke-width="0.9"/>
<circle cx="179.89" cy="291.33" r="1.45" fill="none" stroke="#c8102e" stroke-width="0.9"/>
<circle cx="178.44" cy="290.25" r="1.45" fill="none" stroke="#c8102e" stroke-width="0.9"/>
<circle cx="180.39" cy="288.79" r="1.45" fill="none" stroke="#c8102e" stroke-width="0.9"/>
<circle cx="179.54" cy="287.53" r="1.45" fill="none" stroke="#c8102e" stroke-width="0.9"/>
<circle cx="180.66" cy="286.27" r="1.45" fill="none" stroke="#c8102e" stroke-width="0.9"/>
<circle cx="180.83" cy="283.94" r="1.45" fill="none" stroke="#c8102e" stroke-width="0.9"/>
<circle cx="180.28" cy="283.30" r="1.45" fill="none" stroke="#c8102e" stroke-width="0.9"/>
<circle cx="179.21" cy="280.41" r="1.45" fill="none" stroke="#c8102e" stroke-width="0.9"/>
<circle cx="180.39" cy="278.56" r="1.45" fill="none" stroke="#c8102e" stroke-width="0.9"/>
<circle cx="180.36" cy="276.29" r="1.45" fill="none" stroke="#c8102e" stroke-width="0.9"/>
<circle cx="180.74" cy="275.46" r="1.45" fill="none" stroke="#c8102e" stroke-width="0.9"/>
<circle cx="181.44" cy="272.15" r="1.45" fill="none" stroke="#c8102e" stroke-width="0.9"/>
<circle cx="179.94" cy="268.22" r="1.45" fill="none" stroke="#c8102e" stroke-width="0.9"/>
<circle cx="180.28" cy="267.13" r="1.45" fill="none" stroke="#c8102e" stroke-width="0.9"/>
<circle cx="179.58" cy="264.46" r="1.45" fill="none" stroke="#c8102e" stroke-width="0.9"/>
<circle cx="180.70" cy="262.00" r="1.45" fill="none" stroke="#c8102e" stroke-width="0.9"/>
<circle cx="180.13" cy="323.40" r="1.45" fill="none" stroke="#c8102e" stroke-width="0.9"/>
<circle cx="181.06" cy="243.20" r="1.45" fill="none" stroke="#c8102e" stroke-width="0.9"/>
<circle cx="181.00" cy="330.00" r="1.45" fill="none" stroke="#c8102e" stroke-width="0.9"/>
<circle cx="179.91" cy="333.50" r="1.45" fill="none" stroke="#c8102e" stroke-width="0.9"/>
<circle cx="180.20" cy="348.00" r="1.45" fill="none" stroke="#c8102e" stroke-width="0.9"/>
<line x1="247.60" y1="233.30" x2="247.60" y2="348.30" stroke="#1a1a1a" stroke-width="1.25" />
<line x1="244.60" y1="240.60" x2="247.60" y2="240.60" stroke="#222" stroke-width="1.0" />
<text x="242.30" y="243.40" font-size="8.0" text-anchor="end" font-weight="normal" fill="#2a2a2a" stroke="#2a2a2a" stroke-width="0.18" style="">20</text>
<line x1="244.60" y1="268.60" x2="247.60" y2="268.60" stroke="#222" stroke-width="1.0" />
<text x="242.30" y="271.40" font-size="8.0" text-anchor="end" font-weight="normal" fill="#2a2a2a" stroke="#2a2a2a" stroke-width="0.18" style="">15</text>
<line x1="244.60" y1="296.30" x2="247.60" y2="296.30" stroke="#222" stroke-width="1.0" />
<text x="242.30" y="299.10" font-size="8.0" text-anchor="end" font-weight="normal" fill="#2a2a2a" stroke="#2a2a2a" stroke-width="0.18" style="">10</text>
<line x1="244.60" y1="324.10" x2="247.60" y2="324.10" stroke="#222" stroke-width="1.0" />
<text x="242.30" y="326.90" font-size="8.0" text-anchor="end" font-weight="normal" fill="#2a2a2a" stroke="#2a2a2a" stroke-width="0.18" style="">5</text>
<line x1="247.00" y1="348.30" x2="289.60" y2="348.30" stroke="#1a1a1a" stroke-width="1.15" />
<line x1="258.20" y1="348.30" x2="258.20" y2="351.10" stroke="#333" stroke-width="0.9" />
<line x1="279.60" y1="348.30" x2="279.60" y2="351.10" stroke="#333" stroke-width="0.9" />
<g transform="translate(224.00,289.90) rotate(-90)"><text transform="scale(0.66,1)" x="-22.71" y="2.92" font-size="8.1" font-weight="normal" fill="#222" stroke="#222" stroke-width="0.45">TLR</text><text transform="scale(0.84,1)" x="-5.82" y="4.82" font-size="5.6" font-weight="normal" fill="#222" stroke="#222" stroke-width="0.32">SUVpeak</text></g>
<path d="M257.80,241.70V238.80H279.40V241.70" fill="none" stroke="#5a5a5a" stroke-width="0.9"/>
<text x="268.60" y="236.70" font-size="7.9" text-anchor="middle" font-weight="normal" fill="#2a2a2a" stroke="#2a2a2a" stroke-width="0.18" style="">0.01</text>
<line x1="258.20" y1="298.30" x2="258.20" y2="343.40" stroke="#1d4f8f" stroke-width="0.9" />
<rect x="252.00" y="319.00" width="12.40" height="18.40" fill="#9aaed8" stroke="#5a6fb0" stroke-width="0.6" />
<line x1="252.00" y1="330.00" x2="264.40" y2="330.00" stroke="#163f78" stroke-width="1.6" />
<circle cx="258.61" cy="343.24" r="1.45" fill="none" stroke="#1d4f8f" stroke-width="0.9"/>
<circle cx="263.15" cy="343.12" r="1.45" fill="none" stroke="#1d4f8f" stroke-width="0.9"/>
<circle cx="258.47" cy="342.95" r="1.45" fill="none" stroke="#1d4f8f" stroke-width="0.9"/>
<circle cx="255.16" cy="342.73" r="1.45" fill="none" stroke="#1d4f8f" stroke-width="0.9"/>
<circle cx="260.78" cy="342.47" r="1.45" fill="none" stroke="#1d4f8f" stroke-width="0.9"/>
<circle cx="253.92" cy="342.36" r="1.45" fill="none" stroke="#1d4f8f" stroke-width="0.9"/>
<circle cx="254.85" cy="342.17" r="1.45" fill="none" stroke="#1d4f8f" stroke-width="0.9"/>
<circle cx="258.69" cy="342.00" r="1.45" fill="none" stroke="#1d4f8f" stroke-width="0.9"/>
<circle cx="256.06" cy="341.71" r="1.45" fill="none" stroke="#1d4f8f" stroke-width="0.9"/>
<circle cx="260.26" cy="341.57" r="1.45" fill="none" stroke="#1d4f8f" stroke-width="0.9"/>
<circle cx="260.32" cy="341.39" r="1.45" fill="none" stroke="#1d4f8f" stroke-width="0.9"/>
<circle cx="256.52" cy="341.22" r="1.45" fill="none" stroke="#1d4f8f" stroke-width="0.9"/>
<circle cx="260.66" cy="341.01" r="1.45" fill="none" stroke="#1d4f8f" stroke-width="0.9"/>
<circle cx="259.55" cy="340.69" r="1.45" fill="none" stroke="#1d4f8f" stroke-width="0.9"/>
<circle cx="260.07" cy="340.48" r="1.45" fill="none" stroke="#1d4f8f" stroke-width="0.9"/>
<circle cx="257.81" cy="340.24" r="1.45" fill="none" stroke="#1d4f8f" stroke-width="0.9"/>
<circle cx="257.59" cy="340.04" r="1.45" fill="none" stroke="#1d4f8f" stroke-width="0.9"/>
<circle cx="254.69" cy="339.87" r="1.45" fill="none" stroke="#1d4f8f" stroke-width="0.9"/>
<circle cx="257.98" cy="339.63" r="1.45" fill="none" stroke="#1d4f8f" stroke-width="0.9"/>
<circle cx="262.21" cy="339.43" r="1.45" fill="none" stroke="#1d4f8f" stroke-width="0.9"/>
<circle cx="261.61" cy="339.19" r="1.45" fill="none" stroke="#1d4f8f" stroke-width="0.9"/>
<circle cx="254.33" cy="338.97" r="1.45" fill="none" stroke="#1d4f8f" stroke-width="0.9"/>
<circle cx="254.47" cy="338.88" r="1.45" fill="none" stroke="#1d4f8f" stroke-width="0.9"/>
<circle cx="256.21" cy="338.53" r="1.45" fill="none" stroke="#1d4f8f" stroke-width="0.9"/>
<circle cx="259.87" cy="338.41" r="1.45" fill="none" stroke="#1d4f8f" stroke-width="0.9"/>
<circle cx="257.67" cy="338.19" r="1.45" fill="none" stroke="#1d4f8f" stroke-width="0.9"/>
<circle cx="255.04" cy="337.83" r="1.45" fill="none" stroke="#1d4f8f" stroke-width="0.9"/>
<circle cx="257.57" cy="337.79" r="1.45" fill="none" stroke="#1d4f8f" stroke-width="0.9"/>
<circle cx="258.82" cy="337.46" r="1.45" fill="none" stroke="#1d4f8f" stroke-width="0.9"/>
<circle cx="260.26" cy="337.26" r="1.45" fill="none" stroke="#1d4f8f" stroke-width="0.9"/>
<circle cx="257.39" cy="336.94" r="1.45" fill="none" stroke="#1d4f8f" stroke-width="0.9"/>
<circle cx="259.45" cy="336.74" r="1.45" fill="none" stroke="#1d4f8f" stroke-width="0.9"/>
<circle cx="259.71" cy="336.45" r="1.45" fill="none" stroke="#1d4f8f" stroke-width="0.9"/>
<circle cx="259.16" cy="336.21" r="1.45" fill="none" stroke="#1d4f8f" stroke-width="0.9"/>
<circle cx="254.44" cy="336.03" r="1.45" fill="none" stroke="#1d4f8f" stroke-width="0.9"/>
<circle cx="259.94" cy="335.92" r="1.45" fill="none" stroke="#1d4f8f" stroke-width="0.9"/>
<circle cx="255.15" cy="335.56" r="1.45" fill="none" stroke="#1d4f8f" stroke-width="0.9"/>
<circle cx="254.55" cy="335.44" r="1.45" fill="none" stroke="#1d4f8f" stroke-width="0.9"/>
<circle cx="257.99" cy="335.01" r="1.45" fill="none" stroke="#1d4f8f" stroke-width="0.9"/>
<circle cx="254.31" cy="334.79" r="1.45" fill="none" stroke="#1d4f8f" stroke-width="0.9"/>
<circle cx="254.77" cy="334.67" r="1.45" fill="none" stroke="#1d4f8f" stroke-width="0.9"/>
<circle cx="257.33" cy="334.45" r="1.45" fill="none" stroke="#1d4f8f" stroke-width="0.9"/>
<circle cx="257.95" cy="334.09" r="1.45" fill="none" stroke="#1d4f8f" stroke-width="0.9"/>
<circle cx="255.12" cy="333.82" r="1.45" fill="none" stroke="#1d4f8f" stroke-width="0.9"/>
<circle cx="261.71" cy="333.52" r="1.45" fill="none" stroke="#1d4f8f" stroke-width="0.9"/>
<circle cx="260.90" cy="333.34" r="1.45" fill="none" stroke="#1d4f8f" stroke-width="0.9"/>
<circle cx="258.10" cy="333.20" r="1.45" fill="none" stroke="#1d4f8f" stroke-width="0.9"/>
<circle cx="258.86" cy="332.79" r="1.45" fill="none" stroke="#1d4f8f" stroke-width="0.9"/>
<circle cx="256.82" cy="332.69" r="1.45" fill="none" stroke="#1d4f8f" stroke-width="0.9"/>
<circle cx="261.75" cy="332.22" r="1.45" fill="none" stroke="#1d4f8f" stroke-width="0.9"/>
<circle cx="255.44" cy="331.97" r="1.45" fill="none" stroke="#1d4f8f" stroke-width="0.9"/>
<circle cx="256.79" cy="331.69" r="1.45" fill="none" stroke="#1d4f8f" stroke-width="0.9"/>
<circle cx="256.22" cy="331.38" r="1.45" fill="none" stroke="#1d4f8f" stroke-width="0.9"/>
<circle cx="260.77" cy="331.17" r="1.45" fill="none" stroke="#1d4f8f" stroke-width="0.9"/>
<circle cx="258.26" cy="330.78" r="1.45" fill="none" stroke="#1d4f8f" stroke-width="0.9"/>
<circle cx="257.59" cy="330.57" r="1.45" fill="none" stroke="#1d4f8f" stroke-width="0.9"/>
<circle cx="257.51" cy="330.31" r="1.45" fill="none" stroke="#1d4f8f" stroke-width="0.9"/>
<circle cx="260.79" cy="330.03" r="1.45" fill="none" stroke="#1d4f8f" stroke-width="0.9"/>
<circle cx="256.60" cy="329.73" r="1.45" fill="none" stroke="#1d4f8f" stroke-width="0.9"/>
<circle cx="260.10" cy="329.51" r="1.45" fill="none" stroke="#1d4f8f" stroke-width="0.9"/>
<circle cx="259.54" cy="329.15" r="1.45" fill="none" stroke="#1d4f8f" stroke-width="0.9"/>
<circle cx="257.88" cy="328.63" r="1.45" fill="none" stroke="#1d4f8f" stroke-width="0.9"/>
<circle cx="257.36" cy="328.47" r="1.45" fill="none" stroke="#1d4f8f" stroke-width="0.9"/>
<circle cx="257.81" cy="328.00" r="1.45" fill="none" stroke="#1d4f8f" stroke-width="0.9"/>
<circle cx="257.92" cy="327.62" r="1.45" fill="none" stroke="#1d4f8f" stroke-width="0.9"/>
<circle cx="257.10" cy="327.29" r="1.45" fill="none" stroke="#1d4f8f" stroke-width="0.9"/>
<circle cx="258.93" cy="326.99" r="1.45" fill="none" stroke="#1d4f8f" stroke-width="0.9"/>
<circle cx="257.68" cy="326.70" r="1.45" fill="none" stroke="#1d4f8f" stroke-width="0.9"/>
<circle cx="257.06" cy="326.35" r="1.45" fill="none" stroke="#1d4f8f" stroke-width="0.9"/>
<circle cx="259.77" cy="326.01" r="1.45" fill="none" stroke="#1d4f8f" stroke-width="0.9"/>
<circle cx="257.95" cy="325.48" r="1.45" fill="none" stroke="#1d4f8f" stroke-width="0.9"/>
<circle cx="258.05" cy="325.08" r="1.45" fill="none" stroke="#1d4f8f" stroke-width="0.9"/>
<circle cx="260.30" cy="324.60" r="1.45" fill="none" stroke="#1d4f8f" stroke-width="0.9"/>
<circle cx="257.95" cy="324.43" r="1.45" fill="none" stroke="#1d4f8f" stroke-width="0.9"/>
<circle cx="257.53" cy="323.82" r="1.45" fill="none" stroke="#1d4f8f" stroke-width="0.9"/>
<circle cx="260.34" cy="323.42" r="1.45" fill="none" stroke="#1d4f8f" stroke-width="0.9"/>
<circle cx="260.75" cy="323.25" r="1.45" fill="none" stroke="#1d4f8f" stroke-width="0.9"/>
<circle cx="259.71" cy="322.59" r="1.45" fill="none" stroke="#1d4f8f" stroke-width="0.9"/>
<circle cx="257.68" cy="322.30" r="1.45" fill="none" stroke="#1d4f8f" stroke-width="0.9"/>
<circle cx="259.09" cy="321.75" r="1.45" fill="none" stroke="#1d4f8f" stroke-width="0.9"/>
<circle cx="259.44" cy="321.40" r="1.45" fill="none" stroke="#1d4f8f" stroke-width="0.9"/>
<circle cx="257.15" cy="321.14" r="1.45" fill="none" stroke="#1d4f8f" stroke-width="0.9"/>
<circle cx="259.34" cy="320.74" r="1.45" fill="none" stroke="#1d4f8f" stroke-width="0.9"/>
<circle cx="260.47" cy="320.21" r="1.45" fill="none" stroke="#1d4f8f" stroke-width="0.9"/>
<circle cx="258.98" cy="319.78" r="1.45" fill="none" stroke="#1d4f8f" stroke-width="0.9"/>
<circle cx="259.04" cy="319.52" r="1.45" fill="none" stroke="#1d4f8f" stroke-width="0.9"/>
<circle cx="257.88" cy="318.74" r="1.45" fill="none" stroke="#1d4f8f" stroke-width="0.9"/>
<circle cx="258.96" cy="318.43" r="1.45" fill="none" stroke="#1d4f8f" stroke-width="0.9"/>
<circle cx="256.83" cy="318.01" r="1.45" fill="none" stroke="#1d4f8f" stroke-width="0.9"/>
<circle cx="259.54" cy="317.46" r="1.45" fill="none" stroke="#1d4f8f" stroke-width="0.9"/>
<circle cx="258.39" cy="317.21" r="1.45" fill="none" stroke="#1d4f8f" stroke-width="0.9"/>
<circle cx="260.55" cy="316.78" r="1.45" fill="none" stroke="#1d4f8f" stroke-width="0.9"/>
<circle cx="257.44" cy="316.16" r="1.45" fill="none" stroke="#1d4f8f" stroke-width="0.9"/>
<circle cx="259.20" cy="315.83" r="1.45" fill="none" stroke="#1d4f8f" stroke-width="0.9"/>
<circle cx="255.96" cy="315.32" r="1.45" fill="none" stroke="#1d4f8f" stroke-width="0.9"/>
<circle cx="257.82" cy="314.94" r="1.45" fill="none" stroke="#1d4f8f" stroke-width="0.9"/>
<circle cx="259.38" cy="314.44" r="1.45" fill="none" stroke="#1d4f8f" stroke-width="0.9"/>
<circle cx="257.17" cy="313.77" r="1.45" fill="none" stroke="#1d4f8f" stroke-width="0.9"/>
<circle cx="258.67" cy="313.13" r="1.45" fill="none" stroke="#1d4f8f" stroke-width="0.9"/>
<circle cx="257.10" cy="312.33" r="1.45" fill="none" stroke="#1d4f8f" stroke-width="0.9"/>
<circle cx="257.81" cy="311.90" r="1.45" fill="none" stroke="#1d4f8f" stroke-width="0.9"/>
<circle cx="260.04" cy="311.39" r="1.45" fill="none" stroke="#1d4f8f" stroke-width="0.9"/>
<circle cx="257.11" cy="310.74" r="1.45" fill="none" stroke="#1d4f8f" stroke-width="0.9"/>
<circle cx="259.63" cy="310.17" r="1.45" fill="none" stroke="#1d4f8f" stroke-width="0.9"/>
<circle cx="256.79" cy="309.28" r="1.45" fill="none" stroke="#1d4f8f" stroke-width="0.9"/>
<circle cx="258.44" cy="308.10" r="1.45" fill="none" stroke="#1d4f8f" stroke-width="0.9"/>
<circle cx="259.12" cy="307.88" r="1.45" fill="none" stroke="#1d4f8f" stroke-width="0.9"/>
<circle cx="259.11" cy="306.70" r="1.45" fill="none" stroke="#1d4f8f" stroke-width="0.9"/>
<circle cx="257.92" cy="305.49" r="1.45" fill="none" stroke="#1d4f8f" stroke-width="0.9"/>
<circle cx="258.42" cy="304.37" r="1.45" fill="none" stroke="#1d4f8f" stroke-width="0.9"/>
<circle cx="258.71" cy="303.49" r="1.45" fill="none" stroke="#1d4f8f" stroke-width="0.9"/>
<circle cx="258.81" cy="302.28" r="1.45" fill="none" stroke="#1d4f8f" stroke-width="0.9"/>
<circle cx="258.76" cy="300.82" r="1.45" fill="none" stroke="#1d4f8f" stroke-width="0.9"/>
<circle cx="258.38" cy="299.67" r="1.45" fill="none" stroke="#1d4f8f" stroke-width="0.9"/>
<circle cx="257.64" cy="299.18" r="1.45" fill="none" stroke="#1d4f8f" stroke-width="0.9"/>
<circle cx="258.41" cy="298.30" r="1.45" fill="none" stroke="#1d4f8f" stroke-width="0.9"/>
<circle cx="258.26" cy="343.40" r="1.45" fill="none" stroke="#1d4f8f" stroke-width="0.9"/>
<circle cx="260.40" cy="242.70" r="1.45" fill="none" stroke="#1d4f8f" stroke-width="0.9"/>
<circle cx="260.00" cy="269.00" r="1.45" fill="none" stroke="#1d4f8f" stroke-width="0.9"/>
<circle cx="258.50" cy="289.00" r="1.45" fill="none" stroke="#1d4f8f" stroke-width="0.9"/>
<circle cx="259.50" cy="290.30" r="1.45" fill="none" stroke="#1d4f8f" stroke-width="0.9"/>
<line x1="279.60" y1="291.90" x2="279.60" y2="339.40" stroke="#c8102e" stroke-width="0.9" />
<rect x="273.70" y="313.70" width="11.80" height="15.80" fill="#f3a29c" stroke="#eb8a88" stroke-width="0.6" />
<line x1="273.70" y1="322.60" x2="285.50" y2="322.60" stroke="#8a0a1c" stroke-width="1.6" />
<circle cx="278.94" cy="338.53" r="1.45" fill="none" stroke="#c8102e" stroke-width="0.9"/>
<circle cx="280.26" cy="336.34" r="1.45" fill="none" stroke="#c8102e" stroke-width="0.9"/>
<circle cx="280.26" cy="335.99" r="1.45" fill="none" stroke="#c8102e" stroke-width="0.9"/>
<circle cx="280.81" cy="333.68" r="1.45" fill="none" stroke="#c8102e" stroke-width="0.9"/>
<circle cx="279.15" cy="332.87" r="1.45" fill="none" stroke="#c8102e" stroke-width="0.9"/>
<circle cx="278.70" cy="331.07" r="1.45" fill="none" stroke="#c8102e" stroke-width="0.9"/>
<circle cx="279.00" cy="329.61" r="1.45" fill="none" stroke="#c8102e" stroke-width="0.9"/>
<circle cx="279.76" cy="329.16" r="1.45" fill="none" stroke="#c8102e" stroke-width="0.9"/>
<circle cx="277.29" cy="327.83" r="1.45" fill="none" stroke="#c8102e" stroke-width="0.9"/>
<circle cx="278.96" cy="326.90" r="1.45" fill="none" stroke="#c8102e" stroke-width="0.9"/>
<circle cx="280.42" cy="326.01" r="1.45" fill="none" stroke="#c8102e" stroke-width="0.9"/>
<circle cx="277.78" cy="325.37" r="1.45" fill="none" stroke="#c8102e" stroke-width="0.9"/>
<circle cx="278.67" cy="324.04" r="1.45" fill="none" stroke="#c8102e" stroke-width="0.9"/>
<circle cx="281.27" cy="322.76" r="1.45" fill="none" stroke="#c8102e" stroke-width="0.9"/>
<circle cx="281.57" cy="321.89" r="1.45" fill="none" stroke="#c8102e" stroke-width="0.9"/>
<circle cx="278.46" cy="321.18" r="1.45" fill="none" stroke="#c8102e" stroke-width="0.9"/>
<circle cx="278.18" cy="319.59" r="1.45" fill="none" stroke="#c8102e" stroke-width="0.9"/>
<circle cx="277.97" cy="318.84" r="1.45" fill="none" stroke="#c8102e" stroke-width="0.9"/>
<circle cx="277.93" cy="317.93" r="1.45" fill="none" stroke="#c8102e" stroke-width="0.9"/>
<circle cx="280.63" cy="316.00" r="1.45" fill="none" stroke="#c8102e" stroke-width="0.9"/>
<circle cx="280.36" cy="314.63" r="1.45" fill="none" stroke="#c8102e" stroke-width="0.9"/>
<circle cx="278.96" cy="312.68" r="1.45" fill="none" stroke="#c8102e" stroke-width="0.9"/>
<circle cx="279.58" cy="309.34" r="1.45" fill="none" stroke="#c8102e" stroke-width="0.9"/>
<circle cx="280.00" cy="307.62" r="1.45" fill="none" stroke="#c8102e" stroke-width="0.9"/>
<circle cx="278.73" cy="303.41" r="1.45" fill="none" stroke="#c8102e" stroke-width="0.9"/>
<circle cx="280.17" cy="301.85" r="1.45" fill="none" stroke="#c8102e" stroke-width="0.9"/>
<circle cx="280.20" cy="296.87" r="1.45" fill="none" stroke="#c8102e" stroke-width="0.9"/>
<circle cx="279.13" cy="295.40" r="1.45" fill="none" stroke="#c8102e" stroke-width="0.9"/>
<circle cx="279.80" cy="291.90" r="1.45" fill="none" stroke="#c8102e" stroke-width="0.9"/>
<circle cx="279.80" cy="339.40" r="1.45" fill="none" stroke="#c8102e" stroke-width="0.9"/>
<line x1="359.60" y1="233.30" x2="359.60" y2="348.30" stroke="#1a1a1a" stroke-width="1.25" />
<line x1="356.60" y1="253.80" x2="359.60" y2="253.80" stroke="#222" stroke-width="1.0" />
<text x="354.30" y="256.60" font-size="8.0" text-anchor="end" font-weight="normal" fill="#2a2a2a" stroke="#2a2a2a" stroke-width="0.18" style="">750</text>
<line x1="356.60" y1="283.30" x2="359.60" y2="283.30" stroke="#222" stroke-width="1.0" />
<text x="354.30" y="286.10" font-size="8.0" text-anchor="end" font-weight="normal" fill="#2a2a2a" stroke="#2a2a2a" stroke-width="0.18" style="">500</text>
<line x1="356.60" y1="313.40" x2="359.60" y2="313.40" stroke="#222" stroke-width="1.0" />
<text x="354.30" y="316.20" font-size="8.0" text-anchor="end" font-weight="normal" fill="#2a2a2a" stroke="#2a2a2a" stroke-width="0.18" style="">250</text>
<line x1="356.60" y1="343.00" x2="359.60" y2="343.00" stroke="#222" stroke-width="1.0" />
<text x="354.30" y="345.80" font-size="8.0" text-anchor="end" font-weight="normal" fill="#2a2a2a" stroke="#2a2a2a" stroke-width="0.18" style="">0</text>
<line x1="359.00" y1="348.30" x2="401.30" y2="348.30" stroke="#1a1a1a" stroke-width="1.15" />
<line x1="370.40" y1="348.30" x2="370.40" y2="351.10" stroke="#333" stroke-width="0.9" />
<line x1="391.00" y1="348.30" x2="391.00" y2="351.10" stroke="#333" stroke-width="0.9" />
<g transform="translate(327.00,290.50) rotate(-90) scale(0.73,1)"><text x="0" y="2.92" font-size="8.1" font-weight="normal" text-anchor="middle" fill="#222" stroke="#222" stroke-width="0.45">Dmax</text></g>
<path d="M370.10,241.70V238.80H391.30V241.70" fill="none" stroke="#5a5a5a" stroke-width="0.9"/>
<text x="380.70" y="236.70" font-size="7.9" text-anchor="middle" font-weight="normal" fill="#2a2a2a" stroke="#2a2a2a" stroke-width="0.18" style="">0.0024</text>
<line x1="370.40" y1="275.00" x2="370.40" y2="343.00" stroke="#1d4f8f" stroke-width="0.9" />
<rect x="364.40" y="308.50" width="12.00" height="26.40" fill="#9aaed8" stroke="#5a6fb0" stroke-width="0.6" />
<line x1="364.40" y1="325.10" x2="376.40" y2="325.10" stroke="#163f78" stroke-width="1.6" />
<circle cx="367.16" cy="342.91" r="1.45" fill="none" stroke="#1d4f8f" stroke-width="0.9"/>
<circle cx="369.39" cy="342.53" r="1.45" fill="none" stroke="#1d4f8f" stroke-width="0.9"/>
<circle cx="371.67" cy="342.43" r="1.45" fill="none" stroke="#1d4f8f" stroke-width="0.9"/>
<circle cx="366.89" cy="342.11" r="1.45" fill="none" stroke="#1d4f8f" stroke-width="0.9"/>
<circle cx="370.96" cy="341.89" r="1.45" fill="none" stroke="#1d4f8f" stroke-width="0.9"/>
<circle cx="374.30" cy="341.59" r="1.45" fill="none" stroke="#1d4f8f" stroke-width="0.9"/>
<circle cx="369.83" cy="341.24" r="1.45" fill="none" stroke="#1d4f8f" stroke-width="0.9"/>
<circle cx="372.70" cy="341.03" r="1.45" fill="none" stroke="#1d4f8f" stroke-width="0.9"/>
<circle cx="371.20" cy="340.75" r="1.45" fill="none" stroke="#1d4f8f" stroke-width="0.9"/>
<circle cx="371.11" cy="340.39" r="1.45" fill="none" stroke="#1d4f8f" stroke-width="0.9"/>
<circle cx="367.58" cy="340.30" r="1.45" fill="none" stroke="#1d4f8f" stroke-width="0.9"/>
<circle cx="370.09" cy="340.03" r="1.45" fill="none" stroke="#1d4f8f" stroke-width="0.9"/>
<circle cx="373.81" cy="339.65" r="1.45" fill="none" stroke="#1d4f8f" stroke-width="0.9"/>
<circle cx="371.88" cy="339.49" r="1.45" fill="none" stroke="#1d4f8f" stroke-width="0.9"/>
<circle cx="368.02" cy="339.00" r="1.45" fill="none" stroke="#1d4f8f" stroke-width="0.9"/>
<circle cx="369.96" cy="338.87" r="1.45" fill="none" stroke="#1d4f8f" stroke-width="0.9"/>
<circle cx="370.76" cy="338.56" r="1.45" fill="none" stroke="#1d4f8f" stroke-width="0.9"/>
<circle cx="369.05" cy="338.28" r="1.45" fill="none" stroke="#1d4f8f" stroke-width="0.9"/>
<circle cx="371.04" cy="337.89" r="1.45" fill="none" stroke="#1d4f8f" stroke-width="0.9"/>
<circle cx="371.48" cy="337.57" r="1.45" fill="none" stroke="#1d4f8f" stroke-width="0.9"/>
<circle cx="366.47" cy="337.34" r="1.45" fill="none" stroke="#1d4f8f" stroke-width="0.9"/>
<circle cx="368.12" cy="337.18" r="1.45" fill="none" stroke="#1d4f8f" stroke-width="0.9"/>
<circle cx="371.67" cy="336.83" r="1.45" fill="none" stroke="#1d4f8f" stroke-width="0.9"/>
<circle cx="368.11" cy="336.44" r="1.45" fill="none" stroke="#1d4f8f" stroke-width="0.9"/>
<circle cx="366.98" cy="336.27" r="1.45" fill="none" stroke="#1d4f8f" stroke-width="0.9"/>
<circle cx="372.48" cy="335.79" r="1.45" fill="none" stroke="#1d4f8f" stroke-width="0.9"/>
<circle cx="369.08" cy="335.49" r="1.45" fill="none" stroke="#1d4f8f" stroke-width="0.9"/>
<circle cx="374.02" cy="335.36" r="1.45" fill="none" stroke="#1d4f8f" stroke-width="0.9"/>
<circle cx="370.86" cy="335.01" r="1.45" fill="none" stroke="#1d4f8f" stroke-width="0.9"/>
<circle cx="367.26" cy="334.74" r="1.45" fill="none" stroke="#1d4f8f" stroke-width="0.9"/>
<circle cx="371.48" cy="334.30" r="1.45" fill="none" stroke="#1d4f8f" stroke-width="0.9"/>
<circle cx="368.52" cy="334.18" r="1.45" fill="none" stroke="#1d4f8f" stroke-width="0.9"/>
<circle cx="372.89" cy="333.70" r="1.45" fill="none" stroke="#1d4f8f" stroke-width="0.9"/>
<circle cx="372.17" cy="333.57" r="1.45" fill="none" stroke="#1d4f8f" stroke-width="0.9"/>
<circle cx="372.44" cy="333.05" r="1.45" fill="none" stroke="#1d4f8f" stroke-width="0.9"/>
<circle cx="366.91" cy="332.82" r="1.45" fill="none" stroke="#1d4f8f" stroke-width="0.9"/>
<circle cx="366.74" cy="332.50" r="1.45" fill="none" stroke="#1d4f8f" stroke-width="0.9"/>
<circle cx="372.73" cy="332.33" r="1.45" fill="none" stroke="#1d4f8f" stroke-width="0.9"/>
<circle cx="367.60" cy="332.03" r="1.45" fill="none" stroke="#1d4f8f" stroke-width="0.9"/>
<circle cx="368.09" cy="331.63" r="1.45" fill="none" stroke="#1d4f8f" stroke-width="0.9"/>
<circle cx="366.81" cy="331.14" r="1.45" fill="none" stroke="#1d4f8f" stroke-width="0.9"/>
<circle cx="367.84" cy="330.93" r="1.45" fill="none" stroke="#1d4f8f" stroke-width="0.9"/>
<circle cx="370.20" cy="330.53" r="1.45" fill="none" stroke="#1d4f8f" stroke-width="0.9"/>
<circle cx="373.83" cy="330.44" r="1.45" fill="none" stroke="#1d4f8f" stroke-width="0.9"/>
<circle cx="369.08" cy="330.10" r="1.45" fill="none" stroke="#1d4f8f" stroke-width="0.9"/>
<circle cx="368.64" cy="329.79" r="1.45" fill="none" stroke="#1d4f8f" stroke-width="0.9"/>
<circle cx="372.76" cy="329.24" r="1.45" fill="none" stroke="#1d4f8f" stroke-width="0.9"/>
<circle cx="368.15" cy="329.06" r="1.45" fill="none" stroke="#1d4f8f" stroke-width="0.9"/>
<circle cx="371.35" cy="328.68" r="1.45" fill="none" stroke="#1d4f8f" stroke-width="0.9"/>
<circle cx="371.19" cy="328.19" r="1.45" fill="none" stroke="#1d4f8f" stroke-width="0.9"/>
<circle cx="373.35" cy="327.81" r="1.45" fill="none" stroke="#1d4f8f" stroke-width="0.9"/>
<circle cx="367.34" cy="327.57" r="1.45" fill="none" stroke="#1d4f8f" stroke-width="0.9"/>
<circle cx="370.82" cy="327.14" r="1.45" fill="none" stroke="#1d4f8f" stroke-width="0.9"/>
<circle cx="369.64" cy="326.81" r="1.45" fill="none" stroke="#1d4f8f" stroke-width="0.9"/>
<circle cx="372.46" cy="326.32" r="1.45" fill="none" stroke="#1d4f8f" stroke-width="0.9"/>
<circle cx="368.85" cy="325.99" r="1.45" fill="none" stroke="#1d4f8f" stroke-width="0.9"/>
<circle cx="371.72" cy="325.58" r="1.45" fill="none" stroke="#1d4f8f" stroke-width="0.9"/>
<circle cx="368.49" cy="325.20" r="1.45" fill="none" stroke="#1d4f8f" stroke-width="0.9"/>
<circle cx="370.37" cy="324.75" r="1.45" fill="none" stroke="#1d4f8f" stroke-width="0.9"/>
<circle cx="373.16" cy="324.32" r="1.45" fill="none" stroke="#1d4f8f" stroke-width="0.9"/>
<circle cx="368.89" cy="323.98" r="1.45" fill="none" stroke="#1d4f8f" stroke-width="0.9"/>
<circle cx="369.14" cy="323.40" r="1.45" fill="none" stroke="#1d4f8f" stroke-width="0.9"/>
<circle cx="372.74" cy="322.82" r="1.45" fill="none" stroke="#1d4f8f" stroke-width="0.9"/>
<circle cx="371.37" cy="322.49" r="1.45" fill="none" stroke="#1d4f8f" stroke-width="0.9"/>
<circle cx="368.02" cy="322.07" r="1.45" fill="none" stroke="#1d4f8f" stroke-width="0.9"/>
<circle cx="368.73" cy="321.26" r="1.45" fill="none" stroke="#1d4f8f" stroke-width="0.9"/>
<circle cx="369.01" cy="320.93" r="1.45" fill="none" stroke="#1d4f8f" stroke-width="0.9"/>
<circle cx="369.31" cy="320.39" r="1.45" fill="none" stroke="#1d4f8f" stroke-width="0.9"/>
<circle cx="372.17" cy="319.97" r="1.45" fill="none" stroke="#1d4f8f" stroke-width="0.9"/>
<circle cx="371.40" cy="319.16" r="1.45" fill="none" stroke="#1d4f8f" stroke-width="0.9"/>
<circle cx="372.76" cy="318.68" r="1.45" fill="none" stroke="#1d4f8f" stroke-width="0.9"/>
<circle cx="371.22" cy="318.18" r="1.45" fill="none" stroke="#1d4f8f" stroke-width="0.9"/>
<circle cx="371.01" cy="317.60" r="1.45" fill="none" stroke="#1d4f8f" stroke-width="0.9"/>
<circle cx="369.85" cy="317.00" r="1.45" fill="none" stroke="#1d4f8f" stroke-width="0.9"/>
<circle cx="371.40" cy="316.51" r="1.45" fill="none" stroke="#1d4f8f" stroke-width="0.9"/>
<circle cx="370.37" cy="315.95" r="1.45" fill="none" stroke="#1d4f8f" stroke-width="0.9"/>
<circle cx="368.43" cy="315.35" r="1.45" fill="none" stroke="#1d4f8f" stroke-width="0.9"/>
<circle cx="370.36" cy="314.65" r="1.45" fill="none" stroke="#1d4f8f" stroke-width="0.9"/>
<circle cx="369.90" cy="314.03" r="1.45" fill="none" stroke="#1d4f8f" stroke-width="0.9"/>
<circle cx="370.53" cy="313.33" r="1.45" fill="none" stroke="#1d4f8f" stroke-width="0.9"/>
<circle cx="368.52" cy="312.65" r="1.45" fill="none" stroke="#1d4f8f" stroke-width="0.9"/>
<circle cx="368.48" cy="311.80" r="1.45" fill="none" stroke="#1d4f8f" stroke-width="0.9"/>
<circle cx="372.33" cy="311.03" r="1.45" fill="none" stroke="#1d4f8f" stroke-width="0.9"/>
<circle cx="369.89" cy="310.74" r="1.45" fill="none" stroke="#1d4f8f" stroke-width="0.9"/>
<circle cx="369.73" cy="310.14" r="1.45" fill="none" stroke="#1d4f8f" stroke-width="0.9"/>
<circle cx="369.05" cy="309.21" r="1.45" fill="none" stroke="#1d4f8f" stroke-width="0.9"/>
<circle cx="370.75" cy="308.63" r="1.45" fill="none" stroke="#1d4f8f" stroke-width="0.9"/>
<circle cx="371.88" cy="307.29" r="1.45" fill="none" stroke="#1d4f8f" stroke-width="0.9"/>
<circle cx="369.29" cy="306.59" r="1.45" fill="none" stroke="#1d4f8f" stroke-width="0.9"/>
<circle cx="370.40" cy="305.98" r="1.45" fill="none" stroke="#1d4f8f" stroke-width="0.9"/>
<circle cx="370.40" cy="305.17" r="1.45" fill="none" stroke="#1d4f8f" stroke-width="0.9"/>
<circle cx="371.25" cy="303.68" r="1.45" fill="none" stroke="#1d4f8f" stroke-width="0.9"/>
<circle cx="370.60" cy="302.74" r="1.45" fill="none" stroke="#1d4f8f" stroke-width="0.9"/>
<circle cx="369.60" cy="301.88" r="1.45" fill="none" stroke="#1d4f8f" stroke-width="0.9"/>
<circle cx="369.48" cy="300.85" r="1.45" fill="none" stroke="#1d4f8f" stroke-width="0.9"/>
<circle cx="371.05" cy="299.75" r="1.45" fill="none" stroke="#1d4f8f" stroke-width="0.9"/>
<circle cx="369.19" cy="298.96" r="1.45" fill="none" stroke="#1d4f8f" stroke-width="0.9"/>
<circle cx="371.43" cy="297.92" r="1.45" fill="none" stroke="#1d4f8f" stroke-width="0.9"/>
<circle cx="369.11" cy="296.64" r="1.45" fill="none" stroke="#1d4f8f" stroke-width="0.9"/>
<circle cx="369.56" cy="295.14" r="1.45" fill="none" stroke="#1d4f8f" stroke-width="0.9"/>
<circle cx="370.31" cy="293.84" r="1.45" fill="none" stroke="#1d4f8f" stroke-width="0.9"/>
<circle cx="371.30" cy="292.71" r="1.45" fill="none" stroke="#1d4f8f" stroke-width="0.9"/>
<circle cx="370.71" cy="291.57" r="1.45" fill="none" stroke="#1d4f8f" stroke-width="0.9"/>
<circle cx="371.03" cy="291.18" r="1.45" fill="none" stroke="#1d4f8f" stroke-width="0.9"/>
<circle cx="371.06" cy="289.73" r="1.45" fill="none" stroke="#1d4f8f" stroke-width="0.9"/>
<circle cx="370.95" cy="287.60" r="1.45" fill="none" stroke="#1d4f8f" stroke-width="0.9"/>
<circle cx="369.30" cy="286.79" r="1.45" fill="none" stroke="#1d4f8f" stroke-width="0.9"/>
<circle cx="371.19" cy="285.49" r="1.45" fill="none" stroke="#1d4f8f" stroke-width="0.9"/>
<circle cx="369.55" cy="284.40" r="1.45" fill="none" stroke="#1d4f8f" stroke-width="0.9"/>
<circle cx="369.60" cy="282.35" r="1.45" fill="none" stroke="#1d4f8f" stroke-width="0.9"/>
<circle cx="369.31" cy="281.40" r="1.45" fill="none" stroke="#1d4f8f" stroke-width="0.9"/>
<circle cx="369.31" cy="279.40" r="1.45" fill="none" stroke="#1d4f8f" stroke-width="0.9"/>
<circle cx="371.27" cy="279.15" r="1.45" fill="none" stroke="#1d4f8f" stroke-width="0.9"/>
<circle cx="370.13" cy="276.53" r="1.45" fill="none" stroke="#1d4f8f" stroke-width="0.9"/>
<circle cx="369.46" cy="276.36" r="1.45" fill="none" stroke="#1d4f8f" stroke-width="0.9"/>
<circle cx="369.95" cy="275.00" r="1.45" fill="none" stroke="#1d4f8f" stroke-width="0.9"/>
<circle cx="370.75" cy="343.00" r="1.45" fill="none" stroke="#1d4f8f" stroke-width="0.9"/>
<circle cx="371.90" cy="248.70" r="1.45" fill="none" stroke="#1d4f8f" stroke-width="0.9"/>
<circle cx="373.60" cy="251.80" r="1.45" fill="none" stroke="#1d4f8f" stroke-width="0.9"/>
<circle cx="369.60" cy="256.50" r="1.45" fill="none" stroke="#1d4f8f" stroke-width="0.9"/>
<circle cx="368.80" cy="262.50" r="1.45" fill="none" stroke="#1d4f8f" stroke-width="0.9"/>
<circle cx="372.60" cy="263.50" r="1.45" fill="none" stroke="#1d4f8f" stroke-width="0.9"/>
<circle cx="371.00" cy="270.00" r="1.45" fill="none" stroke="#1d4f8f" stroke-width="0.9"/>
<line x1="391.00" y1="241.80" x2="391.00" y2="343.10" stroke="#c8102e" stroke-width="0.9" />
<rect x="385.00" y="280.00" width="12.00" height="43.40" fill="#f3a29c" stroke="#eb8a88" stroke-width="0.6" />
<line x1="385.00" y1="314.50" x2="397.00" y2="314.50" stroke="#8a0a1c" stroke-width="1.6" />
<circle cx="389.53" cy="341.00" r="1.45" fill="none" stroke="#c8102e" stroke-width="0.9"/>
<circle cx="390.53" cy="336.66" r="1.45" fill="none" stroke="#c8102e" stroke-width="0.9"/>
<circle cx="391.83" cy="335.98" r="1.45" fill="none" stroke="#c8102e" stroke-width="0.9"/>
<circle cx="390.49" cy="332.67" r="1.45" fill="none" stroke="#c8102e" stroke-width="0.9"/>
<circle cx="391.83" cy="329.40" r="1.45" fill="none" stroke="#c8102e" stroke-width="0.9"/>
<circle cx="392.63" cy="327.09" r="1.45" fill="none" stroke="#c8102e" stroke-width="0.9"/>
<circle cx="389.16" cy="325.02" r="1.45" fill="none" stroke="#c8102e" stroke-width="0.9"/>
<circle cx="389.99" cy="323.01" r="1.45" fill="none" stroke="#c8102e" stroke-width="0.9"/>
<circle cx="389.72" cy="321.09" r="1.45" fill="none" stroke="#c8102e" stroke-width="0.9"/>
<circle cx="392.69" cy="320.46" r="1.45" fill="none" stroke="#c8102e" stroke-width="0.9"/>
<circle cx="393.05" cy="319.47" r="1.45" fill="none" stroke="#c8102e" stroke-width="0.9"/>
<circle cx="392.30" cy="318.14" r="1.45" fill="none" stroke="#c8102e" stroke-width="0.9"/>
<circle cx="393.39" cy="317.13" r="1.45" fill="none" stroke="#c8102e" stroke-width="0.9"/>
<circle cx="389.50" cy="315.97" r="1.45" fill="none" stroke="#c8102e" stroke-width="0.9"/>
<circle cx="390.57" cy="313.12" r="1.45" fill="none" stroke="#c8102e" stroke-width="0.9"/>
<circle cx="392.41" cy="309.83" r="1.45" fill="none" stroke="#c8102e" stroke-width="0.9"/>
<circle cx="392.06" cy="305.82" r="1.45" fill="none" stroke="#c8102e" stroke-width="0.9"/>
<circle cx="389.45" cy="300.14" r="1.45" fill="none" stroke="#c8102e" stroke-width="0.9"/>
<circle cx="392.92" cy="296.67" r="1.45" fill="none" stroke="#c8102e" stroke-width="0.9"/>
<circle cx="391.96" cy="287.76" r="1.45" fill="none" stroke="#c8102e" stroke-width="0.9"/>
<circle cx="392.46" cy="284.20" r="1.45" fill="none" stroke="#c8102e" stroke-width="0.9"/>
<circle cx="390.45" cy="278.17" r="1.45" fill="none" stroke="#c8102e" stroke-width="0.9"/>
<circle cx="391.42" cy="274.47" r="1.45" fill="none" stroke="#c8102e" stroke-width="0.9"/>
<circle cx="392.83" cy="264.91" r="1.45" fill="none" stroke="#c8102e" stroke-width="0.9"/>
<circle cx="392.59" cy="260.94" r="1.45" fill="none" stroke="#c8102e" stroke-width="0.9"/>
<circle cx="391.31" cy="256.41" r="1.45" fill="none" stroke="#c8102e" stroke-width="0.9"/>
<circle cx="392.56" cy="250.09" r="1.45" fill="none" stroke="#c8102e" stroke-width="0.9"/>
<circle cx="393.00" cy="242.40" r="1.45" fill="none" stroke="#c8102e" stroke-width="0.9"/>
<circle cx="392.36" cy="241.80" r="1.45" fill="none" stroke="#c8102e" stroke-width="0.9"/>
<circle cx="391.62" cy="343.10" r="1.45" fill="none" stroke="#c8102e" stroke-width="0.9"/>
<line x1="465.00" y1="233.30" x2="465.00" y2="348.30" stroke="#1a1a1a" stroke-width="1.25" />
<line x1="462.00" y1="240.90" x2="465.00" y2="240.90" stroke="#222" stroke-width="1.0" />
<text x="459.70" y="243.70" font-size="8.0" text-anchor="end" font-weight="normal" fill="#2a2a2a" stroke="#2a2a2a" stroke-width="0.18" style="">100</text>
<line x1="462.00" y1="266.80" x2="465.00" y2="266.80" stroke="#222" stroke-width="1.0" />
<text x="459.70" y="269.60" font-size="8.0" text-anchor="end" font-weight="normal" fill="#2a2a2a" stroke="#2a2a2a" stroke-width="0.18" style="">75</text>
<line x1="462.00" y1="292.40" x2="465.00" y2="292.40" stroke="#222" stroke-width="1.0" />
<text x="459.70" y="295.20" font-size="8.0" text-anchor="end" font-weight="normal" fill="#2a2a2a" stroke="#2a2a2a" stroke-width="0.18" style="">50</text>
<line x1="462.00" y1="318.30" x2="465.00" y2="318.30" stroke="#222" stroke-width="1.0" />
<text x="459.70" y="321.10" font-size="8.0" text-anchor="end" font-weight="normal" fill="#2a2a2a" stroke="#2a2a2a" stroke-width="0.18" style="">25</text>
<line x1="462.00" y1="343.90" x2="465.00" y2="343.90" stroke="#222" stroke-width="1.0" />
<text x="459.70" y="346.70" font-size="8.0" text-anchor="end" font-weight="normal" fill="#2a2a2a" stroke="#2a2a2a" stroke-width="0.18" style="">0</text>
<line x1="464.40" y1="348.30" x2="507.20" y2="348.30" stroke="#1a1a1a" stroke-width="1.15" />
<line x1="475.80" y1="348.30" x2="475.80" y2="351.10" stroke="#333" stroke-width="0.9" />
<line x1="496.80" y1="348.30" x2="496.80" y2="351.10" stroke="#333" stroke-width="0.9" />
<g transform="translate(437.80,290.00) rotate(-90) scale(0.7,1)"><text x="0" y="3.06" font-size="8.5" font-weight="normal" text-anchor="middle" fill="#222" stroke="#222" stroke-width="0.28">Number of lesions</text></g>
<path d="M475.80,241.70V238.80H497.20V241.70" fill="none" stroke="#5a5a5a" stroke-width="0.9"/>
<text x="486.50" y="236.70" font-size="7.9" text-anchor="middle" font-weight="normal" fill="#2a2a2a" stroke="#2a2a2a" stroke-width="0.18" style="">0.0015</text>
<line x1="475.80" y1="316.00" x2="475.80" y2="343.90" stroke="#1d4f8f" stroke-width="0.9" />
<rect x="469.90" y="333.70" width="11.80" height="8.50" fill="#9aaed8" stroke="#5a6fb0" stroke-width="0.6" />
<line x1="469.90" y1="337.50" x2="481.70" y2="337.50" stroke="#163f78" stroke-width="1.6" />
<circle cx="474.84" cy="343.89" r="1.45" fill="none" stroke="#1d4f8f" stroke-width="0.9"/>
<circle cx="472.10" cy="343.89" r="1.45" fill="none" stroke="#1d4f8f" stroke-width="0.9"/>
<circle cx="476.95" cy="343.87" r="1.45" fill="none" stroke="#1d4f8f" stroke-width="0.9"/>
<circle cx="473.95" cy="343.84" r="1.45" fill="none" stroke="#1d4f8f" stroke-width="0.9"/>
<circle cx="474.10" cy="343.83" r="1.45" fill="none" stroke="#1d4f8f" stroke-width="0.9"/>
<circle cx="475.49" cy="343.78" r="1.45" fill="none" stroke="#1d4f8f" stroke-width="0.9"/>
<circle cx="476.20" cy="343.76" r="1.45" fill="none" stroke="#1d4f8f" stroke-width="0.9"/>
<circle cx="476.71" cy="343.71" r="1.45" fill="none" stroke="#1d4f8f" stroke-width="0.9"/>
<circle cx="475.62" cy="343.68" r="1.45" fill="none" stroke="#1d4f8f" stroke-width="0.9"/>
<circle cx="475.17" cy="343.63" r="1.45" fill="none" stroke="#1d4f8f" stroke-width="0.9"/>
<circle cx="475.42" cy="343.56" r="1.45" fill="none" stroke="#1d4f8f" stroke-width="0.9"/>
<circle cx="476.88" cy="343.53" r="1.45" fill="none" stroke="#1d4f8f" stroke-width="0.9"/>
<circle cx="475.05" cy="343.46" r="1.45" fill="none" stroke="#1d4f8f" stroke-width="0.9"/>
<circle cx="474.59" cy="343.37" r="1.45" fill="none" stroke="#1d4f8f" stroke-width="0.9"/>
<circle cx="476.72" cy="343.30" r="1.45" fill="none" stroke="#1d4f8f" stroke-width="0.9"/>
<circle cx="475.76" cy="343.28" r="1.45" fill="none" stroke="#1d4f8f" stroke-width="0.9"/>
<circle cx="474.96" cy="343.20" r="1.45" fill="none" stroke="#1d4f8f" stroke-width="0.9"/>
<circle cx="474.99" cy="343.11" r="1.45" fill="none" stroke="#1d4f8f" stroke-width="0.9"/>
<circle cx="476.65" cy="343.07" r="1.45" fill="none" stroke="#1d4f8f" stroke-width="0.9"/>
<circle cx="476.33" cy="342.95" r="1.45" fill="none" stroke="#1d4f8f" stroke-width="0.9"/>
<circle cx="474.88" cy="342.91" r="1.45" fill="none" stroke="#1d4f8f" stroke-width="0.9"/>
<circle cx="476.16" cy="342.81" r="1.45" fill="none" stroke="#1d4f8f" stroke-width="0.9"/>
<circle cx="475.22" cy="342.74" r="1.45" fill="none" stroke="#1d4f8f" stroke-width="0.9"/>
<circle cx="475.69" cy="342.69" r="1.45" fill="none" stroke="#1d4f8f" stroke-width="0.9"/>
<circle cx="476.01" cy="342.60" r="1.45" fill="none" stroke="#1d4f8f" stroke-width="0.9"/>
<circle cx="474.91" cy="342.52" r="1.45" fill="none" stroke="#1d4f8f" stroke-width="0.9"/>
<circle cx="476.65" cy="342.41" r="1.45" fill="none" stroke="#1d4f8f" stroke-width="0.9"/>
<circle cx="475.48" cy="342.33" r="1.45" fill="none" stroke="#1d4f8f" stroke-width="0.9"/>
<circle cx="475.12" cy="342.18" r="1.45" fill="none" stroke="#1d4f8f" stroke-width="0.9"/>
<circle cx="476.30" cy="342.12" r="1.45" fill="none" stroke="#1d4f8f" stroke-width="0.9"/>
<circle cx="475.14" cy="342.07" r="1.45" fill="none" stroke="#1d4f8f" stroke-width="0.9"/>
<circle cx="475.10" cy="341.90" r="1.45" fill="none" stroke="#1d4f8f" stroke-width="0.9"/>
<circle cx="476.02" cy="341.83" r="1.45" fill="none" stroke="#1d4f8f" stroke-width="0.9"/>
<circle cx="475.76" cy="341.67" r="1.45" fill="none" stroke="#1d4f8f" stroke-width="0.9"/>
<circle cx="476.31" cy="341.50" r="1.45" fill="none" stroke="#1d4f8f" stroke-width="0.9"/>
<circle cx="476.16" cy="341.33" r="1.45" fill="none" stroke="#1d4f8f" stroke-width="0.9"/>
<circle cx="475.45" cy="341.16" r="1.45" fill="none" stroke="#1d4f8f" stroke-width="0.9"/>
<circle cx="475.27" cy="341.07" r="1.45" fill="none" stroke="#1d4f8f" stroke-width="0.9"/>
<circle cx="475.92" cy="340.92" r="1.45" fill="none" stroke="#1d4f8f" stroke-width="0.9"/>
<circle cx="475.77" cy="340.74" r="1.45" fill="none" stroke="#1d4f8f" stroke-width="0.9"/>
<circle cx="475.58" cy="340.57" r="1.45" fill="none" stroke="#1d4f8f" stroke-width="0.9"/>
<circle cx="476.24" cy="340.32" r="1.45" fill="none" stroke="#1d4f8f" stroke-width="0.9"/>
<circle cx="475.49" cy="340.19" r="1.45" fill="none" stroke="#1d4f8f" stroke-width="0.9"/>
<circle cx="475.95" cy="339.96" r="1.45" fill="none" stroke="#1d4f8f" stroke-width="0.9"/>
<circle cx="475.36" cy="339.86" r="1.45" fill="none" stroke="#1d4f8f" stroke-width="0.9"/>
<circle cx="476.24" cy="339.57" r="1.45" fill="none" stroke="#1d4f8f" stroke-width="0.9"/>
<circle cx="476.27" cy="339.34" r="1.45" fill="none" stroke="#1d4f8f" stroke-width="0.9"/>
<circle cx="475.92" cy="339.29" r="1.45" fill="none" stroke="#1d4f8f" stroke-width="0.9"/>
<circle cx="475.61" cy="339.03" r="1.45" fill="none" stroke="#1d4f8f" stroke-width="0.9"/>
<circle cx="476.04" cy="338.92" r="1.45" fill="none" stroke="#1d4f8f" stroke-width="0.9"/>
<circle cx="476.23" cy="338.75" r="1.45" fill="none" stroke="#1d4f8f" stroke-width="0.9"/>
<circle cx="476.12" cy="338.51" r="1.45" fill="none" stroke="#1d4f8f" stroke-width="0.9"/>
<circle cx="475.30" cy="338.36" r="1.45" fill="none" stroke="#1d4f8f" stroke-width="0.9"/>
<circle cx="475.80" cy="338.10" r="1.45" fill="none" stroke="#1d4f8f" stroke-width="0.9"/>
<circle cx="475.38" cy="337.96" r="1.45" fill="none" stroke="#1d4f8f" stroke-width="0.9"/>
<circle cx="475.86" cy="337.78" r="1.45" fill="none" stroke="#1d4f8f" stroke-width="0.9"/>
<circle cx="476.36" cy="337.59" r="1.45" fill="none" stroke="#1d4f8f" stroke-width="0.9"/>
<circle cx="476.26" cy="337.56" r="1.45" fill="none" stroke="#1d4f8f" stroke-width="0.9"/>
<circle cx="475.47" cy="337.41" r="1.45" fill="none" stroke="#1d4f8f" stroke-width="0.9"/>
<circle cx="475.87" cy="337.28" r="1.45" fill="none" stroke="#1d4f8f" stroke-width="0.9"/>
<circle cx="475.54" cy="337.10" r="1.45" fill="none" stroke="#1d4f8f" stroke-width="0.9"/>
<circle cx="475.30" cy="336.94" r="1.45" fill="none" stroke="#1d4f8f" stroke-width="0.9"/>
<circle cx="476.18" cy="336.83" r="1.45" fill="none" stroke="#1d4f8f" stroke-width="0.9"/>
<circle cx="476.21" cy="336.73" r="1.45" fill="none" stroke="#1d4f8f" stroke-width="0.9"/>
<circle cx="475.53" cy="336.59" r="1.45" fill="none" stroke="#1d4f8f" stroke-width="0.9"/>
<circle cx="475.67" cy="336.53" r="1.45" fill="none" stroke="#1d4f8f" stroke-width="0.9"/>
<circle cx="476.13" cy="336.45" r="1.45" fill="none" stroke="#1d4f8f" stroke-width="0.9"/>
<circle cx="476.18" cy="336.30" r="1.45" fill="none" stroke="#1d4f8f" stroke-width="0.9"/>
<circle cx="475.74" cy="336.25" r="1.45" fill="none" stroke="#1d4f8f" stroke-width="0.9"/>
<circle cx="475.16" cy="336.13" r="1.45" fill="none" stroke="#1d4f8f" stroke-width="0.9"/>
<circle cx="475.12" cy="336.05" r="1.45" fill="none" stroke="#1d4f8f" stroke-width="0.9"/>
<circle cx="475.25" cy="335.93" r="1.45" fill="none" stroke="#1d4f8f" stroke-width="0.9"/>
<circle cx="476.33" cy="335.83" r="1.45" fill="none" stroke="#1d4f8f" stroke-width="0.9"/>
<circle cx="475.79" cy="335.68" r="1.45" fill="none" stroke="#1d4f8f" stroke-width="0.9"/>
<circle cx="476.02" cy="335.60" r="1.45" fill="none" stroke="#1d4f8f" stroke-width="0.9"/>
<circle cx="475.60" cy="335.43" r="1.45" fill="none" stroke="#1d4f8f" stroke-width="0.9"/>
<circle cx="475.61" cy="335.28" r="1.45" fill="none" stroke="#1d4f8f" stroke-width="0.9"/>
<circle cx="475.35" cy="335.21" r="1.45" fill="none" stroke="#1d4f8f" stroke-width="0.9"/>
<circle cx="476.44" cy="335.10" r="1.45" fill="none" stroke="#1d4f8f" stroke-width="0.9"/>
<circle cx="475.93" cy="334.89" r="1.45" fill="none" stroke="#1d4f8f" stroke-width="0.9"/>
<circle cx="475.35" cy="334.73" r="1.45" fill="none" stroke="#1d4f8f" stroke-width="0.9"/>
<circle cx="476.03" cy="334.54" r="1.45" fill="none" stroke="#1d4f8f" stroke-width="0.9"/>
<circle cx="475.91" cy="334.42" r="1.45" fill="none" stroke="#1d4f8f" stroke-width="0.9"/>
<circle cx="475.92" cy="334.24" r="1.45" fill="none" stroke="#1d4f8f" stroke-width="0.9"/>
<circle cx="476.07" cy="334.00" r="1.45" fill="none" stroke="#1d4f8f" stroke-width="0.9"/>
<circle cx="475.91" cy="333.83" r="1.45" fill="none" stroke="#1d4f8f" stroke-width="0.9"/>
<circle cx="476.18" cy="333.54" r="1.45" fill="none" stroke="#1d4f8f" stroke-width="0.9"/>
<circle cx="476.27" cy="333.45" r="1.45" fill="none" stroke="#1d4f8f" stroke-width="0.9"/>
<circle cx="475.71" cy="333.04" r="1.45" fill="none" stroke="#1d4f8f" stroke-width="0.9"/>
<circle cx="475.95" cy="332.76" r="1.45" fill="none" stroke="#1d4f8f" stroke-width="0.9"/>
<circle cx="475.67" cy="332.45" r="1.45" fill="none" stroke="#1d4f8f" stroke-width="0.9"/>
<circle cx="475.71" cy="332.23" r="1.45" fill="none" stroke="#1d4f8f" stroke-width="0.9"/>
<circle cx="475.67" cy="331.64" r="1.45" fill="none" stroke="#1d4f8f" stroke-width="0.9"/>
<circle cx="475.95" cy="331.28" r="1.45" fill="none" stroke="#1d4f8f" stroke-width="0.9"/>
<circle cx="475.65" cy="330.65" r="1.45" fill="none" stroke="#1d4f8f" stroke-width="0.9"/>
<circle cx="475.65" cy="330.18" r="1.45" fill="none" stroke="#1d4f8f" stroke-width="0.9"/>
<circle cx="476.15" cy="329.64" r="1.45" fill="none" stroke="#1d4f8f" stroke-width="0.9"/>
<circle cx="476.10" cy="329.31" r="1.45" fill="none" stroke="#1d4f8f" stroke-width="0.9"/>
<circle cx="475.98" cy="328.69" r="1.45" fill="none" stroke="#1d4f8f" stroke-width="0.9"/>
<circle cx="476.14" cy="327.81" r="1.45" fill="none" stroke="#1d4f8f" stroke-width="0.9"/>
<circle cx="475.69" cy="327.12" r="1.45" fill="none" stroke="#1d4f8f" stroke-width="0.9"/>
<circle cx="475.94" cy="326.27" r="1.45" fill="none" stroke="#1d4f8f" stroke-width="0.9"/>
<circle cx="475.55" cy="325.70" r="1.45" fill="none" stroke="#1d4f8f" stroke-width="0.9"/>
<circle cx="475.62" cy="325.31" r="1.45" fill="none" stroke="#1d4f8f" stroke-width="0.9"/>
<circle cx="475.40" cy="324.49" r="1.45" fill="none" stroke="#1d4f8f" stroke-width="0.9"/>
<circle cx="476.10" cy="323.71" r="1.45" fill="none" stroke="#1d4f8f" stroke-width="0.9"/>
<circle cx="476.22" cy="322.75" r="1.45" fill="none" stroke="#1d4f8f" stroke-width="0.9"/>
<circle cx="475.60" cy="322.26" r="1.45" fill="none" stroke="#1d4f8f" stroke-width="0.9"/>
<circle cx="475.68" cy="321.09" r="1.45" fill="none" stroke="#1d4f8f" stroke-width="0.9"/>
<circle cx="475.42" cy="320.61" r="1.45" fill="none" stroke="#1d4f8f" stroke-width="0.9"/>
<circle cx="475.44" cy="319.86" r="1.45" fill="none" stroke="#1d4f8f" stroke-width="0.9"/>
<circle cx="475.94" cy="318.97" r="1.45" fill="none" stroke="#1d4f8f" stroke-width="0.9"/>
<circle cx="476.19" cy="318.23" r="1.45" fill="none" stroke="#1d4f8f" stroke-width="0.9"/>
<circle cx="475.38" cy="316.90" r="1.45" fill="none" stroke="#1d4f8f" stroke-width="0.9"/>
<circle cx="475.55" cy="316.78" r="1.45" fill="none" stroke="#1d4f8f" stroke-width="0.9"/>
<circle cx="476.06" cy="316.00" r="1.45" fill="none" stroke="#1d4f8f" stroke-width="0.9"/>
<circle cx="475.53" cy="343.90" r="1.45" fill="none" stroke="#1d4f8f" stroke-width="0.9"/>
<circle cx="476.80" cy="269.60" r="1.45" fill="none" stroke="#1d4f8f" stroke-width="0.9"/>
<circle cx="478.40" cy="284.40" r="1.45" fill="none" stroke="#1d4f8f" stroke-width="0.9"/>
<circle cx="473.70" cy="299.80" r="1.45" fill="none" stroke="#1d4f8f" stroke-width="0.9"/>
<circle cx="478.40" cy="302.30" r="1.45" fill="none" stroke="#1d4f8f" stroke-width="0.9"/>
<circle cx="476.00" cy="305.40" r="1.45" fill="none" stroke="#1d4f8f" stroke-width="0.9"/>
<circle cx="479.00" cy="311.50" r="1.45" fill="none" stroke="#1d4f8f" stroke-width="0.9"/>
<circle cx="474.00" cy="313.70" r="1.45" fill="none" stroke="#1d4f8f" stroke-width="0.9"/>
<line x1="496.80" y1="310.20" x2="496.80" y2="342.20" stroke="#c8102e" stroke-width="0.9" />
<rect x="490.80" y="326.80" width="12.00" height="10.30" fill="#f3a29c" stroke="#eb8a88" stroke-width="0.6" />
<line x1="490.80" y1="332.00" x2="502.80" y2="332.00" stroke="#8a0a1c" stroke-width="1.6" />
<circle cx="497.16" cy="341.59" r="1.45" fill="none" stroke="#c8102e" stroke-width="0.9"/>
<circle cx="495.00" cy="341.20" r="1.45" fill="none" stroke="#c8102e" stroke-width="0.9"/>
<circle cx="498.28" cy="340.40" r="1.45" fill="none" stroke="#c8102e" stroke-width="0.9"/>
<circle cx="494.83" cy="339.85" r="1.45" fill="none" stroke="#c8102e" stroke-width="0.9"/>
<circle cx="497.08" cy="339.06" r="1.45" fill="none" stroke="#c8102e" stroke-width="0.9"/>
<circle cx="494.86" cy="338.24" r="1.45" fill="none" stroke="#c8102e" stroke-width="0.9"/>
<circle cx="494.84" cy="337.61" r="1.45" fill="none" stroke="#c8102e" stroke-width="0.9"/>
<circle cx="496.37" cy="336.59" r="1.45" fill="none" stroke="#c8102e" stroke-width="0.9"/>
<circle cx="495.14" cy="336.32" r="1.45" fill="none" stroke="#c8102e" stroke-width="0.9"/>
<circle cx="499.17" cy="335.19" r="1.45" fill="none" stroke="#c8102e" stroke-width="0.9"/>
<circle cx="497.18" cy="334.36" r="1.45" fill="none" stroke="#c8102e" stroke-width="0.9"/>
<circle cx="498.71" cy="333.94" r="1.45" fill="none" stroke="#c8102e" stroke-width="0.9"/>
<circle cx="498.99" cy="333.30" r="1.45" fill="none" stroke="#c8102e" stroke-width="0.9"/>
<circle cx="498.04" cy="332.62" r="1.45" fill="none" stroke="#c8102e" stroke-width="0.9"/>
<circle cx="497.50" cy="331.91" r="1.45" fill="none" stroke="#c8102e" stroke-width="0.9"/>
<circle cx="496.66" cy="330.78" r="1.45" fill="none" stroke="#c8102e" stroke-width="0.9"/>
<circle cx="498.24" cy="330.23" r="1.45" fill="none" stroke="#c8102e" stroke-width="0.9"/>
<circle cx="497.67" cy="329.92" r="1.45" fill="none" stroke="#c8102e" stroke-width="0.9"/>
<circle cx="495.16" cy="328.95" r="1.45" fill="none" stroke="#c8102e" stroke-width="0.9"/>
<circle cx="496.93" cy="328.07" r="1.45" fill="none" stroke="#c8102e" stroke-width="0.9"/>
<circle cx="496.45" cy="327.43" r="1.45" fill="none" stroke="#c8102e" stroke-width="0.9"/>
<circle cx="496.86" cy="326.72" r="1.45" fill="none" stroke="#c8102e" stroke-width="0.9"/>
<circle cx="497.51" cy="325.30" r="1.45" fill="none" stroke="#c8102e" stroke-width="0.9"/>
<circle cx="497.35" cy="324.12" r="1.45" fill="none" stroke="#c8102e" stroke-width="0.9"/>
<circle cx="496.95" cy="321.56" r="1.45" fill="none" stroke="#c8102e" stroke-width="0.9"/>
<circle cx="497.34" cy="320.61" r="1.45" fill="none" stroke="#c8102e" stroke-width="0.9"/>
<circle cx="497.18" cy="315.39" r="1.45" fill="none" stroke="#c8102e" stroke-width="0.9"/>
<circle cx="496.37" cy="311.02" r="1.45" fill="none" stroke="#c8102e" stroke-width="0.9"/>
<circle cx="496.45" cy="310.20" r="1.45" fill="none" stroke="#c8102e" stroke-width="0.9"/>
<circle cx="496.35" cy="342.20" r="1.45" fill="none" stroke="#c8102e" stroke-width="0.9"/>
<circle cx="497.50" cy="243.30" r="1.45" fill="none" stroke="#c8102e" stroke-width="0.9"/>
<circle cx="500.70" cy="293.60" r="1.45" fill="none" stroke="#c8102e" stroke-width="0.9"/>
<circle cx="497.50" cy="305.40" r="1.45" fill="none" stroke="#c8102e" stroke-width="0.9"/>
<circle cx="499.50" cy="307.30" r="1.45" fill="none" stroke="#c8102e" stroke-width="0.9"/>
<text x="187.30" y="194.20" font-size="7.2" text-anchor="start" font-weight="normal" fill="#222" stroke="#2a2a2a" stroke-width="0.18" style="font-style:italic">Stage</text>
<line x1="222.90" y1="182.80" x2="222.90" y2="200.20" stroke="#2a3f6a" stroke-width="1.0" />
<rect x="214.80" y="186.40" width="16.20" height="10.40" fill="#8598cc" stroke="none" stroke-width="0" />
<line x1="214.80" y1="191.60" x2="231.00" y2="191.60" stroke="#1a3c78" stroke-width="1.7" />
<circle cx="222.90" cy="191.60" r="1.5" fill="#1a3c78"/>
<text x="233.90" y="194.10" font-size="7" text-anchor="start" font-weight="normal" fill="#2a2a2a" stroke="#2a2a2a" stroke-width="0.18" style="">I</text>
<line x1="252.10" y1="182.80" x2="252.10" y2="200.20" stroke="#5a2030" stroke-width="1.0" />
<rect x="244.00" y="186.40" width="16.20" height="10.40" fill="#f28686" stroke="none" stroke-width="0" />
<line x1="244.00" y1="191.60" x2="260.20" y2="191.60" stroke="#a8101e" stroke-width="1.7" />
<circle cx="252.10" cy="191.60" r="1.5" fill="#a8101e"/>
<text x="262.60" y="194.10" font-size="7" text-anchor="start" font-weight="normal" fill="#2a2a2a" stroke="#2a2a2a" stroke-width="0.18" style="">II</text>
<line x1="282.70" y1="182.80" x2="282.70" y2="200.20" stroke="#9a9a8a" stroke-width="1.0" />
<rect x="274.80" y="186.40" width="15.80" height="10.40" fill="#fbe49a" stroke="none" stroke-width="0" />
<line x1="274.80" y1="191.60" x2="290.60" y2="191.60" stroke="#e2b426" stroke-width="1.7" />
<circle cx="282.70" cy="191.60" r="1.5" fill="#e2b426"/>
<text x="293.90" y="194.10" font-size="7" text-anchor="start" font-weight="normal" fill="#2a2a2a" stroke="#2a2a2a" stroke-width="0.18" style="">III</text>
<line x1="315.70" y1="182.80" x2="315.70" y2="200.20" stroke="#4a5a4a" stroke-width="1.0" />
<rect x="307.70" y="186.40" width="16.00" height="10.40" fill="#9ddc96" stroke="none" stroke-width="0" />
<line x1="307.70" y1="191.60" x2="323.70" y2="191.60" stroke="#2e9a2e" stroke-width="1.7" />
<circle cx="315.70" cy="191.60" r="1.5" fill="#2e9a2e"/>
<text x="326.60" y="194.10" font-size="7" text-anchor="start" font-weight="normal" fill="#2a2a2a" stroke="#2a2a2a" stroke-width="0.18" style="">IV</text>
<text x="199.70" y="366.40" font-size="7.2" text-anchor="start" font-weight="normal" fill="#222" stroke="#2a2a2a" stroke-width="0.18" style="font-style:italic">B symptoms</text>
<line x1="256.15" y1="355.00" x2="256.15" y2="372.40" stroke="#2a3f6a" stroke-width="1.0" />
<rect x="248.00" y="358.60" width="16.30" height="10.40" fill="#8598cc" stroke="none" stroke-width="0" />
<line x1="248.00" y1="363.80" x2="264.30" y2="363.80" stroke="#1a3c78" stroke-width="1.7" />
<circle cx="256.15" cy="363.80" r="1.5" fill="#1a3c78"/>
<text x="267.20" y="366.40" font-size="7.0" text-anchor="start" font-weight="normal" fill="#2a2a2a" stroke="#2a2a2a" stroke-width="0.18" style="">No</text>
<line x1="292.85" y1="355.00" x2="292.85" y2="372.40" stroke="#5a2030" stroke-width="1.0" />
<rect x="284.90" y="358.60" width="15.90" height="10.40" fill="#f28686" stroke="none" stroke-width="0" />
<line x1="284.90" y1="363.80" x2="300.80" y2="363.80" stroke="#a8101e" stroke-width="1.7" />
<circle cx="292.85" cy="363.80" r="1.5" fill="#a8101e"/>
<text x="303.50" y="366.40" font-size="7.0" text-anchor="start" font-weight="normal" fill="#2a2a2a" stroke="#2a2a2a" stroke-width="0.18" style="">Yes</text>
<rect x="0.5" y="0.5" width="519" height="378" fill="none" stroke="#666" stroke-width="1"/></g></svg></body></html>
